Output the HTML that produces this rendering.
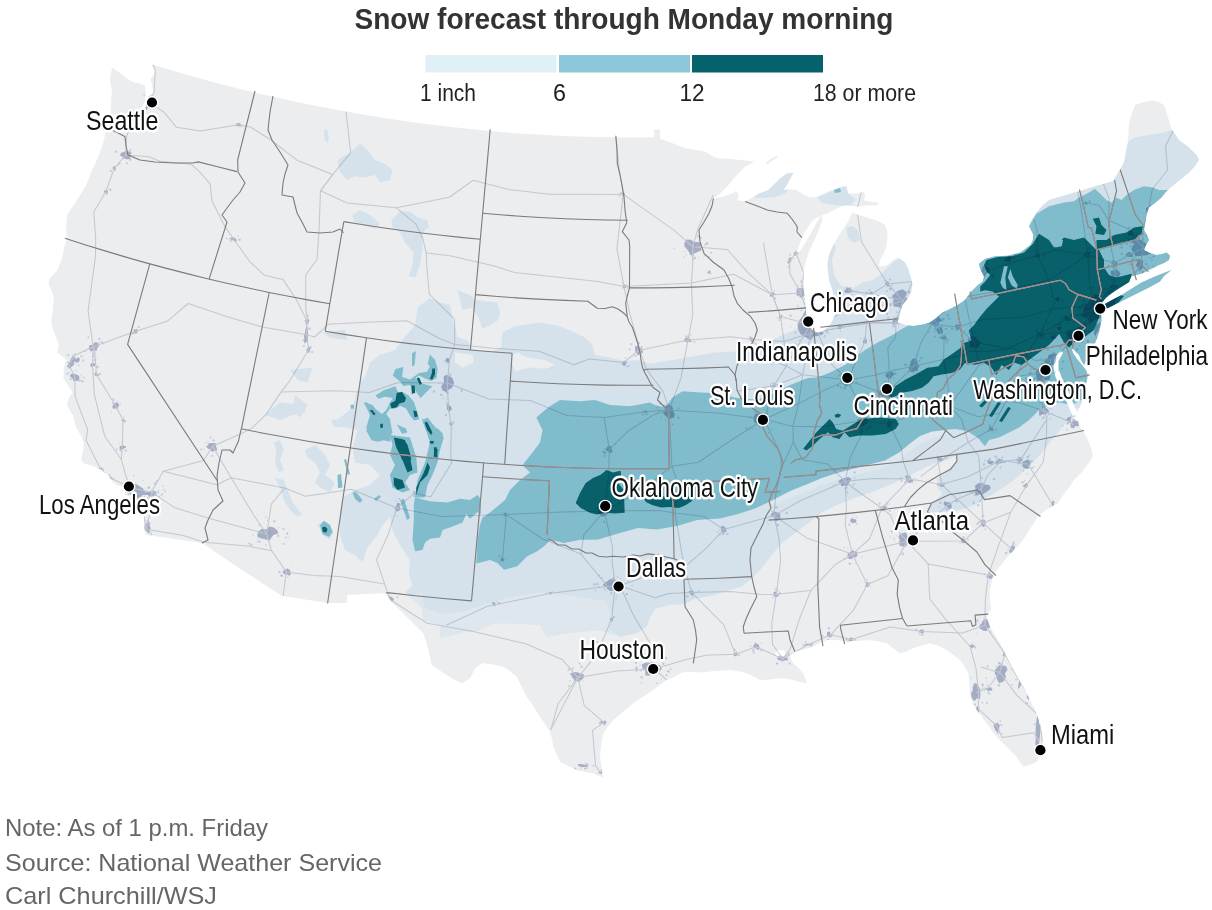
<!DOCTYPE html>
<html><head><meta charset="utf-8"><title>Snow forecast through Monday morning</title>
<style>
html,body{margin:0;padding:0;background:#fff}
body{width:1212px;height:910px;overflow:hidden;font-family:"Liberation Sans",sans-serif}
svg{display:block}
text{font-family:"Liberation Sans",sans-serif}
.lab{font-size:28.5px;fill:#111;stroke:#fff;stroke-width:5px;stroke-linejoin:round;paint-order:stroke fill}
.leg{font-size:23.5px;fill:#222}
.foot{font-size:24px;fill:#666}
.bd{fill:none;stroke:#7d7a7a;stroke-width:1.1;stroke-linejoin:round}
.rd{fill:none;stroke:#d6d8de;stroke-width:1.05;stroke-linejoin:round;stroke-linecap:round}
</style></head><body>
<svg width="1212" height="910" viewBox="0 0 1212 910">
<rect width="1212" height="910" fill="#fff"/>

<defs><clipPath id="landclip"><path d="M152.0,64.4 L179.1,72.5 L206.4,80.2 L233.7,87.4 L261.2,94.1 L288.8,100.3 L316.6,106.1 L344.4,111.3 L372.3,116.1 L400.2,120.4 L428.3,124.3 L456.4,127.6 L484.5,130.5 L512.7,132.9 L541.0,134.8 L569.3,136.2 L597.5,137.1 L625.8,137.5 L654.1,137.5 L654.0,129.5 L660.0,129.5 L660.0,138.5 L672.0,143.0 L685.7,148.3 L697.0,150.0 L705.7,151.7 L712.0,156.0 L717.3,158.3 L730.0,159.0 L740.7,160.0 L754.0,161.5 L755.2,160.9 L745.1,166.7 L736.8,175.1 L728.4,185.1 L720.1,193.5 L713.4,198.5 L723.4,196.5 L731.8,193.5 L736.8,191.0 L738.5,195.1 L737.6,200.2 L741.8,201.0 L745.1,201.5 L750.2,198.5 L754.3,196.8 L759.0,193.5 L768.5,190.1 L773.5,185.1 L780.2,178.4 L786.9,173.4 L793.6,172.6 L790.3,178.4 L786.9,185.1 L783.6,190.1 L790.3,189.3 L796.9,190.1 L803.6,195.1 L810.3,197.6 L817.0,196.8 L823.7,193.5 L832.0,190.1 L840.4,186.8 L847.1,185.9 L847.9,193.5 L857.1,193.5 L863.8,191.8 L865.4,195.1 L863.8,200.2 L870.5,201.8 L878.8,202.7 L877.1,205.2 L867.1,205.2 L857.1,206.8 L847.1,205.2 L840.4,206.8 L833.7,210.2 L827.0,213.5 L820.3,216.2 L813.6,219.5 L810.3,223.5 L807.0,228.6 L803.6,233.6 L801.9,237.7 L798.6,246.9 L796.1,253.6 L800.0,251.0 L805.5,243.0 L811.5,232.0 L817.5,221.0 L822.0,214.5 L822.5,220.0 L818.0,232.0 L813.0,243.0 L808.5,253.0 L806.3,260.0 L803.8,270.0 L803.8,285.0 L805.0,300.0 L806.3,315.0 L808.0,322.0 L810.0,327.5 L814.0,331.0 L817.5,332.5 L822.0,331.5 L825.0,330.0 L828.0,327.5 L830.0,325.0 L833.0,320.0 L835.0,315.0 L834.5,303.0 L832.5,290.0 L830.0,283.0 L828.8,277.5 L827.5,265.0 L828.5,258.0 L830.0,252.5 L833.0,246.0 L836.3,240.0 L839.0,235.0 L842.5,230.0 L845.0,226.0 L847.5,222.5 L849.0,220.0 L850.0,217.5 L851.0,214.5 L852.5,212.5 L857.5,214.5 L862.5,216.3 L869.0,218.0 L875.0,220.0 L880.0,222.0 L885.0,225.0 L887.0,230.0 L887.5,235.0 L887.0,241.0 L886.3,247.5 L883.5,254.0 L880.0,260.0 L878.8,266.3 L883.0,266.0 L887.5,265.0 L892.0,261.0 L897.5,257.5 L901.0,259.5 L905.0,262.5 L908.0,268.5 L910.0,275.0 L911.5,280.0 L912.5,285.0 L911.5,290.0 L910.0,295.0 L906.5,300.0 L902.5,305.0 L901.0,310.0 L900.0,315.0 L898.5,319.0 L897.5,322.5 L902.0,324.0 L907.5,325.5 L914.0,326.0 L920.0,325.0 L925.0,324.0 L930.0,322.5 L936.0,318.0 L942.5,312.5 L950.0,309.0 L957.5,305.0 L965.0,300.0 L970.2,292.7 L977.7,285.2 L982.7,281.4 L984.0,276.4 L980.2,268.9 L978.9,263.8 L985.2,258.8 L995.2,256.3 L1007.8,255.7 L1020.3,252.5 L1030.4,245.0 L1032.9,240.0 L1033.0,234.0 L1031.5,231.0 L1029.0,226.3 L1032.0,219.0 L1036.5,212.5 L1042.0,206.0 L1049.0,200.0 L1064.0,195.5 L1079.0,191.3 L1096.0,186.0 L1112.8,181.3 L1116.0,176.0 L1119.0,171.3 L1122.0,166.0 L1124.0,162.5 L1126.0,152.0 L1127.8,142.5 L1128.5,132.0 L1129.0,122.5 L1132.0,113.0 L1135.3,105.0 L1144.0,102.0 L1152.8,100.5 L1158.5,102.0 L1164.0,105.0 L1167.0,114.0 L1171.5,128.8 L1175.0,134.0 L1179.0,140.0 L1187.0,146.0 L1194.0,152.5 L1197.0,156.0 L1199.0,160.0 L1195.0,166.0 L1189.0,172.5 L1185.0,176.0 L1181.5,178.8 L1175.0,184.0 L1169.0,188.8 L1165.0,193.0 L1161.5,197.5 L1155.0,203.0 L1149.0,207.5 L1146.5,215.0 L1145.3,222.5 L1144.0,230.0 L1147.0,235.0 L1149.0,240.0 L1146.0,245.0 L1144.0,250.0 L1150.0,253.0 L1156.5,255.0 L1162.0,254.0 L1166.5,252.5 L1170.0,255.5 L1169.0,260.0 L1164.0,263.0 L1159.0,265.0 L1154.0,267.5 L1149.0,270.0 L1145.0,272.0 L1141.5,273.8 L1136.0,275.0 L1131.5,276.3 L1130.0,279.5 L1129.0,282.5 L1122.0,286.5 L1116.5,290.0 L1111.0,294.0 L1106.5,297.5 L1103.0,301.5 L1100.3,305.0 L1099.0,307.5 L1101.0,313.0 L1101.5,320.0 L1100.5,326.0 L1099.0,332.5 L1097.0,338.0 L1095.3,342.5 L1092.0,349.0 L1089.0,355.0 L1086.5,360.0 L1084.0,365.0 L1081.0,360.0 L1079.0,355.0 L1075.0,351.0 L1071.5,347.5 L1073.0,353.0 L1077.0,359.0 L1082.0,365.0 L1086.0,370.0 L1087.8,375.0 L1086.5,382.0 L1084.0,390.0 L1083.0,396.0 L1081.5,402.5 L1079.0,409.0 L1076.5,415.0 L1075.0,418.0 L1078.0,421.0 L1079.0,425.0 L1081.5,429.0 L1084.0,432.5 L1086.5,437.0 L1089.0,442.5 L1091.5,449.0 L1092.8,455.0 L1091.5,459.0 L1089.0,462.5 L1085.0,468.0 L1081.5,472.5 L1077.5,476.5 L1074.0,480.0 L1071.5,483.5 L1069.0,487.5 L1065.0,492.5 L1061.5,497.5 L1058.0,503.0 L1054.7,505.0 L1046.0,510.0 L1038.0,516.3 L1030.0,529.0 L1021.0,543.0 L1014.0,550.0 L1008.0,556.3 L1001.0,565.0 L994.7,573.0 L992.0,581.0 L989.7,589.7 L990.0,600.0 L991.0,609.7 L988.0,613.0 L986.7,615.0 L988.0,621.0 L990.0,626.7 L995.0,635.0 L1000.0,643.3 L1005.0,653.0 L1010.0,663.3 L1016.5,675.0 L1023.3,686.7 L1028.5,697.0 L1033.3,706.7 L1037.0,715.0 L1040.0,723.3 L1042.0,732.0 L1043.3,740.0 L1042.8,747.0 L1041.7,753.3 L1039.5,758.0 L1036.7,761.7 L1030.0,765.0 L1023.3,766.7 L1019.5,762.0 L1016.7,756.7 L1011.5,752.0 L1006.7,746.7 L1001.5,742.0 L996.7,736.7 L991.5,730.0 L986.7,723.3 L981.5,716.5 L976.7,710.0 L973.0,703.5 L970.0,696.7 L969.5,685.0 L968.3,673.3 L964.5,666.5 L960.0,660.0 L953.5,655.0 L946.7,650.0 L938.5,646.0 L930.0,643.3 L921.5,645.5 L913.3,648.3 L906.5,651.5 L900.0,653.3 L893.0,648.0 L886.7,643.3 L876.5,641.0 L866.7,640.0 L856.5,641.0 L846.7,641.7 L836.5,640.0 L826.7,640.0 L820.0,643.0 L813.3,646.7 L804.0,649.5 L795.0,651.7 L790.0,655.0 L791.0,659.5 L793.3,663.3 L798.5,668.0 L803.3,673.3 L805.5,678.5 L806.7,683.3 L800.0,682.0 L793.3,680.0 L786.5,678.5 L780.0,678.3 L770.0,679.5 L760.0,680.0 L753.5,676.5 L746.7,673.3 L738.5,671.0 L730.0,670.0 L715.0,671.0 L700.0,672.5 L692.0,672.0 L686.0,671.5 L680.0,673.5 L674.0,677.0 L666.7,680.0 L660.0,685.0 L653.3,690.0 L643.5,696.5 L633.3,703.3 L623.5,711.5 L613.3,720.0 L608.0,726.5 L603.3,733.3 L601.0,745.0 L600.0,756.7 L601.5,767.0 L603.3,778.3 L598.5,775.5 L593.3,773.3 L585.0,772.0 L576.7,770.0 L568.5,766.0 L560.0,761.7 L556.5,754.0 L553.3,746.7 L552.0,739.0 L550.0,731.7 L545.0,724.0 L540.0,716.7 L533.5,706.5 L526.7,696.7 L521.5,686.5 L516.7,676.7 L510.0,671.0 L503.3,666.7 L493.5,664.5 L483.3,663.3 L479.0,665.5 L475.0,668.3 L472.5,673.5 L470.0,678.3 L466.0,681.0 L461.7,683.3 L454.0,679.5 L446.7,675.0 L439.0,670.0 L431.7,665.0 L430.0,657.5 L428.3,650.0 L426.0,641.5 L423.3,633.3 L416.5,626.5 L410.0,620.0 L400.0,610.0 L390.0,600.0 L386.0,593.3 L366.0,594.0 L347.0,595.0 L347.0,603.0 L328.0,603.0 L305.0,599.5 L282.0,596.0 L262.0,583.0 L242.0,570.0 L222.0,556.5 L202.0,543.0 L174.5,539.0 L147.0,535.0 L145.7,534.5 L143.8,529.2 L144.1,525.0 L143.7,514.9 L138.5,506.5 L135.0,501.4 L131.3,497.0 L124.8,494.5 L125.1,488.9 L123.3,486.4 L117.6,485.5 L111.6,481.1 L108.3,475.3 L100.4,469.5 L94.1,466.3 L83.7,463.4 L81.1,459.0 L83.1,450.3 L83.9,443.3 L81.7,436.9 L75.7,426.5 L73.0,415.6 L66.8,405.1 L69.2,397.1 L72.9,392.4 L68.8,386.8 L63.4,377.9 L63.7,369.3 L65.5,361.7 L66.8,360.6 L63.8,357.7 L57.3,352.8 L58.7,344.5 L52.6,327.9 L51.2,321.7 L53.0,309.1 L53.8,296.2 L48.7,284.3 L49.4,278.9 L56.9,270.8 L61.5,260.6 L64.7,245.5 L66.9,238.9 L66.0,226.9 L67.2,214.4 L75.6,202.3 L85.5,186.5 L91.7,171.0 L96.5,160.9 L101.7,148.0 L104.7,137.3 L106.2,127.6 L109.2,118.4 L110.9,110.2 L111.2,98.7 L112.0,90.3 L110.0,80.9 L110.5,73.8 L112.5,67.8 L122.4,74.8 L128.7,79.7 L133.8,82.2 L141.2,83.7 L144.8,85.7 L145.9,92.4 L144.8,100.7 L141.8,107.0 L133.4,111.6 L137.8,113.6 L143.7,110.5 L146.3,105.5 L148.2,101.7 L149.1,96.2 L153.2,92.3 L152.3,85.7 L150.3,79.3 L153.3,75.9 L154.6,70.5 L151.7,65.4Z M1101.5,306.5 L1104.0,304.5 L1112.0,300.0 L1121.5,295.0 L1131.0,289.0 L1141.5,282.5 L1156.0,276.0 L1171.5,270.0 L1164.0,276.0 L1160.0,281.5 L1149.0,287.5 L1139.0,292.5 L1129.0,297.5 L1119.0,302.5 L1109.0,307.5 L1103.0,310.0Z M766.0,163.0 L771.0,158.5 L777.0,155.5 L778.0,157.0 L772.0,161.0 L767.0,164.5Z"/></clipPath></defs>
<path d="M152.0,64.4 L179.1,72.5 L206.4,80.2 L233.7,87.4 L261.2,94.1 L288.8,100.3 L316.6,106.1 L344.4,111.3 L372.3,116.1 L400.2,120.4 L428.3,124.3 L456.4,127.6 L484.5,130.5 L512.7,132.9 L541.0,134.8 L569.3,136.2 L597.5,137.1 L625.8,137.5 L654.1,137.5 L654.0,129.5 L660.0,129.5 L660.0,138.5 L672.0,143.0 L685.7,148.3 L697.0,150.0 L705.7,151.7 L712.0,156.0 L717.3,158.3 L730.0,159.0 L740.7,160.0 L754.0,161.5 L755.2,160.9 L745.1,166.7 L736.8,175.1 L728.4,185.1 L720.1,193.5 L713.4,198.5 L723.4,196.5 L731.8,193.5 L736.8,191.0 L738.5,195.1 L737.6,200.2 L741.8,201.0 L745.1,201.5 L750.2,198.5 L754.3,196.8 L759.0,193.5 L768.5,190.1 L773.5,185.1 L780.2,178.4 L786.9,173.4 L793.6,172.6 L790.3,178.4 L786.9,185.1 L783.6,190.1 L790.3,189.3 L796.9,190.1 L803.6,195.1 L810.3,197.6 L817.0,196.8 L823.7,193.5 L832.0,190.1 L840.4,186.8 L847.1,185.9 L847.9,193.5 L857.1,193.5 L863.8,191.8 L865.4,195.1 L863.8,200.2 L870.5,201.8 L878.8,202.7 L877.1,205.2 L867.1,205.2 L857.1,206.8 L847.1,205.2 L840.4,206.8 L833.7,210.2 L827.0,213.5 L820.3,216.2 L813.6,219.5 L810.3,223.5 L807.0,228.6 L803.6,233.6 L801.9,237.7 L798.6,246.9 L796.1,253.6 L800.0,251.0 L805.5,243.0 L811.5,232.0 L817.5,221.0 L822.0,214.5 L822.5,220.0 L818.0,232.0 L813.0,243.0 L808.5,253.0 L806.3,260.0 L803.8,270.0 L803.8,285.0 L805.0,300.0 L806.3,315.0 L808.0,322.0 L810.0,327.5 L814.0,331.0 L817.5,332.5 L822.0,331.5 L825.0,330.0 L828.0,327.5 L830.0,325.0 L833.0,320.0 L835.0,315.0 L834.5,303.0 L832.5,290.0 L830.0,283.0 L828.8,277.5 L827.5,265.0 L828.5,258.0 L830.0,252.5 L833.0,246.0 L836.3,240.0 L839.0,235.0 L842.5,230.0 L845.0,226.0 L847.5,222.5 L849.0,220.0 L850.0,217.5 L851.0,214.5 L852.5,212.5 L857.5,214.5 L862.5,216.3 L869.0,218.0 L875.0,220.0 L880.0,222.0 L885.0,225.0 L887.0,230.0 L887.5,235.0 L887.0,241.0 L886.3,247.5 L883.5,254.0 L880.0,260.0 L878.8,266.3 L883.0,266.0 L887.5,265.0 L892.0,261.0 L897.5,257.5 L901.0,259.5 L905.0,262.5 L908.0,268.5 L910.0,275.0 L911.5,280.0 L912.5,285.0 L911.5,290.0 L910.0,295.0 L906.5,300.0 L902.5,305.0 L901.0,310.0 L900.0,315.0 L898.5,319.0 L897.5,322.5 L902.0,324.0 L907.5,325.5 L914.0,326.0 L920.0,325.0 L925.0,324.0 L930.0,322.5 L936.0,318.0 L942.5,312.5 L950.0,309.0 L957.5,305.0 L965.0,300.0 L970.2,292.7 L977.7,285.2 L982.7,281.4 L984.0,276.4 L980.2,268.9 L978.9,263.8 L985.2,258.8 L995.2,256.3 L1007.8,255.7 L1020.3,252.5 L1030.4,245.0 L1032.9,240.0 L1033.0,234.0 L1031.5,231.0 L1029.0,226.3 L1032.0,219.0 L1036.5,212.5 L1042.0,206.0 L1049.0,200.0 L1064.0,195.5 L1079.0,191.3 L1096.0,186.0 L1112.8,181.3 L1116.0,176.0 L1119.0,171.3 L1122.0,166.0 L1124.0,162.5 L1126.0,152.0 L1127.8,142.5 L1128.5,132.0 L1129.0,122.5 L1132.0,113.0 L1135.3,105.0 L1144.0,102.0 L1152.8,100.5 L1158.5,102.0 L1164.0,105.0 L1167.0,114.0 L1171.5,128.8 L1175.0,134.0 L1179.0,140.0 L1187.0,146.0 L1194.0,152.5 L1197.0,156.0 L1199.0,160.0 L1195.0,166.0 L1189.0,172.5 L1185.0,176.0 L1181.5,178.8 L1175.0,184.0 L1169.0,188.8 L1165.0,193.0 L1161.5,197.5 L1155.0,203.0 L1149.0,207.5 L1146.5,215.0 L1145.3,222.5 L1144.0,230.0 L1147.0,235.0 L1149.0,240.0 L1146.0,245.0 L1144.0,250.0 L1150.0,253.0 L1156.5,255.0 L1162.0,254.0 L1166.5,252.5 L1170.0,255.5 L1169.0,260.0 L1164.0,263.0 L1159.0,265.0 L1154.0,267.5 L1149.0,270.0 L1145.0,272.0 L1141.5,273.8 L1136.0,275.0 L1131.5,276.3 L1130.0,279.5 L1129.0,282.5 L1122.0,286.5 L1116.5,290.0 L1111.0,294.0 L1106.5,297.5 L1103.0,301.5 L1100.3,305.0 L1099.0,307.5 L1101.0,313.0 L1101.5,320.0 L1100.5,326.0 L1099.0,332.5 L1097.0,338.0 L1095.3,342.5 L1092.0,349.0 L1089.0,355.0 L1086.5,360.0 L1084.0,365.0 L1081.0,360.0 L1079.0,355.0 L1075.0,351.0 L1071.5,347.5 L1073.0,353.0 L1077.0,359.0 L1082.0,365.0 L1086.0,370.0 L1087.8,375.0 L1086.5,382.0 L1084.0,390.0 L1083.0,396.0 L1081.5,402.5 L1079.0,409.0 L1076.5,415.0 L1075.0,418.0 L1078.0,421.0 L1079.0,425.0 L1081.5,429.0 L1084.0,432.5 L1086.5,437.0 L1089.0,442.5 L1091.5,449.0 L1092.8,455.0 L1091.5,459.0 L1089.0,462.5 L1085.0,468.0 L1081.5,472.5 L1077.5,476.5 L1074.0,480.0 L1071.5,483.5 L1069.0,487.5 L1065.0,492.5 L1061.5,497.5 L1058.0,503.0 L1054.7,505.0 L1046.0,510.0 L1038.0,516.3 L1030.0,529.0 L1021.0,543.0 L1014.0,550.0 L1008.0,556.3 L1001.0,565.0 L994.7,573.0 L992.0,581.0 L989.7,589.7 L990.0,600.0 L991.0,609.7 L988.0,613.0 L986.7,615.0 L988.0,621.0 L990.0,626.7 L995.0,635.0 L1000.0,643.3 L1005.0,653.0 L1010.0,663.3 L1016.5,675.0 L1023.3,686.7 L1028.5,697.0 L1033.3,706.7 L1037.0,715.0 L1040.0,723.3 L1042.0,732.0 L1043.3,740.0 L1042.8,747.0 L1041.7,753.3 L1039.5,758.0 L1036.7,761.7 L1030.0,765.0 L1023.3,766.7 L1019.5,762.0 L1016.7,756.7 L1011.5,752.0 L1006.7,746.7 L1001.5,742.0 L996.7,736.7 L991.5,730.0 L986.7,723.3 L981.5,716.5 L976.7,710.0 L973.0,703.5 L970.0,696.7 L969.5,685.0 L968.3,673.3 L964.5,666.5 L960.0,660.0 L953.5,655.0 L946.7,650.0 L938.5,646.0 L930.0,643.3 L921.5,645.5 L913.3,648.3 L906.5,651.5 L900.0,653.3 L893.0,648.0 L886.7,643.3 L876.5,641.0 L866.7,640.0 L856.5,641.0 L846.7,641.7 L836.5,640.0 L826.7,640.0 L820.0,643.0 L813.3,646.7 L804.0,649.5 L795.0,651.7 L790.0,655.0 L791.0,659.5 L793.3,663.3 L798.5,668.0 L803.3,673.3 L805.5,678.5 L806.7,683.3 L800.0,682.0 L793.3,680.0 L786.5,678.5 L780.0,678.3 L770.0,679.5 L760.0,680.0 L753.5,676.5 L746.7,673.3 L738.5,671.0 L730.0,670.0 L715.0,671.0 L700.0,672.5 L692.0,672.0 L686.0,671.5 L680.0,673.5 L674.0,677.0 L666.7,680.0 L660.0,685.0 L653.3,690.0 L643.5,696.5 L633.3,703.3 L623.5,711.5 L613.3,720.0 L608.0,726.5 L603.3,733.3 L601.0,745.0 L600.0,756.7 L601.5,767.0 L603.3,778.3 L598.5,775.5 L593.3,773.3 L585.0,772.0 L576.7,770.0 L568.5,766.0 L560.0,761.7 L556.5,754.0 L553.3,746.7 L552.0,739.0 L550.0,731.7 L545.0,724.0 L540.0,716.7 L533.5,706.5 L526.7,696.7 L521.5,686.5 L516.7,676.7 L510.0,671.0 L503.3,666.7 L493.5,664.5 L483.3,663.3 L479.0,665.5 L475.0,668.3 L472.5,673.5 L470.0,678.3 L466.0,681.0 L461.7,683.3 L454.0,679.5 L446.7,675.0 L439.0,670.0 L431.7,665.0 L430.0,657.5 L428.3,650.0 L426.0,641.5 L423.3,633.3 L416.5,626.5 L410.0,620.0 L400.0,610.0 L390.0,600.0 L386.0,593.3 L366.0,594.0 L347.0,595.0 L347.0,603.0 L328.0,603.0 L305.0,599.5 L282.0,596.0 L262.0,583.0 L242.0,570.0 L222.0,556.5 L202.0,543.0 L174.5,539.0 L147.0,535.0 L145.7,534.5 L143.8,529.2 L144.1,525.0 L143.7,514.9 L138.5,506.5 L135.0,501.4 L131.3,497.0 L124.8,494.5 L125.1,488.9 L123.3,486.4 L117.6,485.5 L111.6,481.1 L108.3,475.3 L100.4,469.5 L94.1,466.3 L83.7,463.4 L81.1,459.0 L83.1,450.3 L83.9,443.3 L81.7,436.9 L75.7,426.5 L73.0,415.6 L66.8,405.1 L69.2,397.1 L72.9,392.4 L68.8,386.8 L63.4,377.9 L63.7,369.3 L65.5,361.7 L66.8,360.6 L63.8,357.7 L57.3,352.8 L58.7,344.5 L52.6,327.9 L51.2,321.7 L53.0,309.1 L53.8,296.2 L48.7,284.3 L49.4,278.9 L56.9,270.8 L61.5,260.6 L64.7,245.5 L66.9,238.9 L66.0,226.9 L67.2,214.4 L75.6,202.3 L85.5,186.5 L91.7,171.0 L96.5,160.9 L101.7,148.0 L104.7,137.3 L106.2,127.6 L109.2,118.4 L110.9,110.2 L111.2,98.7 L112.0,90.3 L110.0,80.9 L110.5,73.8 L112.5,67.8 L122.4,74.8 L128.7,79.7 L133.8,82.2 L141.2,83.7 L144.8,85.7 L145.9,92.4 L144.8,100.7 L141.8,107.0 L133.4,111.6 L137.8,113.6 L143.7,110.5 L146.3,105.5 L148.2,101.7 L149.1,96.2 L153.2,92.3 L152.3,85.7 L150.3,79.3 L153.3,75.9 L154.6,70.5 L151.7,65.4Z M1101.5,306.5 L1104.0,304.5 L1112.0,300.0 L1121.5,295.0 L1131.0,289.0 L1141.5,282.5 L1156.0,276.0 L1171.5,270.0 L1164.0,276.0 L1160.0,281.5 L1149.0,287.5 L1139.0,292.5 L1129.0,297.5 L1119.0,302.5 L1109.0,307.5 L1103.0,310.0Z M766.0,163.0 L771.0,158.5 L777.0,155.5 L778.0,157.0 L772.0,161.0 L767.0,164.5Z" fill="#ebedef"/>
<g clip-path="url(#landclip)">
<path d="M826.0,243.0 L833.0,240.0 L836.0,248.0 L832.0,260.0 L834.0,275.0 L842.0,288.0 L828.0,282.0 L825.0,265.0 L826.0,250.0Z" fill="#d5e2eb"/>
<path d="M402.5,340.0 L415.0,325.0 L417.5,307.5 L430.0,298.0 L440.0,302.5 L450.0,305.0 L452.5,317.5 L456.0,330.0 L457.0,337.0 L468.0,340.5 L470.5,349.0 L490.0,352.0 L501.0,348.0 L502.5,332.5 L515.0,326.3 L540.0,322.5 L560.0,326.3 L575.0,332.5 L585.0,337.5 L592.5,345.0 L595.0,355.0 L610.0,357.5 L625.0,361.3 L637.5,360.0 L650.0,363.8 L665.0,361.3 L680.0,358.8 L700.0,355.0 L715.0,352.5 L743.0,351.3 L750.0,352.5 L765.0,342.5 L772.5,340.0 L782.5,335.0 L795.0,330.0 L800.0,325.0 L806.0,318.0 L815.0,300.0 L828.8,277.5 L840.0,285.0 L850.0,290.0 L862.5,282.5 L872.5,280.0 L880.0,275.0 L890.0,265.0 L900.0,257.5 L907.5,265.0 L918.0,280.0 L915.0,300.0 L905.0,318.0 L940.0,300.0 L975.0,270.0 L1025.0,228.0 L1030.0,210.0 L1045.0,198.0 L1075.0,188.0 L1110.0,178.0 L1120.0,165.0 L1127.8,142.5 L1134.0,137.5 L1149.0,135.0 L1164.0,132.5 L1171.5,130.0 L1182.0,135.0 L1208.0,150.0 L1208.0,280.0 L1120.0,330.0 L1100.0,400.0 L1085.0,405.0 L1075.0,410.0 L1070.0,417.5 L1060.0,430.0 L1050.0,442.5 L1040.0,455.0 L1025.0,470.0 L1014.0,480.0 L1004.0,487.0 L994.0,493.5 L984.0,499.0 L975.0,505.0 L960.0,510.0 L945.0,512.0 L930.0,512.0 L927.0,509.0 L934.0,502.0 L942.0,494.0 L938.0,488.0 L937.0,479.0 L944.0,473.0 L950.0,468.0 L956.0,462.0 L957.0,455.0 L947.0,460.1 L937.0,462.6 L926.9,466.8 L913.6,473.4 L900.2,480.1 L886.8,486.0 L870.1,492.7 L853.4,498.5 L836.7,505.2 L820.0,513.5 L811.4,520.2 L802.5,527.5 L792.5,535.0 L780.0,545.0 L770.0,557.5 L760.0,570.0 L750.0,580.0 L742.5,586.3 L730.0,590.0 L715.0,595.0 L695.0,598.8 L685.0,603.8 L670.0,605.0 L655.0,608.8 L650.0,617.5 L646.7,626.7 L636.7,633.3 L620.0,636.7 L600.0,630.0 L566.7,633.3 L546.7,636.7 L540.0,625.0 L513.3,623.3 L493.3,623.3 L480.0,630.0 L460.0,633.3 L440.0,638.3 L440.0,625.0 L423.3,620.0 L421.7,606.7 L405.0,592.5 L412.5,585.0 L408.8,575.0 L410.0,560.0 L400.0,545.0 L392.5,530.0 L390.0,517.5 L382.5,525.0 L377.5,535.0 L367.5,547.5 L362.5,562.5 L355.0,555.0 L345.0,550.0 L340.0,535.0 L340.0,512.5 L342.5,497.5 L355.0,490.0 L370.0,485.0 L380.0,475.0 L370.0,465.0 L355.0,462.5 L352.5,447.5 L355.0,440.0 L357.5,430.0 L345.0,427.5 L332.5,425.0 L337.5,420.0 L352.5,407.5 L356.0,395.0 L360.0,382.5 L366.0,375.0 L370.0,362.5 L380.0,355.0 L395.0,350.0Z" fill="#d5e2eb"/>
<path d="M337.5,160.0 L350.0,152.5 L360.0,143.8 L367.5,150.0 L375.0,160.0 L385.0,163.8 L392.5,170.0 L390.0,180.0 L380.0,182.5 L375.0,175.0 L365.0,177.5 L355.0,176.3 L347.5,180.0 L340.0,172.5Z" fill="#d5e2eb"/>
<path d="M323.8,130.0 L327.0,129.0 L328.8,136.0 L328.0,142.5 L325.0,141.0Z" fill="#d5e2eb"/>
<path d="M352.5,215.0 L360.0,210.0 L370.0,215.0 L380.0,223.8 L375.0,228.8 L362.5,225.0 L353.8,221.3Z" fill="#d5e2eb"/>
<path d="M391.3,220.0 L400.0,211.3 L410.0,211.3 L417.5,217.5 L427.5,220.0 L428.8,227.5 L422.5,232.5 L422.5,250.0 L420.0,265.0 L415.0,277.5 L408.8,276.3 L412.5,265.0 L413.8,252.5 L405.0,242.5 L400.0,232.5 L392.5,227.5Z" fill="#d5e2eb"/>
<path d="M457.5,290.0 L470.0,295.0 L475.0,300.0 L497.5,302.5 L500.0,312.5 L498.0,320.0 L492.5,324.0 L482.5,329.0 L478.8,317.5 L472.5,307.5 L462.5,310.0 L460.0,300.0Z" fill="#d5e2eb"/>
<path d="M273.8,442.5 L280.0,440.0 L283.8,450.0 L280.0,460.0 L283.8,470.0 L278.8,472.5 L275.0,462.5 L276.3,452.5Z" fill="#d5e2eb"/>
<path d="M305.0,450.0 L315.0,445.0 L325.0,455.0 L330.0,465.0 L325.0,475.0 L335.0,482.5 L330.0,492.5 L320.0,487.5 L315.0,482.5 L320.0,472.5 L315.0,462.5 L307.5,457.5Z" fill="#d5e2eb"/>
<path d="M275.0,477.5 L283.8,480.0 L287.5,490.0 L292.5,502.5 L302.5,515.0 L297.5,516.3 L290.0,510.0 L283.8,500.0 L280.0,487.5Z" fill="#d5e2eb"/>
<path d="M317.5,525.0 L323.8,520.0 L330.0,525.0 L333.8,532.5 L330.0,540.0 L322.5,535.0Z" fill="#d5e2eb"/>
<path d="M265.0,415.0 L280.0,402.5 L305.0,405.0 L305.0,412.5 L292.5,415.0 L280.0,420.0Z" fill="#d5e2eb"/>
<path d="M331.0,420.0 L352.5,417.5 L355.0,425.0 L335.0,427.5Z" fill="#d5e2eb"/>
<path d="M290.0,370.0 L312.5,367.5 L307.5,382.5 L298.0,380.0Z" fill="#d5e2eb"/>
<path d="M295.0,395.0 L307.5,405.0 L300.0,417.5 L292.5,410.0Z" fill="#d5e2eb"/>
<path d="M322.5,332.5 L345.0,330.0 L347.5,340.0 L330.0,337.5Z" fill="#d5e2eb"/>
<path d="M753.0,198.0 L760.0,190.0 L772.0,178.0 L790.0,172.0 L796.0,174.0 L790.0,186.0 L786.0,193.0 L775.0,197.0 L765.0,198.0Z" fill="#d5e2eb"/>
<path d="M817.5,197.5 L835.0,190.0 L845.0,186.0 L850.0,195.0 L856.0,200.0 L850.0,206.0 L835.0,205.0 L822.0,203.0Z" fill="#d5e2eb"/>
<path d="M846.0,228.0 L852.0,226.0 L858.0,230.0 L860.0,240.0 L854.0,243.0 L848.0,238.0Z" fill="#d5e2eb"/>
<path d="M512.5,355.0 L517.5,352.5 L527.5,357.5 L545.0,360.0 L555.0,365.0 L545.0,368.8 L530.0,367.5 L515.0,371.3 L512.5,365.0Z" fill="#ebedef"/>
<path d="M455.0,352.5 L472.5,355.0 L473.8,362.5 L462.5,367.5 L455.0,362.5Z" fill="#ebedef"/>
<path d="M770.0,501.5 L790.0,491.0 L805.0,485.0 L822.0,478.0 L837.0,473.0 L852.0,469.0 L867.0,465.0 L885.0,460.5 L899.0,452.5 L910.0,443.5 L920.0,436.0 L932.0,431.5 L945.0,430.0 L952.0,431.0 L945.0,435.0 L932.0,438.5 L920.0,443.5 L910.0,451.0 L899.0,460.0 L885.0,467.5 L867.0,472.0 L852.0,476.0 L837.0,480.0 L822.0,485.0 L805.0,492.0 L790.0,498.0 L772.0,505.0Z" fill="#dee7ee"/>
<path d="M422.5,592.5 L423.8,607.5 L442.5,613.8 L465.0,611.3 L482.5,605.0 L507.5,597.5 L540.0,592.5 L575.0,596.3 L605.0,601.3 L612.5,615.0 L608.8,628.8 L617.5,635.0 L620.0,636.7 L600.0,630.0 L566.7,633.3 L546.7,636.7 L540.0,625.0 L513.3,623.3 L493.3,623.3 L480.0,630.0 L460.0,633.3 L440.0,638.3 L440.0,625.0 L423.3,620.0 L421.7,606.7 L410.0,596.0Z" fill="#dee7ee"/>
<path d="M482.5,517.5 L490.0,512.5 L505.0,500.0 L510.0,490.0 L520.0,480.0 L530.0,472.5 L522.5,465.0 L532.5,452.5 L540.0,442.5 L542.5,430.0 L536.3,417.5 L545.0,410.0 L550.0,406.3 L560.0,400.0 L580.0,401.3 L595.0,400.0 L610.0,405.0 L630.0,406.3 L650.0,402.5 L655.0,405.0 L665.0,407.5 L672.5,397.5 L682.5,391.3 L700.0,392.5 L714.0,393.0 L737.3,398.0 L757.3,399.7 L774.0,393.0 L790.7,384.7 L808.0,378.0 L817.5,377.5 L830.0,372.5 L845.0,365.0 L855.0,357.5 L865.0,350.0 L877.5,342.5 L892.5,335.0 L900.0,330.0 L907.5,326.0 L905.0,318.0 L940.0,300.0 L975.0,275.0 L975.0,262.0 L1000.0,250.0 L1025.0,235.0 L1025.0,226.0 L1029.0,226.3 L1036.5,213.8 L1049.0,206.3 L1064.0,202.5 L1074.0,201.3 L1079.0,197.5 L1089.0,192.5 L1095.0,188.8 L1101.5,195.0 L1106.5,200.0 L1111.5,202.5 L1116.5,197.5 L1121.5,200.0 L1126.5,195.0 L1134.0,190.0 L1144.0,186.3 L1152.8,187.5 L1159.0,190.0 L1166.5,190.0 L1180.0,186.0 L1205.0,200.0 L1205.0,275.0 L1130.0,320.0 L1105.0,380.0 L1090.0,400.0 L1081.5,400.0 L1071.5,405.0 L1059.0,402.5 L1049.0,405.0 L1039.0,410.0 L1029.0,420.0 L1019.0,427.5 L1009.0,432.5 L999.0,437.5 L989.0,440.0 L985.0,446.3 L978.0,438.0 L967.0,431.0 L955.0,429.0 L945.0,430.0 L932.0,431.5 L920.0,436.0 L910.0,443.5 L899.0,452.5 L885.0,460.5 L867.0,465.0 L852.0,469.0 L837.0,473.0 L822.0,478.0 L805.0,485.0 L790.0,491.0 L771.0,501.0 L755.0,508.5 L738.0,514.0 L720.0,518.5 L697.0,520.0 L677.0,526.0 L657.0,529.5 L638.0,528.0 L620.0,533.0 L597.3,539.7 L580.7,539.7 L564.0,543.0 L550.7,539.7 L544.0,546.3 L537.3,551.3 L527.3,556.3 L517.3,566.3 L504.0,569.7 L497.3,563.0 L490.0,560.0 L476.3,563.5 L477.5,540.0 L480.0,525.0Z" fill="#81bccc"/>
<path d="M415.0,497.5 L430.0,501.3 L447.5,502.5 L460.0,498.8 L470.0,500.0 L477.5,495.0 L480.0,498.0 L481.0,514.0 L477.5,512.0 L470.0,518.8 L466.3,513.8 L462.5,522.5 L450.0,527.5 L442.5,530.0 L440.0,537.5 L430.0,538.8 L425.0,542.5 L422.5,550.0 L415.0,551.3 L412.5,540.0 L413.8,520.0 L413.8,505.0Z" fill="#81bccc"/>
<path d="M412.0,353.2 L415.9,351.2 L414.6,365.1 L412.0,366.4Z" fill="#81bccc"/>
<path d="M429.8,354.5 L435.0,359.8 L437.7,369.0 L436.4,378.3 L431.1,380.9 L424.5,378.3 L419.2,375.6 L415.2,378.3 L421.8,383.6 L432.4,386.2 L425.8,392.8 L420.5,398.1 L416.6,392.8 L413.9,387.5 L408.6,384.9 L403.4,386.2 L400.7,382.2 L392.8,375.6 L395.4,369.0 L403.4,367.1 L402.0,377.0 L410.0,379.6 L419.2,373.0 L427.1,371.7 L429.8,366.4 L427.8,363.8Z" fill="#81bccc"/>
<path d="M375.6,395.4 L383.6,390.2 L395.4,386.2 L398.1,392.8 L402.0,391.5 L408.6,395.4 L413.9,402.0 L416.6,410.0 L419.2,419.2 L413.9,420.5 L410.0,415.2 L406.0,408.6 L400.7,406.0 L395.4,408.6 L390.2,408.6 L386.2,413.9 L390.2,419.2 L388.8,425.8 L391.5,432.4 L390.2,441.7 L383.6,440.3 L378.3,441.7 L371.7,440.3 L366.4,431.1 L367.7,424.5 L375.6,421.8 L379.6,417.9 L375.6,415.2 L370.4,410.0 L363.8,403.4 L366.4,402.0 L373.0,407.3 L382.2,413.9 L386.2,410.0 L390.2,402.0 L392.8,398.1 L384.9,396.8 L378.3,398.7Z" fill="#81bccc"/>
<path d="M421.8,417.9 L425.8,421.8 L431.1,427.1 L437.7,428.4 L443.0,433.7 L441.7,441.7 L439.0,449.6 L437.7,456.2 L432.4,456.2 L431.1,448.3 L432.4,440.3 L429.8,435.0 L425.8,429.8 L423.2,423.2Z" fill="#81bccc"/>
<path d="M394.1,437.7 L402.0,437.7 L408.6,441.7 L411.3,449.6 L411.3,460.0 L392.8,460.0 L396.8,453.5 L395.4,445.6Z" fill="#81bccc"/>
<path d="M396.8,424.5 L406.0,428.4 L407.3,432.4 L402.0,433.7Z" fill="#81bccc"/>
<path d="M350.6,404.7 L353.9,404.7 L353.9,408.6 L350.6,408.6Z" fill="#81bccc"/>
<path d="M363.8,402.5 L370.0,415.0 L366.3,427.5 L370.0,437.5 L385.0,440.0 L392.5,432.5 L390.0,420.0 L380.0,415.0 L372.5,405.0Z" fill="#81bccc"/>
<path d="M390.0,435.0 L410.0,437.5 L416.3,457.5 L417.5,472.5 L410.0,475.0 L405.0,482.5 L410.0,490.0 L402.5,492.5 L392.5,487.5 L390.0,475.0 L395.0,465.0 L390.0,455.0 L392.5,445.0Z" fill="#81bccc"/>
<path d="M415.0,497.5 L417.5,480.0 L425.0,462.5 L430.0,442.5 L422.5,420.0 L427.5,417.5 L437.5,430.0 L443.8,437.5 L440.0,450.0 L437.5,462.5 L432.5,475.0 L427.5,485.0 L425.0,497.5Z" fill="#81bccc"/>
<path d="M320.0,525.0 L324.0,521.0 L330.0,525.0 L332.5,532.0 L329.0,537.0 L322.5,534.0Z" fill="#81bccc"/>
<path d="M337.5,475.0 L341.0,474.0 L342.5,487.5 L338.0,488.0Z" fill="#81bccc"/>
<path d="M344.0,460.0 L346.0,459.0 L350.0,474.0 L348.0,475.0Z" fill="#81bccc"/>
<path d="M352.5,492.5 L356.0,492.0 L362.5,500.0 L360.0,503.0 L355.0,499.0Z" fill="#81bccc"/>
<path d="M374.0,499.0 L379.0,495.0 L381.0,497.0 L376.0,501.0Z" fill="#81bccc"/>
<path d="M400.0,500.0 L404.0,499.0 L410.0,518.0 L407.0,520.0Z" fill="#81bccc"/>
<path d="M834.0,190.0 L840.0,188.0 L841.0,192.0 L835.0,193.0Z" fill="#81bccc"/>
<path d="M1099.0,309.0 L1103.0,304.0 L1112.0,299.0 L1120.0,295.0 L1124.0,296.0 L1118.0,303.0 L1108.0,308.5 L1101.0,312.0Z" fill="#08606b"/>
<path d="M575.7,503.0 L580.0,493.0 L585.7,483.0 L593.0,478.0 L600.7,474.7 L606.5,470.0 L613.0,472.4 L620.5,470.7 L621.4,476.5 L618.0,483.0 L623.8,490.0 L624.7,512.8 L614.8,513.6 L606.5,512.8 L596.6,514.5 L590.0,512.8 L580.7,508.0Z" fill="#08606b"/>
<path d="M644.0,499.0 L650.0,496.5 L694.0,496.5 L692.0,501.0 L686.0,505.0 L679.0,508.0 L670.0,507.0 L661.0,507.5 L652.0,505.0 L646.0,502.0Z" fill="#08606b"/>
<path d="M803.2,448.8 L809.8,440.6 L816.4,432.3 L823.0,425.7 L829.6,419.1 L832.9,422.4 L836.2,429.0 L842.8,430.7 L847.8,427.4 L856.0,422.4 L862.6,419.1 L880.0,417.5 L895.6,419.1 L898.9,424.1 L895.6,429.0 L885.7,434.0 L872.5,435.6 L859.3,435.6 L849.4,437.3 L844.5,432.3 L839.5,438.9 L832.9,437.3 L828.0,432.3 L819.7,438.9 L813.1,445.5 L806.5,450.5Z" fill="#08606b"/>
<path d="M834.6,415.0 L838.0,413.5 L841.2,415.0 L839.0,417.5 L835.5,417.5Z" fill="#08606b"/>
<path d="M1032.9,243.8 L1039.0,233.8 L1049.0,240.0 L1054.0,247.5 L1064.0,237.5 L1074.0,240.0 L1084.0,237.5 L1091.5,245.0 L1096.5,250.0 L1096.5,240.0 L1106.5,240.0 L1114.0,235.0 L1126.5,232.5 L1134.0,227.5 L1142.8,226.3 L1141.5,235.0 L1134.0,240.0 L1121.5,242.5 L1104.0,247.5 L1099.0,250.0 L1104.0,260.0 L1104.0,267.5 L1109.0,275.0 L1116.5,277.5 L1131.5,273.8 L1131.5,280.0 L1121.5,287.5 L1109.0,295.0 L1101.5,302.5 L1100.0,307.5 L1099.0,317.5 L1094.0,330.0 L1084.0,337.5 L1074.0,342.5 L1069.0,347.5 L1064.0,342.5 L1059.2,334.1 L1049.0,345.0 L1039.0,352.5 L1029.0,360.0 L1021.5,365.0 L1014.0,362.5 L1009.0,370.0 L1001.5,365.0 L996.5,375.0 L991.5,367.5 L984.0,362.5 L974.8,364.7 L964.9,363.0 L960.0,369.6 L951.7,372.9 L941.8,374.6 L933.6,376.2 L928.6,382.8 L922.0,387.8 L912.1,391.0 L902.2,392.7 L892.3,397.7 L889.0,396.0 L895.6,386.1 L905.5,379.5 L915.4,374.6 L927.0,368.0 L938.5,366.3 L943.5,359.7 L953.4,353.1 L960.0,348.2 L963.9,342.9 L971.4,340.4 L968.9,330.3 L973.9,325.3 L980.2,316.5 L986.5,309.0 L992.7,302.7 L999.0,296.5 L992.7,291.4 L985.2,290.2 L980.2,291.4 L980.2,286.4 L985.2,281.4 L990.2,275.0 L986.5,271.4 L984.0,265.0 L986.5,260.0 L997.8,257.0 L1011.6,256.3 L1024.1,252.5Z" fill="#08606b"/>
<path d="M1092.8,218.8 L1099.0,217.5 L1101.5,225.0 L1106.5,230.0 L1104.0,235.0 L1095.3,233.8 L1096.5,226.3Z" fill="#08606b"/>
<path d="M979.0,406.0 L986.0,399.0 L989.0,400.0 L982.0,407.5Z" fill="#08606b"/>
<path d="M989.0,416.0 L998.0,402.0 L1001.0,403.0 L992.0,417.0Z" fill="#08606b"/>
<path d="M999.0,421.0 L1008.0,407.0 L1011.0,408.0 L1002.0,422.0Z" fill="#08606b"/>
<path d="M396.8,392.8 L402.0,392.1 L406.0,398.1 L404.7,402.0 L399.4,403.4 L396.8,407.3 L391.5,408.6 L390.2,403.4 L395.4,400.7Z" fill="#08606b"/>
<path d="M411.3,385.5 L414.6,385.5 L415.2,392.8 L411.9,394.1Z" fill="#08606b"/>
<path d="M416.6,378.3 L419.2,377.6 L421.8,383.6 L419.9,384.9Z" fill="#08606b"/>
<path d="M432.4,368.4 L435.0,368.4 L435.0,374.3 L432.4,379.6 L429.8,378.9 L431.7,373.7Z" fill="#08606b"/>
<path d="M413.3,410.6 L416.6,411.3 L417.9,416.6 L414.6,417.2Z" fill="#08606b"/>
<path d="M369.7,410.0 L372.3,410.0 L375.6,413.9 L373.7,415.2Z" fill="#08606b"/>
<path d="M380.3,423.8 L382.9,423.8 L382.9,427.8 L380.3,427.8Z" fill="#08606b"/>
<path d="M424.5,422.5 L427.1,421.8 L432.4,432.4 L431.1,435.0 L427.1,429.8Z" fill="#08606b"/>
<path d="M429.8,441.0 L433.7,441.0 L433.7,443.6 L429.8,443.6Z" fill="#08606b"/>
<path d="M434.4,448.3 L437.7,448.9 L437.0,456.2 L433.7,456.8Z" fill="#08606b"/>
<path d="M394.8,438.3 L402.0,439.0 L407.3,444.3 L410.0,453.5 L411.3,460.0 L402.0,460.0 L399.4,449.6 L395.4,444.3Z" fill="#08606b"/>
<path d="M393.8,437.5 L405.0,440.0 L410.0,457.5 L412.5,470.0 L407.5,472.5 L402.5,460.0 L396.3,447.5Z" fill="#08606b"/>
<path d="M416.3,495.0 L420.0,482.5 L427.5,475.0 L430.0,467.5 L427.5,462.5 L423.8,472.5 L420.0,480.0 L416.3,487.5Z" fill="#08606b"/>
<path d="M433.8,447.5 L436.5,447.0 L437.5,457.5 L434.5,457.0Z" fill="#08606b"/>
<path d="M393.8,477.5 L402.5,480.0 L405.0,487.5 L397.5,490.0 L393.8,485.0Z" fill="#08606b"/>
<path d="M322.0,527.5 L325.0,526.5 L327.5,529.0 L326.5,532.5 L323.0,532.0Z" fill="#08606b"/>
<path d="M1000.3,282.7 L1004.0,266.3 L1007.8,266.3 L1005.3,277.6 L1006.5,290.2 L1002.8,287.7Z" fill="#81bccc"/>
<path d="M1007.8,277.6 L1010.3,268.9 L1012.8,276.4 L1017.8,285.2 L1016.6,288.9 L1011.6,285.2Z" fill="#81bccc"/>
<path d="M1050.5,240.0 L1063.0,240.0 L1061.7,246.3 L1055.5,247.5Z" fill="#81bccc"/>
</g>
<path d="M1061.0,351.0 L1063.0,353.0 L1058.5,361.0 L1058.5,369.0 L1061.5,377.0 L1067.0,388.0 L1072.0,400.0 L1077.0,412.0 L1079.5,421.0 L1075.0,420.0 L1070.0,410.0 L1065.0,398.0 L1060.0,388.0 L1055.5,377.0 L1053.5,368.0 L1054.0,360.0 L1058.0,353.0Z" fill="#fff"/>
<path d="M1048.0,381.0 L1053.0,384.0 L1060.0,392.0 L1058.5,393.5 L1052.0,386.5 L1047.0,383.0Z" fill="#fff"/>
<ellipse cx="780.5" cy="653.5" rx="5.2" ry="3.4" fill="#fff"/>
<g clip-path="url(#landclip)" style="mix-blend-mode:multiply">
<path d="M151.6,104.1 L150.6,108.0 L149.0,109.1 L148.2,107.1 L146.5,110.5 L145.5,109.5 L145.4,106.4 L146.2,102.7 L147.7,100.1 L148.8,97.8 L150.5,94.5 L150.8,97.9 L151.5,98.8 L152.9,99.9Z" fill="#b0b7d0" opacity="0.95"/>
<circle cx="153.9" cy="98.2" r="0.8" fill="#b0b7d0" opacity="0.5"/>
<circle cx="152.0" cy="102.0" r="1.2" fill="#b0b7d0" opacity="0.5"/>
<circle cx="148.0" cy="113.7" r="0.6" fill="#b0b7d0" opacity="0.5"/>
<circle cx="146.7" cy="121.0" r="0.6" fill="#b0b7d0" opacity="0.5"/>
<circle cx="144.1" cy="95.2" r="0.8" fill="#b0b7d0" opacity="0.5"/>
<path d="M145.4,111.8 L145.5,113.0 L144.3,113.3 L143.7,114.1 L142.8,114.7 L141.7,114.3 L140.8,113.3 L141.2,111.8 L141.8,111.0 L142.1,110.0 L142.8,109.1 L143.9,108.7 L145.1,109.1 L145.3,110.7Z" fill="#b0b7d0" opacity="0.95"/>
<circle cx="141.9" cy="118.5" r="0.6" fill="#b0b7d0" opacity="0.5"/>
<circle cx="138.9" cy="114.8" r="0.6" fill="#b0b7d0" opacity="0.5"/>
<circle cx="140.7" cy="112.0" r="1.0" fill="#b0b7d0" opacity="0.5"/>
<circle cx="143.7" cy="106.5" r="1.2" fill="#b0b7d0" opacity="0.5"/>
<path d="M130.6,155.1 L129.9,156.9 L129.4,159.2 L127.1,159.3 L125.2,158.8 L123.2,158.7 L122.4,156.9 L119.8,155.1 L121.3,152.8 L123.7,152.1 L125.2,151.1 L126.9,151.4 L129.0,151.4 L131.5,152.5Z" fill="#b0b7d0" opacity="0.95"/>
<circle cx="134.1" cy="156.2" r="0.6" fill="#b0b7d0" opacity="0.5"/>
<circle cx="130.1" cy="158.7" r="1.1" fill="#b0b7d0" opacity="0.5"/>
<circle cx="130.7" cy="159.9" r="0.8" fill="#b0b7d0" opacity="0.5"/>
<circle cx="129.9" cy="151.1" r="0.9" fill="#b0b7d0" opacity="0.5"/>
<circle cx="115.7" cy="151.8" r="1.2" fill="#b0b7d0" opacity="0.5"/>
<circle cx="130.6" cy="149.9" r="0.8" fill="#b0b7d0" opacity="0.5"/>
<circle cx="119.2" cy="163.6" r="1.3" fill="#b0b7d0" opacity="0.5"/>
<circle cx="129.7" cy="160.1" r="0.7" fill="#b0b7d0" opacity="0.5"/>
<circle cx="127.0" cy="163.3" r="1.0" fill="#b0b7d0" opacity="0.5"/>
<path d="M241.2,124.7 L240.8,125.6 L240.2,126.4 L238.9,126.1 L238.2,125.9 L236.9,126.3 L236.0,125.7 L236.3,124.7 L236.1,123.8 L237.2,123.4 L238.0,122.9 L239.1,122.7 L239.6,123.6 L240.6,123.9Z" fill="#b0b7d0" opacity="0.95"/>
<circle cx="242.2" cy="126.9" r="0.5" fill="#b0b7d0" opacity="0.5"/>
<circle cx="241.4" cy="125.7" r="0.6" fill="#b0b7d0" opacity="0.5"/>
<circle cx="237.1" cy="126.5" r="0.5" fill="#b0b7d0" opacity="0.5"/>
<circle cx="240.1" cy="126.5" r="0.8" fill="#b0b7d0" opacity="0.5"/>
<path d="M236.0,239.9 L236.5,241.0 L235.6,241.8 L233.8,240.9 L232.9,240.2 L231.5,239.9 L230.7,239.1 L230.2,238.1 L231.0,237.5 L232.5,237.6 L233.5,237.2 L234.8,237.8 L235.4,238.6 L236.6,239.3Z" fill="#b0b7d0" opacity="0.95"/>
<circle cx="235.6" cy="240.9" r="1.3" fill="#b0b7d0" opacity="0.5"/>
<circle cx="229.6" cy="238.8" r="0.9" fill="#b0b7d0" opacity="0.5"/>
<circle cx="239.6" cy="239.8" r="1.3" fill="#b0b7d0" opacity="0.5"/>
<circle cx="238.1" cy="236.3" r="0.7" fill="#b0b7d0" opacity="0.5"/>
<circle cx="230.9" cy="241.0" r="1.1" fill="#b0b7d0" opacity="0.5"/>
<circle cx="226.7" cy="238.4" r="0.8" fill="#b0b7d0" opacity="0.5"/>
<path d="M108.0,191.5 L108.0,192.5 L107.1,193.1 L106.3,193.2 L105.6,192.7 L105.1,192.6 L104.0,192.4 L103.8,191.5 L104.5,190.8 L104.9,190.2 L105.6,190.2 L106.3,189.9 L107.3,189.7 L107.4,190.8Z" fill="#b0b7d0" opacity="0.95"/>
<circle cx="110.2" cy="189.7" r="1.3" fill="#b0b7d0" opacity="0.5"/>
<circle cx="104.2" cy="193.4" r="0.7" fill="#b0b7d0" opacity="0.5"/>
<circle cx="106.7" cy="193.9" r="1.0" fill="#b0b7d0" opacity="0.5"/>
<path d="M115.6,168.3 L115.8,169.1 L115.5,170.1 L114.6,170.4 L113.8,170.0 L113.2,169.7 L112.9,169.0 L112.6,168.3 L112.7,167.5 L113.2,166.9 L113.8,166.3 L114.7,166.0 L115.2,166.9 L115.3,167.7Z" fill="#b0b7d0" opacity="0.95"/>
<circle cx="110.9" cy="170.9" r="1.1" fill="#b0b7d0" opacity="0.5"/>
<circle cx="115.2" cy="170.3" r="0.6" fill="#b0b7d0" opacity="0.5"/>
<circle cx="117.3" cy="166.0" r="0.6" fill="#b0b7d0" opacity="0.5"/>
<path d="M307.9,336.0 L308.2,339.5 L307.3,342.4 L306.1,341.8 L304.9,344.0 L304.2,341.7 L304.3,338.3 L303.9,335.6 L304.9,333.1 L305.4,329.6 L306.6,325.6 L307.6,328.3 L307.9,331.4 L308.1,333.6Z" fill="#b0b7d0" opacity="0.95"/>
<circle cx="306.6" cy="350.0" r="0.7" fill="#b0b7d0" opacity="0.5"/>
<circle cx="303.8" cy="340.4" r="1.2" fill="#b0b7d0" opacity="0.5"/>
<circle cx="303.9" cy="346.0" r="1.0" fill="#b0b7d0" opacity="0.5"/>
<circle cx="309.5" cy="328.7" r="1.2" fill="#b0b7d0" opacity="0.5"/>
<path d="M308.8,321.9 L308.4,322.7 L308.2,323.6 L307.6,324.1 L306.8,325.1 L306.1,324.2 L305.8,323.0 L305.3,321.9 L305.6,320.6 L306.5,320.4 L306.9,319.6 L307.7,319.1 L308.7,319.3 L309.3,320.5Z" fill="#b0b7d0" opacity="0.95"/>
<circle cx="304.8" cy="320.4" r="0.7" fill="#b0b7d0" opacity="0.5"/>
<circle cx="307.8" cy="316.9" r="0.9" fill="#b0b7d0" opacity="0.5"/>
<circle cx="307.6" cy="315.2" r="0.9" fill="#b0b7d0" opacity="0.5"/>
<path d="M310.4,349.6 L309.7,350.3 L309.8,351.6 L309.1,352.5 L308.2,353.1 L307.3,352.2 L307.2,350.7 L306.9,349.6 L307.2,348.5 L307.7,347.8 L308.3,346.6 L309.2,346.4 L309.8,347.5 L310.5,348.3Z" fill="#b0b7d0" opacity="0.95"/>
<circle cx="306.7" cy="350.8" r="0.7" fill="#b0b7d0" opacity="0.5"/>
<circle cx="312.1" cy="352.1" r="1.1" fill="#b0b7d0" opacity="0.5"/>
<circle cx="310.6" cy="347.4" r="1.1" fill="#b0b7d0" opacity="0.5"/>
<path d="M454.1,383.1 L453.1,386.1 L451.5,388.5 L449.0,389.5 L445.9,392.0 L442.6,390.4 L441.2,386.7 L443.1,383.1 L444.2,381.2 L443.5,377.1 L446.0,374.7 L449.1,376.1 L451.8,377.2 L453.2,380.1Z" fill="#b0b7d0" opacity="0.95"/>
<path d="M450.5,383.1 L450.2,384.5 L450.2,386.7 L448.5,387.2 L447.2,385.8 L445.8,385.9 L445.4,384.4 L444.1,383.1 L444.1,381.1 L445.7,380.2 L447.1,380.2 L448.4,379.6 L449.2,381.0 L450.3,381.6Z" fill="#b0b7d0" opacity="0.8"/>
<circle cx="434.0" cy="391.5" r="1.2" fill="#b0b7d0" opacity="0.5"/>
<circle cx="447.3" cy="392.6" r="1.2" fill="#b0b7d0" opacity="0.5"/>
<circle cx="435.5" cy="376.5" r="0.6" fill="#b0b7d0" opacity="0.5"/>
<circle cx="460.3" cy="388.5" r="0.8" fill="#b0b7d0" opacity="0.5"/>
<circle cx="461.9" cy="391.0" r="1.0" fill="#b0b7d0" opacity="0.5"/>
<circle cx="450.1" cy="374.7" r="1.2" fill="#b0b7d0" opacity="0.5"/>
<circle cx="461.5" cy="390.1" r="0.9" fill="#b0b7d0" opacity="0.5"/>
<circle cx="441.3" cy="394.9" r="1.2" fill="#b0b7d0" opacity="0.5"/>
<circle cx="446.8" cy="392.4" r="0.9" fill="#b0b7d0" opacity="0.5"/>
<circle cx="448.3" cy="392.2" r="0.6" fill="#b0b7d0" opacity="0.5"/>
<circle cx="456.1" cy="386.2" r="0.7" fill="#b0b7d0" opacity="0.5"/>
<circle cx="442.9" cy="398.3" r="0.7" fill="#b0b7d0" opacity="0.5"/>
<circle cx="439.1" cy="383.1" r="0.8" fill="#b0b7d0" opacity="0.5"/>
<path d="M451.6,408.1 L451.5,410.1 L450.1,410.5 L449.4,411.7 L448.3,412.1 L447.9,410.1 L446.8,409.7 L446.9,408.1 L446.8,406.5 L446.8,404.0 L448.4,404.4 L449.3,405.3 L450.1,405.7 L450.8,406.6Z" fill="#b0b7d0" opacity="0.95"/>
<circle cx="446.0" cy="415.2" r="1.1" fill="#b0b7d0" opacity="0.5"/>
<circle cx="446.4" cy="403.5" r="0.8" fill="#b0b7d0" opacity="0.5"/>
<circle cx="451.6" cy="409.7" r="0.6" fill="#b0b7d0" opacity="0.5"/>
<circle cx="448.7" cy="402.8" r="0.6" fill="#b0b7d0" opacity="0.5"/>
<path d="M449.6,360.5 L449.9,362.0 L449.2,362.9 L448.3,362.9 L447.6,362.7 L447.2,361.7 L446.2,361.7 L445.7,360.5 L446.0,359.1 L446.6,358.0 L447.5,357.8 L448.2,358.4 L449.2,358.1 L449.2,359.6Z" fill="#b0b7d0" opacity="0.95"/>
<circle cx="446.7" cy="362.8" r="0.8" fill="#b0b7d0" opacity="0.5"/>
<circle cx="444.6" cy="361.3" r="0.7" fill="#b0b7d0" opacity="0.5"/>
<circle cx="445.9" cy="360.4" r="0.7" fill="#b0b7d0" opacity="0.5"/>
<path d="M452.7,424.6 L452.6,425.3 L452.0,425.5 L451.6,426.2 L450.9,426.0 L450.5,425.5 L449.9,425.2 L449.7,424.6 L449.5,423.8 L450.0,423.1 L450.9,423.4 L451.5,423.4 L451.9,423.7 L452.5,424.0Z" fill="#b0b7d0" opacity="0.95"/>
<circle cx="450.2" cy="423.3" r="1.2" fill="#b0b7d0" opacity="0.5"/>
<circle cx="453.5" cy="422.7" r="1.1" fill="#b0b7d0" opacity="0.5"/>
<circle cx="451.9" cy="422.9" r="0.9" fill="#b0b7d0" opacity="0.5"/>
<path d="M399.9,507.4 L400.0,509.2 L399.3,510.7 L398.1,511.0 L396.8,511.8 L395.9,510.5 L394.9,509.2 L394.5,507.4 L395.8,506.2 L396.5,505.5 L396.9,503.1 L398.2,503.0 L399.7,503.2 L400.2,505.4Z" fill="#b0b7d0" opacity="0.95"/>
<circle cx="395.4" cy="500.7" r="0.5" fill="#b0b7d0" opacity="0.5"/>
<circle cx="399.3" cy="498.8" r="0.9" fill="#b0b7d0" opacity="0.5"/>
<circle cx="392.0" cy="505.6" r="0.6" fill="#b0b7d0" opacity="0.5"/>
<circle cx="397.2" cy="501.4" r="0.6" fill="#b0b7d0" opacity="0.5"/>
<circle cx="396.9" cy="516.2" r="0.7" fill="#b0b7d0" opacity="0.5"/>
<path d="M415.5,493.2 L415.6,493.7 L415.6,494.5 L414.8,494.7 L414.2,494.6 L413.5,494.5 L413.5,493.7 L413.5,493.2 L413.5,492.7 L413.7,492.2 L414.1,491.6 L414.9,491.4 L415.2,492.4 L415.4,492.8Z" fill="#b0b7d0" opacity="0.95"/>
<circle cx="414.2" cy="496.0" r="1.1" fill="#b0b7d0" opacity="0.5"/>
<circle cx="413.6" cy="491.3" r="0.9" fill="#b0b7d0" opacity="0.5"/>
<path d="M278.5,533.3 L273.1,535.2 L271.7,537.2 L269.7,540.6 L265.3,539.3 L261.4,538.5 L257.3,536.7 L257.6,533.3 L259.4,530.6 L262.1,528.7 L266.0,529.4 L269.5,526.6 L273.8,527.6 L277.0,530.0Z" fill="#b0b7d0" opacity="0.95"/>
<path d="M271.7,533.3 L272.3,535.0 L270.0,535.6 L268.5,536.8 L266.3,536.5 L265.6,534.8 L263.0,534.7 L262.0,533.3 L263.0,531.8 L264.3,530.7 L266.5,530.8 L268.0,531.3 L270.1,530.9 L271.2,532.0Z" fill="#b0b7d0" opacity="0.8"/>
<circle cx="259.4" cy="541.5" r="1.2" fill="#b0b7d0" opacity="0.5"/>
<circle cx="287.3" cy="533.5" r="1.2" fill="#b0b7d0" opacity="0.5"/>
<circle cx="283.6" cy="544.0" r="1.1" fill="#b0b7d0" opacity="0.5"/>
<circle cx="278.5" cy="527.7" r="0.8" fill="#b0b7d0" opacity="0.5"/>
<circle cx="249.0" cy="543.5" r="1.0" fill="#b0b7d0" opacity="0.5"/>
<circle cx="257.3" cy="541.7" r="0.7" fill="#b0b7d0" opacity="0.5"/>
<circle cx="278.1" cy="535.7" r="1.2" fill="#b0b7d0" opacity="0.5"/>
<circle cx="262.3" cy="548.7" r="0.7" fill="#b0b7d0" opacity="0.5"/>
<circle cx="265.7" cy="545.0" r="0.7" fill="#b0b7d0" opacity="0.5"/>
<circle cx="251.4" cy="544.7" r="1.2" fill="#b0b7d0" opacity="0.5"/>
<circle cx="274.2" cy="521.4" r="1.2" fill="#b0b7d0" opacity="0.5"/>
<circle cx="283.4" cy="528.9" r="1.1" fill="#b0b7d0" opacity="0.5"/>
<circle cx="286.1" cy="537.5" r="0.9" fill="#b0b7d0" opacity="0.5"/>
<circle cx="267.6" cy="520.3" r="0.7" fill="#b0b7d0" opacity="0.5"/>
<circle cx="288.7" cy="538.0" r="0.6" fill="#b0b7d0" opacity="0.5"/>
<circle cx="253.0" cy="535.1" r="0.7" fill="#b0b7d0" opacity="0.5"/>
<circle cx="265.7" cy="517.2" r="0.7" fill="#b0b7d0" opacity="0.5"/>
<circle cx="259.5" cy="525.2" r="0.9" fill="#b0b7d0" opacity="0.5"/>
<circle cx="257.7" cy="538.6" r="0.6" fill="#b0b7d0" opacity="0.5"/>
<path d="M290.4,572.0 L290.8,574.0 L289.7,575.8 L287.3,574.7 L286.3,574.0 L284.6,574.6 L283.5,573.5 L282.4,572.0 L283.4,570.4 L285.1,570.0 L286.0,568.9 L287.5,568.4 L288.8,569.4 L290.3,570.3Z" fill="#b0b7d0" opacity="0.95"/>
<circle cx="281.4" cy="575.2" r="0.9" fill="#b0b7d0" opacity="0.5"/>
<circle cx="282.6" cy="576.0" r="0.5" fill="#b0b7d0" opacity="0.5"/>
<circle cx="285.1" cy="581.0" r="0.6" fill="#b0b7d0" opacity="0.5"/>
<circle cx="279.3" cy="571.9" r="1.2" fill="#b0b7d0" opacity="0.5"/>
<circle cx="287.9" cy="577.3" r="0.7" fill="#b0b7d0" opacity="0.5"/>
<circle cx="281.6" cy="575.8" r="1.3" fill="#b0b7d0" opacity="0.5"/>
<circle cx="291.7" cy="564.9" r="0.5" fill="#b0b7d0" opacity="0.5"/>
<path d="M216.1,446.8 L217.3,449.2 L215.2,450.5 L213.4,451.6 L211.2,451.4 L210.3,449.3 L208.2,448.8 L206.2,446.8 L208.1,444.8 L209.4,443.2 L211.4,443.0 L213.2,443.0 L215.4,443.0 L216.3,444.9Z" fill="#b0b7d0" opacity="0.95"/>
<circle cx="210.6" cy="437.6" r="1.1" fill="#b0b7d0" opacity="0.5"/>
<circle cx="203.9" cy="449.1" r="0.5" fill="#b0b7d0" opacity="0.5"/>
<circle cx="213.6" cy="440.4" r="1.2" fill="#b0b7d0" opacity="0.5"/>
<circle cx="208.0" cy="441.3" r="0.6" fill="#b0b7d0" opacity="0.5"/>
<circle cx="212.2" cy="456.0" r="1.1" fill="#b0b7d0" opacity="0.5"/>
<circle cx="216.4" cy="450.3" r="0.9" fill="#b0b7d0" opacity="0.5"/>
<circle cx="205.7" cy="443.0" r="0.7" fill="#b0b7d0" opacity="0.5"/>
<circle cx="208.3" cy="443.8" r="0.7" fill="#b0b7d0" opacity="0.5"/>
<circle cx="201.2" cy="449.6" r="1.0" fill="#b0b7d0" opacity="0.5"/>
<path d="M145.2,491.4 L144.3,493.8 L141.6,496.0 L136.6,497.6 L131.2,494.7 L127.5,492.8 L125.5,490.6 L125.9,488.5 L123.0,485.2 L125.9,482.5 L132.5,483.2 L137.7,484.8 L140.6,487.1 L143.4,489.0Z" fill="#b0b7d0" opacity="0.95"/>
<path d="M141.1,490.8 L138.9,491.6 L137.2,492.2 L135.3,492.8 L132.7,492.5 L130.7,491.4 L127.2,490.4 L128.5,488.9 L129.6,487.8 L131.5,487.3 L133.9,488.0 L136.5,486.6 L139.4,487.6 L139.9,489.3Z" fill="#b0b7d0" opacity="0.8"/>
<circle cx="137.8" cy="499.8" r="1.0" fill="#b0b7d0" opacity="0.5"/>
<circle cx="149.0" cy="487.3" r="0.8" fill="#b0b7d0" opacity="0.5"/>
<circle cx="141.3" cy="504.4" r="0.6" fill="#b0b7d0" opacity="0.5"/>
<circle cx="147.6" cy="492.0" r="0.8" fill="#b0b7d0" opacity="0.5"/>
<circle cx="157.1" cy="481.3" r="1.1" fill="#b0b7d0" opacity="0.5"/>
<circle cx="163.6" cy="489.5" r="0.8" fill="#b0b7d0" opacity="0.5"/>
<circle cx="146.0" cy="503.3" r="1.1" fill="#b0b7d0" opacity="0.5"/>
<circle cx="158.4" cy="492.2" r="0.8" fill="#b0b7d0" opacity="0.5"/>
<circle cx="121.3" cy="496.5" r="0.6" fill="#b0b7d0" opacity="0.5"/>
<circle cx="152.2" cy="490.0" r="0.8" fill="#b0b7d0" opacity="0.5"/>
<circle cx="148.8" cy="487.7" r="1.3" fill="#b0b7d0" opacity="0.5"/>
<circle cx="139.5" cy="499.0" r="1.2" fill="#b0b7d0" opacity="0.5"/>
<circle cx="143.3" cy="480.6" r="0.5" fill="#b0b7d0" opacity="0.5"/>
<circle cx="115.3" cy="491.4" r="1.2" fill="#b0b7d0" opacity="0.5"/>
<circle cx="141.2" cy="498.8" r="1.2" fill="#b0b7d0" opacity="0.5"/>
<circle cx="154.1" cy="491.7" r="1.1" fill="#b0b7d0" opacity="0.5"/>
<circle cx="135.8" cy="483.0" r="0.5" fill="#b0b7d0" opacity="0.5"/>
<circle cx="161.2" cy="495.4" r="0.7" fill="#b0b7d0" opacity="0.5"/>
<circle cx="133.8" cy="475.5" r="0.8" fill="#b0b7d0" opacity="0.5"/>
<circle cx="130.3" cy="504.5" r="1.0" fill="#b0b7d0" opacity="0.5"/>
<circle cx="132.5" cy="502.5" r="0.8" fill="#b0b7d0" opacity="0.5"/>
<circle cx="132.3" cy="496.2" r="1.1" fill="#b0b7d0" opacity="0.5"/>
<circle cx="155.1" cy="483.8" r="1.3" fill="#b0b7d0" opacity="0.5"/>
<circle cx="151.2" cy="491.1" r="0.9" fill="#b0b7d0" opacity="0.5"/>
<circle cx="162.9" cy="485.8" r="0.8" fill="#b0b7d0" opacity="0.5"/>
<path d="M145.0,500.9 L140.9,501.0 L139.6,502.6 L136.8,501.8 L134.2,501.1 L131.5,499.6 L131.6,497.2 L131.0,495.0 L131.7,492.6 L135.1,493.2 L137.6,493.4 L139.2,495.3 L141.1,496.3 L145.5,498.2Z" fill="#b0b7d0" opacity="0.95"/>
<path d="M140.9,499.1 L140.0,500.1 L138.3,500.0 L137.0,499.7 L135.8,499.3 L135.0,498.4 L133.7,497.4 L134.3,496.4 L135.1,495.7 L135.9,494.9 L137.4,495.6 L138.4,496.2 L139.5,496.8 L140.0,497.8Z" fill="#b0b7d0" opacity="0.8"/>
<circle cx="130.7" cy="488.7" r="1.2" fill="#b0b7d0" opacity="0.5"/>
<circle cx="133.0" cy="492.7" r="1.2" fill="#b0b7d0" opacity="0.5"/>
<circle cx="133.9" cy="506.0" r="0.8" fill="#b0b7d0" opacity="0.5"/>
<circle cx="136.5" cy="491.3" r="0.7" fill="#b0b7d0" opacity="0.5"/>
<circle cx="137.5" cy="503.6" r="1.2" fill="#b0b7d0" opacity="0.5"/>
<circle cx="128.4" cy="494.2" r="0.8" fill="#b0b7d0" opacity="0.5"/>
<circle cx="148.9" cy="497.2" r="0.7" fill="#b0b7d0" opacity="0.5"/>
<circle cx="141.9" cy="488.9" r="1.3" fill="#b0b7d0" opacity="0.5"/>
<circle cx="146.3" cy="502.5" r="1.2" fill="#b0b7d0" opacity="0.5"/>
<circle cx="145.6" cy="488.2" r="0.5" fill="#b0b7d0" opacity="0.5"/>
<circle cx="135.0" cy="503.1" r="0.7" fill="#b0b7d0" opacity="0.5"/>
<circle cx="149.5" cy="496.1" r="1.2" fill="#b0b7d0" opacity="0.5"/>
<circle cx="126.7" cy="505.4" r="0.9" fill="#b0b7d0" opacity="0.5"/>
<path d="M155.8,493.7 L157.0,495.1 L154.1,495.8 L151.3,495.9 L149.0,495.8 L147.5,495.1 L143.6,495.0 L142.1,493.7 L144.2,492.5 L146.3,491.7 L149.1,491.9 L151.1,491.8 L154.5,491.3 L156.1,492.5Z" fill="#b0b7d0" opacity="0.95"/>
<path d="M154.7,493.7 L153.2,494.3 L151.5,494.5 L150.7,494.8 L149.5,494.8 L148.2,494.7 L147.0,494.3 L147.5,493.7 L146.9,493.0 L147.6,492.4 L149.5,492.7 L150.6,492.7 L151.6,492.9 L153.4,493.0Z" fill="#b0b7d0" opacity="0.8"/>
<circle cx="145.4" cy="498.6" r="0.8" fill="#b0b7d0" opacity="0.5"/>
<circle cx="137.0" cy="497.0" r="1.3" fill="#b0b7d0" opacity="0.5"/>
<circle cx="144.3" cy="496.5" r="1.1" fill="#b0b7d0" opacity="0.5"/>
<circle cx="152.1" cy="496.6" r="1.2" fill="#b0b7d0" opacity="0.5"/>
<circle cx="137.1" cy="496.6" r="0.8" fill="#b0b7d0" opacity="0.5"/>
<circle cx="158.4" cy="490.4" r="0.6" fill="#b0b7d0" opacity="0.5"/>
<circle cx="162.2" cy="494.2" r="1.0" fill="#b0b7d0" opacity="0.5"/>
<circle cx="156.6" cy="491.9" r="1.0" fill="#b0b7d0" opacity="0.5"/>
<circle cx="142.1" cy="497.3" r="0.6" fill="#b0b7d0" opacity="0.5"/>
<circle cx="147.6" cy="498.7" r="1.2" fill="#b0b7d0" opacity="0.5"/>
<circle cx="159.1" cy="496.8" r="1.1" fill="#b0b7d0" opacity="0.5"/>
<circle cx="158.7" cy="492.9" r="0.6" fill="#b0b7d0" opacity="0.5"/>
<circle cx="165.2" cy="491.3" r="0.9" fill="#b0b7d0" opacity="0.5"/>
<path d="M150.6,527.8 L149.8,530.5 L148.6,533.5 L147.1,532.0 L146.3,530.9 L145.4,530.4 L144.7,529.0 L144.5,526.6 L145.1,523.7 L146.8,523.2 L147.9,522.1 L149.2,521.8 L149.3,524.4 L149.7,525.8Z" fill="#b0b7d0" opacity="0.95"/>
<circle cx="150.3" cy="532.7" r="1.1" fill="#b0b7d0" opacity="0.5"/>
<circle cx="150.0" cy="523.4" r="0.9" fill="#b0b7d0" opacity="0.5"/>
<circle cx="147.6" cy="521.0" r="1.2" fill="#b0b7d0" opacity="0.5"/>
<circle cx="151.5" cy="534.5" r="0.9" fill="#b0b7d0" opacity="0.5"/>
<circle cx="144.6" cy="521.2" r="0.8" fill="#b0b7d0" opacity="0.5"/>
<path d="M111.6,477.8 L111.2,478.2 L110.8,478.6 L110.4,479.1 L109.5,479.5 L108.7,479.0 L108.5,478.3 L108.2,477.8 L108.5,477.3 L109.1,477.0 L109.6,476.4 L110.3,476.7 L111.2,476.7 L112.0,477.1Z" fill="#b0b7d0" opacity="0.95"/>
<circle cx="112.7" cy="479.1" r="0.9" fill="#b0b7d0" opacity="0.5"/>
<circle cx="113.6" cy="478.5" r="0.6" fill="#b0b7d0" opacity="0.5"/>
<circle cx="109.6" cy="474.8" r="0.9" fill="#b0b7d0" opacity="0.5"/>
<path d="M102.8,468.9 L101.9,469.2 L101.9,469.8 L101.0,470.0 L100.1,469.7 L99.4,469.6 L99.4,469.2 L98.5,468.9 L98.2,468.4 L99.1,468.0 L100.1,468.0 L100.8,468.2 L101.5,468.3 L102.4,468.4Z" fill="#b0b7d0" opacity="0.95"/>
<circle cx="103.2" cy="469.5" r="1.1" fill="#b0b7d0" opacity="0.5"/>
<circle cx="102.9" cy="470.7" r="0.7" fill="#b0b7d0" opacity="0.5"/>
<circle cx="101.4" cy="467.8" r="0.9" fill="#b0b7d0" opacity="0.5"/>
<path d="M74.1,364.4 L72.2,366.5 L70.6,367.7 L68.9,368.8 L68.4,367.3 L67.0,366.9 L68.2,364.1 L69.5,361.9 L70.6,359.4 L72.6,355.9 L73.9,357.0 L75.1,357.5 L74.3,360.2 L73.9,362.0Z" fill="#b0b7d0" opacity="0.95"/>
<circle cx="75.0" cy="354.2" r="1.0" fill="#b0b7d0" opacity="0.5"/>
<circle cx="73.9" cy="357.6" r="1.3" fill="#b0b7d0" opacity="0.5"/>
<circle cx="68.3" cy="355.2" r="1.1" fill="#b0b7d0" opacity="0.5"/>
<circle cx="70.8" cy="379.1" r="1.0" fill="#b0b7d0" opacity="0.5"/>
<circle cx="67.5" cy="373.8" r="0.9" fill="#b0b7d0" opacity="0.5"/>
<path d="M79.3,379.5 L77.8,380.7 L75.9,381.1 L73.8,381.2 L72.7,379.1 L71.9,377.8 L69.9,376.4 L70.3,374.6 L71.9,373.7 L73.7,373.4 L75.3,374.2 L76.9,374.8 L78.9,375.8 L79.1,377.6Z" fill="#b0b7d0" opacity="0.95"/>
<circle cx="79.1" cy="380.8" r="1.0" fill="#b0b7d0" opacity="0.5"/>
<circle cx="79.6" cy="377.6" r="0.8" fill="#b0b7d0" opacity="0.5"/>
<circle cx="80.5" cy="380.6" r="0.7" fill="#b0b7d0" opacity="0.5"/>
<circle cx="67.0" cy="373.4" r="0.7" fill="#b0b7d0" opacity="0.5"/>
<circle cx="68.9" cy="372.4" r="0.6" fill="#b0b7d0" opacity="0.5"/>
<circle cx="80.8" cy="374.9" r="0.6" fill="#b0b7d0" opacity="0.5"/>
<circle cx="82.3" cy="381.2" r="1.2" fill="#b0b7d0" opacity="0.5"/>
<circle cx="76.2" cy="371.0" r="0.7" fill="#b0b7d0" opacity="0.5"/>
<circle cx="84.0" cy="377.5" r="0.9" fill="#b0b7d0" opacity="0.5"/>
<path d="M80.0,360.2 L78.9,361.2 L78.4,362.2 L77.4,363.0 L76.4,362.1 L75.0,362.4 L74.3,361.4 L73.8,360.2 L74.2,358.9 L75.4,358.5 L76.5,358.7 L77.4,357.5 L78.8,357.6 L79.7,358.8Z" fill="#b0b7d0" opacity="0.95"/>
<circle cx="78.5" cy="365.4" r="0.9" fill="#b0b7d0" opacity="0.5"/>
<circle cx="72.8" cy="355.3" r="0.6" fill="#b0b7d0" opacity="0.5"/>
<circle cx="75.3" cy="364.1" r="0.5" fill="#b0b7d0" opacity="0.5"/>
<circle cx="81.5" cy="356.3" r="1.1" fill="#b0b7d0" opacity="0.5"/>
<circle cx="83.2" cy="360.5" r="1.1" fill="#b0b7d0" opacity="0.5"/>
<path d="M98.2,347.1 L96.9,348.4 L97.0,350.4 L95.1,350.7 L93.4,350.8 L90.9,351.4 L89.5,349.4 L88.8,347.1 L89.9,345.0 L92.7,345.1 L93.5,343.4 L95.5,342.0 L97.8,342.7 L99.2,344.8Z" fill="#b0b7d0" opacity="0.95"/>
<circle cx="93.4" cy="356.3" r="1.3" fill="#b0b7d0" opacity="0.5"/>
<circle cx="96.5" cy="357.8" r="0.5" fill="#b0b7d0" opacity="0.5"/>
<circle cx="93.9" cy="353.6" r="1.1" fill="#b0b7d0" opacity="0.5"/>
<circle cx="103.7" cy="343.7" r="0.8" fill="#b0b7d0" opacity="0.5"/>
<circle cx="99.5" cy="342.2" r="0.7" fill="#b0b7d0" opacity="0.5"/>
<circle cx="102.0" cy="342.0" r="1.1" fill="#b0b7d0" opacity="0.5"/>
<circle cx="88.4" cy="337.2" r="0.9" fill="#b0b7d0" opacity="0.5"/>
<circle cx="99.4" cy="338.9" r="1.2" fill="#b0b7d0" opacity="0.5"/>
<circle cx="85.2" cy="350.9" r="1.0" fill="#b0b7d0" opacity="0.5"/>
<path d="M95.0,364.8 L95.0,366.0 L93.6,366.2 L92.7,365.9 L92.1,366.7 L90.6,367.1 L90.5,365.8 L90.2,364.8 L90.7,363.9 L91.4,363.4 L92.0,362.4 L92.9,363.0 L93.8,363.2 L95.2,363.5Z" fill="#b0b7d0" opacity="0.95"/>
<circle cx="96.6" cy="366.6" r="0.8" fill="#b0b7d0" opacity="0.5"/>
<circle cx="94.6" cy="360.0" r="1.2" fill="#b0b7d0" opacity="0.5"/>
<circle cx="97.4" cy="367.0" r="1.2" fill="#b0b7d0" opacity="0.5"/>
<circle cx="95.2" cy="363.8" r="0.7" fill="#b0b7d0" opacity="0.5"/>
<path d="M98.6,374.7 L98.8,375.8 L97.8,376.4 L96.8,376.2 L96.2,376.1 L95.7,375.7 L94.9,375.4 L94.3,374.7 L95.1,374.0 L95.3,373.2 L96.1,372.8 L96.8,373.5 L97.4,373.6 L97.8,374.1Z" fill="#b0b7d0" opacity="0.95"/>
<circle cx="95.9" cy="371.8" r="0.8" fill="#b0b7d0" opacity="0.5"/>
<circle cx="99.8" cy="373.9" r="1.2" fill="#b0b7d0" opacity="0.5"/>
<circle cx="95.0" cy="373.3" r="0.8" fill="#b0b7d0" opacity="0.5"/>
<path d="M119.1,406.0 L118.0,407.1 L117.5,408.2 L116.5,409.3 L115.2,408.2 L113.3,409.0 L112.5,407.5 L112.7,406.0 L113.0,404.7 L114.2,404.2 L115.1,403.3 L116.4,402.7 L118.0,403.1 L118.9,404.5Z" fill="#b0b7d0" opacity="0.95"/>
<circle cx="116.9" cy="401.8" r="0.9" fill="#b0b7d0" opacity="0.5"/>
<circle cx="111.5" cy="412.1" r="0.7" fill="#b0b7d0" opacity="0.5"/>
<circle cx="120.2" cy="404.3" r="0.7" fill="#b0b7d0" opacity="0.5"/>
<circle cx="113.9" cy="400.5" r="0.6" fill="#b0b7d0" opacity="0.5"/>
<circle cx="113.2" cy="403.1" r="1.1" fill="#b0b7d0" opacity="0.5"/>
<circle cx="113.3" cy="399.2" r="1.0" fill="#b0b7d0" opacity="0.5"/>
<path d="M126.0,447.5 L124.0,448.2 L123.9,449.1 L122.8,449.1 L121.8,449.4 L120.4,449.5 L119.5,448.6 L119.6,447.5 L119.5,446.4 L120.6,445.7 L121.9,446.0 L122.8,445.6 L123.9,445.8 L125.7,446.2Z" fill="#b0b7d0" opacity="0.95"/>
<circle cx="122.4" cy="442.8" r="0.8" fill="#b0b7d0" opacity="0.5"/>
<circle cx="120.6" cy="450.2" r="1.2" fill="#b0b7d0" opacity="0.5"/>
<circle cx="119.2" cy="443.3" r="0.6" fill="#b0b7d0" opacity="0.5"/>
<circle cx="116.6" cy="449.4" r="1.0" fill="#b0b7d0" opacity="0.5"/>
<circle cx="125.7" cy="450.4" r="1.2" fill="#b0b7d0" opacity="0.5"/>
<path d="M125.0,420.1 L124.5,420.8 L123.7,420.9 L123.2,421.1 L122.8,421.0 L122.1,421.2 L121.6,420.8 L121.8,420.1 L121.7,419.5 L122.2,419.1 L122.7,418.8 L123.3,418.8 L123.6,419.4 L124.4,419.4Z" fill="#b0b7d0" opacity="0.95"/>
<circle cx="124.8" cy="421.4" r="1.3" fill="#b0b7d0" opacity="0.5"/>
<circle cx="123.8" cy="417.2" r="0.8" fill="#b0b7d0" opacity="0.5"/>
<path d="M137.6,331.3 L137.4,332.5 L136.6,333.1 L136.1,334.1 L135.3,333.6 L134.8,332.9 L133.9,332.6 L133.5,331.3 L133.7,329.9 L134.6,329.3 L135.4,329.5 L136.0,329.1 L137.0,328.9 L137.5,330.0Z" fill="#b0b7d0" opacity="0.95"/>
<circle cx="132.5" cy="333.6" r="1.1" fill="#b0b7d0" opacity="0.5"/>
<circle cx="133.4" cy="333.2" r="1.1" fill="#b0b7d0" opacity="0.5"/>
<circle cx="138.7" cy="327.1" r="1.1" fill="#b0b7d0" opacity="0.5"/>
<path d="M618.4,585.2 L619.5,587.2 L620.0,590.8 L614.6,590.8 L610.3,590.9 L607.3,589.1 L606.3,587.0 L602.7,585.2 L604.4,582.9 L607.2,581.2 L610.2,579.1 L614.7,579.4 L618.0,581.1 L620.7,582.8Z" fill="#b0b7d0" opacity="0.95"/>
<path d="M617.1,585.2 L617.1,586.5 L615.8,587.7 L613.6,588.0 L611.5,587.7 L609.6,587.4 L609.8,586.0 L608.1,585.2 L608.0,583.9 L609.2,582.7 L611.3,581.9 L613.4,582.7 L614.5,583.7 L616.4,584.1Z" fill="#b0b7d0" opacity="0.8"/>
<circle cx="594.0" cy="584.4" r="1.2" fill="#b0b7d0" opacity="0.5"/>
<circle cx="597.2" cy="584.0" r="1.3" fill="#b0b7d0" opacity="0.5"/>
<circle cx="617.3" cy="596.3" r="0.8" fill="#b0b7d0" opacity="0.5"/>
<circle cx="613.4" cy="578.3" r="1.3" fill="#b0b7d0" opacity="0.5"/>
<circle cx="605.9" cy="590.2" r="0.7" fill="#b0b7d0" opacity="0.5"/>
<circle cx="604.4" cy="588.8" r="0.8" fill="#b0b7d0" opacity="0.5"/>
<circle cx="595.5" cy="590.8" r="0.8" fill="#b0b7d0" opacity="0.5"/>
<circle cx="611.3" cy="592.9" r="1.1" fill="#b0b7d0" opacity="0.5"/>
<circle cx="628.3" cy="581.4" r="0.7" fill="#b0b7d0" opacity="0.5"/>
<circle cx="617.3" cy="576.6" r="0.7" fill="#b0b7d0" opacity="0.5"/>
<circle cx="626.5" cy="594.1" r="1.1" fill="#b0b7d0" opacity="0.5"/>
<circle cx="601.7" cy="577.9" r="0.9" fill="#b0b7d0" opacity="0.5"/>
<circle cx="616.0" cy="598.8" r="0.8" fill="#b0b7d0" opacity="0.5"/>
<circle cx="599.0" cy="575.6" r="1.2" fill="#b0b7d0" opacity="0.5"/>
<circle cx="598.9" cy="586.9" r="0.9" fill="#b0b7d0" opacity="0.5"/>
<circle cx="627.4" cy="594.2" r="0.8" fill="#b0b7d0" opacity="0.5"/>
<circle cx="620.5" cy="578.6" r="0.8" fill="#b0b7d0" opacity="0.5"/>
<circle cx="612.2" cy="594.6" r="0.6" fill="#b0b7d0" opacity="0.5"/>
<circle cx="632.1" cy="585.4" r="0.7" fill="#b0b7d0" opacity="0.5"/>
<path d="M662.0,668.5 L659.3,671.8 L656.6,674.1 L652.9,673.6 L649.8,675.6 L645.3,675.5 L645.4,671.1 L642.4,668.5 L641.9,664.3 L646.2,662.5 L650.1,662.8 L653.2,662.3 L655.6,664.0 L659.7,665.0Z" fill="#b0b7d0" opacity="0.95"/>
<path d="M654.9,668.5 L655.8,670.3 L654.7,672.0 L652.3,671.4 L650.8,671.8 L649.5,670.9 L648.7,669.7 L646.5,668.5 L647.5,666.8 L649.3,665.9 L650.4,663.8 L652.5,665.0 L653.7,666.1 L654.9,667.1Z" fill="#b0b7d0" opacity="0.8"/>
<circle cx="666.1" cy="658.3" r="1.2" fill="#b0b7d0" opacity="0.5"/>
<circle cx="657.2" cy="683.1" r="0.9" fill="#b0b7d0" opacity="0.5"/>
<circle cx="650.8" cy="655.9" r="1.2" fill="#b0b7d0" opacity="0.5"/>
<circle cx="640.2" cy="664.9" r="0.7" fill="#b0b7d0" opacity="0.5"/>
<circle cx="661.2" cy="678.7" r="0.5" fill="#b0b7d0" opacity="0.5"/>
<circle cx="641.2" cy="670.5" r="0.9" fill="#b0b7d0" opacity="0.5"/>
<circle cx="636.1" cy="668.7" r="1.2" fill="#b0b7d0" opacity="0.5"/>
<circle cx="670.7" cy="669.2" r="0.9" fill="#b0b7d0" opacity="0.5"/>
<circle cx="635.9" cy="662.7" r="1.2" fill="#b0b7d0" opacity="0.5"/>
<circle cx="641.7" cy="677.3" r="1.3" fill="#b0b7d0" opacity="0.5"/>
<circle cx="666.4" cy="675.2" r="1.0" fill="#b0b7d0" opacity="0.5"/>
<circle cx="667.7" cy="671.1" r="1.0" fill="#b0b7d0" opacity="0.5"/>
<circle cx="663.3" cy="663.7" r="1.3" fill="#b0b7d0" opacity="0.5"/>
<circle cx="636.8" cy="667.6" r="1.2" fill="#b0b7d0" opacity="0.5"/>
<circle cx="668.8" cy="671.8" r="1.0" fill="#b0b7d0" opacity="0.5"/>
<circle cx="641.4" cy="683.1" r="0.8" fill="#b0b7d0" opacity="0.5"/>
<circle cx="636.5" cy="670.7" r="1.1" fill="#b0b7d0" opacity="0.5"/>
<path d="M584.5,676.7 L582.6,679.1 L580.7,680.6 L578.8,682.1 L576.6,681.1 L574.2,681.0 L573.5,678.7 L571.8,676.7 L570.4,673.2 L574.0,672.2 L576.5,672.0 L578.5,672.8 L580.2,673.4 L583.3,673.9Z" fill="#b0b7d0" opacity="0.95"/>
<path d="M579.2,676.7 L579.7,677.7 L579.3,678.9 L578.2,679.5 L576.9,679.7 L576.0,678.7 L575.6,677.7 L574.9,676.7 L575.3,675.6 L576.2,674.9 L577.0,674.0 L578.3,673.8 L580.0,673.7 L580.5,675.3Z" fill="#b0b7d0" opacity="0.8"/>
<circle cx="569.4" cy="669.3" r="1.1" fill="#b0b7d0" opacity="0.5"/>
<circle cx="568.2" cy="670.2" r="0.7" fill="#b0b7d0" opacity="0.5"/>
<circle cx="572.8" cy="668.3" r="1.1" fill="#b0b7d0" opacity="0.5"/>
<circle cx="583.6" cy="681.1" r="0.5" fill="#b0b7d0" opacity="0.5"/>
<circle cx="579.6" cy="663.5" r="1.0" fill="#b0b7d0" opacity="0.5"/>
<circle cx="569.0" cy="686.0" r="1.1" fill="#b0b7d0" opacity="0.5"/>
<circle cx="570.2" cy="673.7" r="0.7" fill="#b0b7d0" opacity="0.5"/>
<circle cx="570.1" cy="680.7" r="0.8" fill="#b0b7d0" opacity="0.5"/>
<circle cx="569.1" cy="666.2" r="0.5" fill="#b0b7d0" opacity="0.5"/>
<circle cx="571.9" cy="674.1" r="0.6" fill="#b0b7d0" opacity="0.5"/>
<circle cx="581.5" cy="666.8" r="1.2" fill="#b0b7d0" opacity="0.5"/>
<path d="M599.9,654.9 L598.5,657.0 L597.1,658.7 L595.7,658.0 L594.6,657.7 L592.7,657.9 L592.0,655.6 L593.7,653.0 L594.8,651.4 L596.0,651.1 L597.1,649.5 L599.2,647.7 L599.2,650.7 L600.5,652.1Z" fill="#b0b7d0" opacity="0.95"/>
<circle cx="602.8" cy="660.6" r="0.6" fill="#b0b7d0" opacity="0.5"/>
<circle cx="603.2" cy="655.1" r="0.7" fill="#b0b7d0" opacity="0.5"/>
<circle cx="595.9" cy="646.4" r="0.5" fill="#b0b7d0" opacity="0.5"/>
<circle cx="597.4" cy="642.2" r="1.2" fill="#b0b7d0" opacity="0.5"/>
<circle cx="595.9" cy="647.2" r="1.0" fill="#b0b7d0" opacity="0.5"/>
<circle cx="595.0" cy="644.5" r="1.2" fill="#b0b7d0" opacity="0.5"/>
<path d="M393.1,600.7 L392.6,602.0 L391.2,602.3 L390.0,601.0 L389.3,600.3 L388.1,599.7 L387.0,598.3 L387.5,596.9 L388.9,596.4 L390.3,596.7 L391.5,596.8 L392.4,597.6 L393.4,598.5 L393.9,599.8Z" fill="#b0b7d0" opacity="0.95"/>
<circle cx="388.9" cy="595.9" r="1.1" fill="#b0b7d0" opacity="0.5"/>
<circle cx="386.5" cy="603.3" r="1.0" fill="#b0b7d0" opacity="0.5"/>
<circle cx="386.1" cy="601.3" r="1.1" fill="#b0b7d0" opacity="0.5"/>
<circle cx="397.4" cy="597.0" r="1.0" fill="#b0b7d0" opacity="0.5"/>
<circle cx="389.7" cy="602.2" r="1.3" fill="#b0b7d0" opacity="0.5"/>
<circle cx="388.5" cy="593.1" r="0.8" fill="#b0b7d0" opacity="0.5"/>
<path d="M608.3,511.1 L608.7,513.2 L607.1,514.6 L605.4,515.9 L603.1,516.5 L600.7,515.7 L599.1,513.6 L598.8,511.1 L601.2,509.6 L601.9,508.0 L603.2,506.1 L605.5,505.8 L607.9,506.6 L608.6,509.0Z" fill="#b0b7d0" opacity="0.95"/>
<circle cx="609.1" cy="500.1" r="0.5" fill="#b0b7d0" opacity="0.5"/>
<circle cx="610.0" cy="501.1" r="1.2" fill="#b0b7d0" opacity="0.5"/>
<circle cx="597.6" cy="507.8" r="1.2" fill="#b0b7d0" opacity="0.5"/>
<circle cx="608.0" cy="501.2" r="1.2" fill="#b0b7d0" opacity="0.5"/>
<circle cx="600.8" cy="516.1" r="0.9" fill="#b0b7d0" opacity="0.5"/>
<circle cx="606.3" cy="504.5" r="1.1" fill="#b0b7d0" opacity="0.5"/>
<circle cx="610.8" cy="508.1" r="1.0" fill="#b0b7d0" opacity="0.5"/>
<circle cx="600.4" cy="503.1" r="0.7" fill="#b0b7d0" opacity="0.5"/>
<circle cx="604.0" cy="522.1" r="1.1" fill="#b0b7d0" opacity="0.5"/>
<circle cx="598.4" cy="512.6" r="1.1" fill="#b0b7d0" opacity="0.5"/>
<path d="M644.4,493.0 L644.0,494.6 L643.0,496.0 L641.2,496.5 L639.2,497.4 L637.5,496.2 L637.9,494.0 L637.6,493.0 L636.8,491.5 L637.7,490.1 L639.1,488.2 L641.2,489.3 L642.4,490.7 L643.6,491.6Z" fill="#b0b7d0" opacity="0.95"/>
<circle cx="650.4" cy="495.6" r="0.8" fill="#b0b7d0" opacity="0.5"/>
<circle cx="646.8" cy="497.6" r="1.1" fill="#b0b7d0" opacity="0.5"/>
<circle cx="644.8" cy="499.0" r="0.8" fill="#b0b7d0" opacity="0.5"/>
<circle cx="635.8" cy="492.5" r="0.5" fill="#b0b7d0" opacity="0.5"/>
<circle cx="650.0" cy="492.5" r="0.9" fill="#b0b7d0" opacity="0.5"/>
<circle cx="634.8" cy="490.8" r="1.1" fill="#b0b7d0" opacity="0.5"/>
<circle cx="631.2" cy="497.1" r="1.1" fill="#b0b7d0" opacity="0.5"/>
<circle cx="644.6" cy="484.7" r="0.7" fill="#b0b7d0" opacity="0.5"/>
<path d="M504.5,559.4 L504.2,560.2 L503.6,560.8 L503.0,561.4 L502.2,560.9 L501.3,560.9 L500.7,560.3 L501.2,559.4 L500.6,558.5 L501.1,557.6 L502.1,557.8 L502.9,557.6 L503.2,558.5 L503.8,558.8Z" fill="#b0b7d0" opacity="0.95"/>
<circle cx="499.6" cy="555.9" r="1.0" fill="#b0b7d0" opacity="0.5"/>
<circle cx="500.0" cy="561.4" r="0.6" fill="#b0b7d0" opacity="0.5"/>
<circle cx="507.0" cy="558.4" r="0.7" fill="#b0b7d0" opacity="0.5"/>
<path d="M508.3,514.6 L507.7,515.5 L507.1,516.3 L506.2,516.2 L505.4,516.3 L504.6,516.1 L504.3,515.3 L504.1,514.6 L504.0,513.7 L504.5,513.0 L505.3,512.6 L506.2,512.8 L506.6,513.6 L507.2,513.9Z" fill="#b0b7d0" opacity="0.95"/>
<circle cx="502.4" cy="512.4" r="0.6" fill="#b0b7d0" opacity="0.5"/>
<circle cx="504.6" cy="517.0" r="0.6" fill="#b0b7d0" opacity="0.5"/>
<circle cx="503.4" cy="514.9" r="0.7" fill="#b0b7d0" opacity="0.5"/>
<path d="M606.4,722.4 L606.1,723.2 L605.2,723.7 L604.5,724.5 L603.5,723.7 L602.8,723.5 L601.5,723.3 L600.9,722.4 L601.7,721.6 L602.4,720.9 L603.6,721.3 L604.4,720.8 L605.6,720.7 L605.9,721.6Z" fill="#b0b7d0" opacity="0.95"/>
<circle cx="600.4" cy="723.3" r="1.2" fill="#b0b7d0" opacity="0.5"/>
<circle cx="599.4" cy="722.9" r="0.6" fill="#b0b7d0" opacity="0.5"/>
<circle cx="604.4" cy="724.5" r="1.1" fill="#b0b7d0" opacity="0.5"/>
<circle cx="601.1" cy="721.6" r="1.2" fill="#b0b7d0" opacity="0.5"/>
<path d="M588.4,766.2 L587.1,766.8 L584.7,766.7 L583.5,767.1 L581.7,766.9 L580.2,766.5 L577.8,766.0 L578.7,765.2 L577.6,764.1 L580.1,764.1 L582.1,764.3 L583.8,764.4 L585.5,764.7 L587.4,765.3Z" fill="#b0b7d0" opacity="0.95"/>
<circle cx="581.3" cy="767.9" r="0.7" fill="#b0b7d0" opacity="0.5"/>
<circle cx="575.2" cy="768.8" r="1.3" fill="#b0b7d0" opacity="0.5"/>
<circle cx="587.8" cy="764.7" r="0.7" fill="#b0b7d0" opacity="0.5"/>
<circle cx="587.0" cy="764.4" r="1.1" fill="#b0b7d0" opacity="0.5"/>
<circle cx="579.7" cy="769.6" r="0.5" fill="#b0b7d0" opacity="0.5"/>
<circle cx="585.3" cy="763.2" r="0.6" fill="#b0b7d0" opacity="0.5"/>
<circle cx="593.4" cy="765.6" r="0.9" fill="#b0b7d0" opacity="0.5"/>
<circle cx="585.9" cy="768.2" r="1.2" fill="#b0b7d0" opacity="0.5"/>
<circle cx="584.6" cy="768.7" r="0.6" fill="#b0b7d0" opacity="0.5"/>
<path d="M602.1,772.7 L602.3,773.3 L601.8,773.8 L601.0,773.9 L600.3,773.8 L599.8,773.5 L599.1,773.2 L598.1,772.7 L598.7,772.0 L599.5,771.7 L600.2,771.4 L600.9,771.7 L601.6,771.8 L602.5,772.0Z" fill="#b0b7d0" opacity="0.95"/>
<circle cx="597.3" cy="774.3" r="0.5" fill="#b0b7d0" opacity="0.5"/>
<circle cx="601.7" cy="770.7" r="1.2" fill="#b0b7d0" opacity="0.5"/>
<circle cx="602.8" cy="770.8" r="0.5" fill="#b0b7d0" opacity="0.5"/>
<path d="M612.7,619.7 L612.8,620.4 L612.5,621.1 L611.8,621.5 L611.0,621.5 L610.7,620.6 L610.3,620.2 L610.1,619.7 L609.8,618.9 L610.1,618.1 L611.0,618.0 L611.7,618.6 L612.5,618.4 L612.9,619.0Z" fill="#b0b7d0" opacity="0.95"/>
<circle cx="613.1" cy="617.8" r="1.1" fill="#b0b7d0" opacity="0.5"/>
<circle cx="608.8" cy="622.1" r="0.5" fill="#b0b7d0" opacity="0.5"/>
<circle cx="614.3" cy="616.8" r="0.9" fill="#b0b7d0" opacity="0.5"/>
<path d="M551.5,593.2 L551.4,593.7 L551.1,594.1 L550.7,594.4 L550.1,594.6 L549.5,594.4 L549.2,593.8 L549.2,593.2 L549.3,592.7 L549.7,592.3 L550.2,592.1 L550.7,592.0 L551.4,592.0 L552.0,592.4Z" fill="#b0b7d0" opacity="0.95"/>
<circle cx="547.5" cy="592.8" r="0.6" fill="#b0b7d0" opacity="0.5"/>
<circle cx="552.4" cy="591.0" r="0.5" fill="#b0b7d0" opacity="0.5"/>
<path d="M496.2,605.0 L495.4,605.2 L494.9,605.7 L493.9,605.1 L493.1,604.7 L492.4,604.2 L492.7,603.6 L491.9,602.7 L491.9,601.8 L493.4,602.4 L494.3,602.5 L495.1,603.1 L495.4,603.7 L496.5,604.4Z" fill="#b0b7d0" opacity="0.95"/>
<circle cx="496.4" cy="601.7" r="0.8" fill="#b0b7d0" opacity="0.5"/>
<circle cx="498.8" cy="602.8" r="0.8" fill="#b0b7d0" opacity="0.5"/>
<circle cx="494.3" cy="606.1" r="0.8" fill="#b0b7d0" opacity="0.5"/>
<circle cx="499.3" cy="603.5" r="1.2" fill="#b0b7d0" opacity="0.5"/>
<path d="M673.4,411.5 L675.0,414.7 L673.3,417.6 L670.3,418.8 L667.5,417.6 L665.7,415.7 L663.5,414.2 L663.5,411.5 L664.9,409.5 L664.9,406.2 L667.4,404.8 L670.2,404.8 L672.5,406.5 L672.9,409.3Z" fill="#b0b7d0" opacity="0.95"/>
<path d="M671.1,411.5 L671.7,413.0 L671.3,414.8 L669.4,414.2 L668.1,414.9 L667.0,414.0 L666.3,412.8 L666.2,411.5 L666.6,410.4 L667.0,409.0 L667.9,407.3 L669.5,408.0 L670.5,409.1 L671.0,410.4Z" fill="#b0b7d0" opacity="0.8"/>
<circle cx="677.3" cy="408.5" r="0.7" fill="#b0b7d0" opacity="0.5"/>
<circle cx="664.3" cy="405.1" r="1.0" fill="#b0b7d0" opacity="0.5"/>
<circle cx="679.3" cy="408.3" r="0.7" fill="#b0b7d0" opacity="0.5"/>
<circle cx="657.9" cy="414.0" r="0.6" fill="#b0b7d0" opacity="0.5"/>
<circle cx="674.2" cy="417.2" r="0.7" fill="#b0b7d0" opacity="0.5"/>
<circle cx="661.3" cy="416.9" r="0.7" fill="#b0b7d0" opacity="0.5"/>
<circle cx="678.4" cy="417.8" r="1.2" fill="#b0b7d0" opacity="0.5"/>
<circle cx="660.0" cy="403.7" r="1.0" fill="#b0b7d0" opacity="0.5"/>
<circle cx="672.6" cy="424.5" r="0.9" fill="#b0b7d0" opacity="0.5"/>
<circle cx="657.5" cy="407.7" r="0.9" fill="#b0b7d0" opacity="0.5"/>
<circle cx="665.6" cy="420.1" r="0.7" fill="#b0b7d0" opacity="0.5"/>
<circle cx="659.0" cy="410.7" r="1.0" fill="#b0b7d0" opacity="0.5"/>
<path d="M642.5,350.5 L643.0,352.6 L641.1,353.7 L639.5,354.3 L637.5,355.5 L636.7,352.9 L635.5,352.0 L635.0,350.5 L635.1,348.8 L635.0,345.9 L637.6,346.2 L639.1,348.3 L640.7,347.9 L642.1,348.8Z" fill="#b0b7d0" opacity="0.95"/>
<circle cx="638.1" cy="345.4" r="0.7" fill="#b0b7d0" opacity="0.5"/>
<circle cx="647.2" cy="348.2" r="0.6" fill="#b0b7d0" opacity="0.5"/>
<circle cx="635.2" cy="356.1" r="1.0" fill="#b0b7d0" opacity="0.5"/>
<circle cx="631.4" cy="344.1" r="1.2" fill="#b0b7d0" opacity="0.5"/>
<circle cx="629.7" cy="349.5" r="1.1" fill="#b0b7d0" opacity="0.5"/>
<circle cx="639.0" cy="343.2" r="1.1" fill="#b0b7d0" opacity="0.5"/>
<circle cx="636.0" cy="340.8" r="0.6" fill="#b0b7d0" opacity="0.5"/>
<circle cx="641.7" cy="347.2" r="1.1" fill="#b0b7d0" opacity="0.5"/>
<path d="M626.4,363.0 L626.0,363.8 L625.5,364.4 L625.0,365.7 L623.7,365.9 L623.0,364.7 L622.4,364.0 L622.3,363.0 L622.5,362.1 L623.0,361.3 L624.0,361.1 L624.9,360.8 L626.2,360.7 L626.6,362.0Z" fill="#b0b7d0" opacity="0.95"/>
<circle cx="625.6" cy="357.8" r="0.9" fill="#b0b7d0" opacity="0.5"/>
<circle cx="621.5" cy="364.1" r="0.7" fill="#b0b7d0" opacity="0.5"/>
<circle cx="627.1" cy="366.5" r="1.0" fill="#b0b7d0" opacity="0.5"/>
<circle cx="629.2" cy="365.9" r="0.8" fill="#b0b7d0" opacity="0.5"/>
<path d="M611.5,449.5 L612.6,451.0 L612.0,452.6 L610.3,452.8 L608.9,452.3 L608.0,451.4 L606.7,450.8 L606.0,449.5 L606.9,448.2 L607.3,446.8 L608.6,445.6 L610.3,446.0 L611.7,446.8 L611.6,448.5Z" fill="#b0b7d0" opacity="0.95"/>
<circle cx="605.5" cy="452.8" r="1.0" fill="#b0b7d0" opacity="0.5"/>
<circle cx="604.8" cy="455.9" r="1.0" fill="#b0b7d0" opacity="0.5"/>
<circle cx="605.6" cy="448.9" r="0.8" fill="#b0b7d0" opacity="0.5"/>
<circle cx="604.5" cy="453.1" r="1.0" fill="#b0b7d0" opacity="0.5"/>
<circle cx="615.3" cy="444.0" r="0.9" fill="#b0b7d0" opacity="0.5"/>
<circle cx="603.5" cy="451.9" r="1.3" fill="#b0b7d0" opacity="0.5"/>
<path d="M647.3,411.8 L647.1,412.3 L646.7,412.8 L646.0,413.1 L645.2,413.2 L644.7,412.7 L643.8,412.5 L643.2,411.8 L643.8,411.1 L644.4,410.7 L645.2,410.6 L645.9,410.9 L646.8,410.6 L647.6,411.1Z" fill="#b0b7d0" opacity="0.95"/>
<circle cx="642.3" cy="411.6" r="0.7" fill="#b0b7d0" opacity="0.5"/>
<circle cx="647.1" cy="414.3" r="1.0" fill="#b0b7d0" opacity="0.5"/>
<circle cx="642.8" cy="414.6" r="1.0" fill="#b0b7d0" opacity="0.5"/>
<path d="M700.4,246.8 L701.5,250.6 L697.3,251.9 L694.4,253.4 L690.5,255.3 L688.6,251.4 L687.0,249.2 L684.6,246.8 L684.2,243.2 L686.3,239.6 L690.9,239.7 L694.0,241.9 L697.1,241.9 L701.4,243.1Z" fill="#b0b7d0" opacity="0.95"/>
<path d="M696.6,246.8 L695.7,248.1 L694.1,248.4 L693.6,250.4 L691.7,250.8 L689.8,250.0 L688.5,248.6 L689.4,246.8 L689.1,245.3 L690.3,244.2 L692.0,244.2 L693.7,242.9 L695.6,243.5 L696.9,245.0Z" fill="#b0b7d0" opacity="0.8"/>
<circle cx="686.1" cy="254.6" r="0.7" fill="#b0b7d0" opacity="0.5"/>
<circle cx="708.8" cy="257.1" r="1.0" fill="#b0b7d0" opacity="0.5"/>
<circle cx="684.3" cy="257.2" r="0.8" fill="#b0b7d0" opacity="0.5"/>
<circle cx="711.3" cy="252.7" r="1.0" fill="#b0b7d0" opacity="0.5"/>
<circle cx="706.5" cy="243.6" r="1.0" fill="#b0b7d0" opacity="0.5"/>
<circle cx="692.7" cy="255.2" r="1.2" fill="#b0b7d0" opacity="0.5"/>
<circle cx="700.5" cy="237.8" r="1.2" fill="#b0b7d0" opacity="0.5"/>
<circle cx="697.7" cy="236.5" r="1.0" fill="#b0b7d0" opacity="0.5"/>
<circle cx="707.2" cy="243.5" r="1.3" fill="#b0b7d0" opacity="0.5"/>
<circle cx="693.3" cy="258.9" r="1.1" fill="#b0b7d0" opacity="0.5"/>
<circle cx="695.0" cy="257.9" r="1.2" fill="#b0b7d0" opacity="0.5"/>
<circle cx="674.2" cy="248.4" r="0.7" fill="#b0b7d0" opacity="0.5"/>
<circle cx="698.8" cy="257.3" r="0.6" fill="#b0b7d0" opacity="0.5"/>
<circle cx="704.9" cy="244.8" r="0.9" fill="#b0b7d0" opacity="0.5"/>
<circle cx="704.3" cy="255.8" r="0.8" fill="#b0b7d0" opacity="0.5"/>
<circle cx="684.7" cy="251.7" r="0.6" fill="#b0b7d0" opacity="0.5"/>
<circle cx="698.7" cy="236.4" r="0.7" fill="#b0b7d0" opacity="0.5"/>
<path d="M770.1,419.5 L768.4,422.6 L764.7,423.6 L762.3,424.6 L759.6,424.9 L757.0,423.9 L754.5,422.3 L753.6,419.5 L753.8,416.5 L755.8,413.8 L759.5,413.8 L762.5,413.9 L764.1,416.1 L767.4,416.8Z" fill="#b0b7d0" opacity="0.95"/>
<path d="M763.9,419.5 L764.3,420.9 L762.8,421.5 L761.9,422.9 L759.9,423.6 L759.0,421.7 L758.0,420.8 L758.5,419.5 L757.9,418.2 L758.2,416.4 L760.1,416.2 L761.7,416.7 L763.6,416.6 L763.8,418.3Z" fill="#b0b7d0" opacity="0.8"/>
<circle cx="767.4" cy="413.7" r="0.9" fill="#b0b7d0" opacity="0.5"/>
<circle cx="750.5" cy="417.0" r="1.1" fill="#b0b7d0" opacity="0.5"/>
<circle cx="749.8" cy="428.2" r="1.0" fill="#b0b7d0" opacity="0.5"/>
<circle cx="756.5" cy="429.4" r="0.6" fill="#b0b7d0" opacity="0.5"/>
<circle cx="768.6" cy="432.9" r="0.8" fill="#b0b7d0" opacity="0.5"/>
<circle cx="756.2" cy="412.7" r="0.9" fill="#b0b7d0" opacity="0.5"/>
<circle cx="752.4" cy="428.4" r="0.7" fill="#b0b7d0" opacity="0.5"/>
<circle cx="771.3" cy="423.5" r="0.7" fill="#b0b7d0" opacity="0.5"/>
<circle cx="772.0" cy="429.3" r="0.7" fill="#b0b7d0" opacity="0.5"/>
<circle cx="746.4" cy="428.4" r="1.1" fill="#b0b7d0" opacity="0.5"/>
<circle cx="773.7" cy="409.3" r="0.6" fill="#b0b7d0" opacity="0.5"/>
<circle cx="759.6" cy="426.6" r="1.0" fill="#b0b7d0" opacity="0.5"/>
<circle cx="754.9" cy="410.7" r="0.8" fill="#b0b7d0" opacity="0.5"/>
<circle cx="752.6" cy="408.1" r="0.7" fill="#b0b7d0" opacity="0.5"/>
<circle cx="767.7" cy="411.1" r="1.0" fill="#b0b7d0" opacity="0.5"/>
<path d="M691.2,340.1 L691.4,341.8 L688.9,341.8 L687.7,341.7 L686.7,342.2 L685.7,341.8 L684.2,341.4 L683.8,340.1 L685.0,339.1 L685.2,337.8 L686.6,337.3 L687.8,338.3 L689.2,338.0 L690.0,339.0Z" fill="#b0b7d0" opacity="0.95"/>
<circle cx="686.3" cy="336.2" r="0.8" fill="#b0b7d0" opacity="0.5"/>
<circle cx="685.2" cy="336.1" r="0.5" fill="#b0b7d0" opacity="0.5"/>
<circle cx="690.9" cy="334.8" r="0.7" fill="#b0b7d0" opacity="0.5"/>
<circle cx="694.5" cy="341.8" r="1.0" fill="#b0b7d0" opacity="0.5"/>
<circle cx="691.7" cy="341.3" r="0.6" fill="#b0b7d0" opacity="0.5"/>
<circle cx="688.4" cy="336.4" r="1.2" fill="#b0b7d0" opacity="0.5"/>
<path d="M625.5,286.5 L625.9,287.4 L625.4,288.2 L624.4,288.0 L623.7,288.4 L622.7,288.3 L622.7,287.2 L622.3,286.5 L622.8,285.9 L622.9,285.0 L623.5,283.9 L624.6,284.5 L625.1,285.2 L625.3,285.9Z" fill="#b0b7d0" opacity="0.95"/>
<circle cx="623.1" cy="283.5" r="0.9" fill="#b0b7d0" opacity="0.5"/>
<circle cx="626.2" cy="285.5" r="1.1" fill="#b0b7d0" opacity="0.5"/>
<circle cx="627.8" cy="287.6" r="1.1" fill="#b0b7d0" opacity="0.5"/>
<path d="M625.1,194.4 L624.8,195.2 L624.0,195.5 L623.5,195.9 L622.9,196.1 L622.4,195.5 L621.7,195.2 L621.3,194.4 L621.7,193.6 L622.1,192.8 L622.9,193.1 L623.4,193.3 L624.3,192.9 L624.9,193.5Z" fill="#b0b7d0" opacity="0.95"/>
<circle cx="619.4" cy="195.9" r="0.8" fill="#b0b7d0" opacity="0.5"/>
<circle cx="622.0" cy="198.6" r="0.6" fill="#b0b7d0" opacity="0.5"/>
<circle cx="620.8" cy="193.3" r="1.2" fill="#b0b7d0" opacity="0.5"/>
<path d="M710.4,272.0 L710.1,272.5 L709.8,272.9 L709.5,273.6 L708.8,273.4 L708.3,273.0 L707.7,272.7 L707.8,272.0 L708.1,271.5 L708.5,271.3 L708.9,271.0 L709.5,270.5 L710.3,270.6 L710.3,271.4Z" fill="#b0b7d0" opacity="0.95"/>
<circle cx="710.7" cy="273.4" r="0.9" fill="#b0b7d0" opacity="0.5"/>
<circle cx="707.9" cy="273.4" r="0.6" fill="#b0b7d0" opacity="0.5"/>
<path d="M812.0,327.0 L814.6,335.1 L810.6,340.6 L805.7,337.2 L802.8,335.6 L800.2,333.7 L798.4,330.0 L797.4,324.8 L799.5,319.8 L802.4,316.2 L805.8,309.1 L809.2,314.7 L811.1,318.6 L813.2,322.1Z" fill="#b0b7d0" opacity="0.95"/>
<path d="M809.6,326.7 L807.8,328.3 L807.2,330.7 L805.7,333.6 L803.7,332.6 L801.9,331.4 L801.4,328.4 L802.8,325.7 L802.5,322.9 L804.0,321.0 L805.7,319.0 L808.0,318.5 L809.2,321.3 L809.3,324.2Z" fill="#b0b7d0" opacity="0.8"/>
<circle cx="813.3" cy="353.1" r="0.8" fill="#b0b7d0" opacity="0.5"/>
<circle cx="795.1" cy="344.0" r="0.8" fill="#b0b7d0" opacity="0.5"/>
<circle cx="811.5" cy="310.0" r="0.5" fill="#b0b7d0" opacity="0.5"/>
<circle cx="790.6" cy="315.6" r="1.2" fill="#b0b7d0" opacity="0.5"/>
<circle cx="800.2" cy="296.3" r="1.3" fill="#b0b7d0" opacity="0.5"/>
<circle cx="790.7" cy="327.0" r="0.6" fill="#b0b7d0" opacity="0.5"/>
<circle cx="800.8" cy="349.8" r="0.6" fill="#b0b7d0" opacity="0.5"/>
<circle cx="801.5" cy="310.4" r="0.9" fill="#b0b7d0" opacity="0.5"/>
<circle cx="815.5" cy="323.1" r="0.5" fill="#b0b7d0" opacity="0.5"/>
<circle cx="795.3" cy="332.6" r="1.1" fill="#b0b7d0" opacity="0.5"/>
<circle cx="824.8" cy="326.6" r="1.2" fill="#b0b7d0" opacity="0.5"/>
<circle cx="808.9" cy="304.8" r="0.7" fill="#b0b7d0" opacity="0.5"/>
<circle cx="797.7" cy="306.1" r="0.8" fill="#b0b7d0" opacity="0.5"/>
<circle cx="798.2" cy="344.9" r="1.0" fill="#b0b7d0" opacity="0.5"/>
<circle cx="814.8" cy="298.6" r="0.6" fill="#b0b7d0" opacity="0.5"/>
<circle cx="801.7" cy="347.4" r="1.0" fill="#b0b7d0" opacity="0.5"/>
<circle cx="799.2" cy="340.4" r="0.6" fill="#b0b7d0" opacity="0.5"/>
<path d="M823.7,333.4 L822.3,334.7 L819.7,335.2 L818.1,336.2 L815.5,336.3 L813.4,335.5 L812.0,334.6 L810.3,333.4 L811.5,332.1 L813.4,331.3 L815.9,331.4 L817.8,331.2 L820.7,330.9 L822.9,331.9Z" fill="#b0b7d0" opacity="0.95"/>
<path d="M819.7,333.4 L819.3,334.0 L818.1,334.2 L817.3,334.4 L816.2,334.7 L815.1,334.5 L814.3,334.0 L813.7,333.4 L814.4,332.8 L814.9,332.2 L816.3,332.2 L817.2,332.6 L818.4,332.4 L819.5,332.7Z" fill="#b0b7d0" opacity="0.8"/>
<circle cx="824.8" cy="330.1" r="0.6" fill="#b0b7d0" opacity="0.5"/>
<circle cx="822.0" cy="330.3" r="0.6" fill="#b0b7d0" opacity="0.5"/>
<circle cx="809.0" cy="332.6" r="0.9" fill="#b0b7d0" opacity="0.5"/>
<circle cx="809.5" cy="332.1" r="1.0" fill="#b0b7d0" opacity="0.5"/>
<circle cx="824.5" cy="336.7" r="1.0" fill="#b0b7d0" opacity="0.5"/>
<circle cx="824.9" cy="335.6" r="0.6" fill="#b0b7d0" opacity="0.5"/>
<circle cx="804.8" cy="335.8" r="0.9" fill="#b0b7d0" opacity="0.5"/>
<circle cx="814.1" cy="327.5" r="0.6" fill="#b0b7d0" opacity="0.5"/>
<circle cx="828.6" cy="333.0" r="0.6" fill="#b0b7d0" opacity="0.5"/>
<circle cx="821.2" cy="329.4" r="0.6" fill="#b0b7d0" opacity="0.5"/>
<circle cx="827.0" cy="332.1" r="1.1" fill="#b0b7d0" opacity="0.5"/>
<path d="M804.2,293.0 L804.5,295.8 L802.9,297.1 L801.6,298.8 L800.2,296.5 L799.3,295.6 L796.8,295.8 L796.4,293.0 L796.7,290.1 L798.2,288.3 L800.0,288.3 L801.4,288.1 L803.3,288.1 L803.8,290.8Z" fill="#b0b7d0" opacity="0.95"/>
<circle cx="804.6" cy="303.4" r="0.8" fill="#b0b7d0" opacity="0.5"/>
<circle cx="801.3" cy="281.6" r="1.2" fill="#b0b7d0" opacity="0.5"/>
<circle cx="805.0" cy="299.2" r="1.1" fill="#b0b7d0" opacity="0.5"/>
<circle cx="808.1" cy="289.2" r="0.5" fill="#b0b7d0" opacity="0.5"/>
<circle cx="797.1" cy="288.9" r="0.9" fill="#b0b7d0" opacity="0.5"/>
<circle cx="802.2" cy="286.5" r="1.2" fill="#b0b7d0" opacity="0.5"/>
<circle cx="798.3" cy="285.9" r="0.7" fill="#b0b7d0" opacity="0.5"/>
<path d="M774.1,294.8 L773.9,295.6 L773.6,296.5 L772.7,296.8 L771.9,296.6 L770.7,296.9 L770.1,295.9 L769.5,294.8 L770.5,293.9 L771.6,293.9 L771.8,292.5 L772.9,292.3 L774.0,292.7 L774.9,293.6Z" fill="#b0b7d0" opacity="0.95"/>
<circle cx="774.7" cy="294.0" r="0.8" fill="#b0b7d0" opacity="0.5"/>
<circle cx="774.7" cy="298.2" r="1.2" fill="#b0b7d0" opacity="0.5"/>
<circle cx="773.1" cy="292.3" r="0.6" fill="#b0b7d0" opacity="0.5"/>
<circle cx="774.3" cy="290.5" r="0.8" fill="#b0b7d0" opacity="0.5"/>
<path d="M797.7,253.7 L797.3,254.8 L796.3,254.6 L795.7,254.3 L794.6,255.1 L794.1,254.3 L793.6,253.3 L794.3,252.3 L795.4,252.1 L795.7,251.3 L796.5,250.8 L797.1,251.3 L798.0,251.7 L798.0,252.7Z" fill="#b0b7d0" opacity="0.95"/>
<circle cx="794.8" cy="255.0" r="1.0" fill="#b0b7d0" opacity="0.5"/>
<circle cx="795.0" cy="255.2" r="0.9" fill="#b0b7d0" opacity="0.5"/>
<circle cx="798.1" cy="252.8" r="0.6" fill="#b0b7d0" opacity="0.5"/>
<path d="M791.5,261.1 L790.5,261.6 L790.1,262.5 L789.3,263.5 L788.2,263.6 L787.3,262.8 L788.1,261.0 L788.6,260.2 L788.5,258.9 L789.2,257.7 L790.2,257.5 L791.1,257.6 L791.4,258.8 L791.4,259.9Z" fill="#b0b7d0" opacity="0.95"/>
<circle cx="788.9" cy="266.6" r="1.2" fill="#b0b7d0" opacity="0.5"/>
<circle cx="793.2" cy="258.3" r="0.7" fill="#b0b7d0" opacity="0.5"/>
<circle cx="790.0" cy="254.6" r="0.9" fill="#b0b7d0" opacity="0.5"/>
<path d="M782.1,316.5 L781.5,317.0 L781.5,317.7 L780.9,318.2 L779.9,319.0 L779.1,318.3 L779.2,317.1 L779.2,316.5 L779.1,315.8 L779.5,315.2 L780.1,314.7 L780.9,314.9 L781.7,315.0 L782.4,315.6Z" fill="#b0b7d0" opacity="0.95"/>
<circle cx="777.2" cy="317.7" r="0.7" fill="#b0b7d0" opacity="0.5"/>
<circle cx="781.6" cy="318.4" r="0.7" fill="#b0b7d0" opacity="0.5"/>
<circle cx="779.1" cy="320.2" r="0.9" fill="#b0b7d0" opacity="0.5"/>
<path d="M754.0,339.5 L753.8,340.3 L752.9,340.7 L752.3,341.5 L751.0,341.8 L750.6,340.6 L750.0,340.2 L749.8,339.5 L749.4,338.6 L749.9,337.7 L751.1,337.5 L752.2,337.9 L752.9,338.3 L753.3,338.9Z" fill="#b0b7d0" opacity="0.95"/>
<circle cx="754.7" cy="339.9" r="0.7" fill="#b0b7d0" opacity="0.5"/>
<circle cx="750.8" cy="337.0" r="0.8" fill="#b0b7d0" opacity="0.5"/>
<circle cx="753.1" cy="342.9" r="1.2" fill="#b0b7d0" opacity="0.5"/>
<circle cx="749.8" cy="337.5" r="1.1" fill="#b0b7d0" opacity="0.5"/>
<path d="M774.8,360.9 L774.9,361.8 L774.2,362.4 L773.5,363.0 L772.6,362.5 L772.3,361.8 L771.4,361.7 L771.2,360.9 L770.9,359.9 L771.7,359.2 L772.7,359.4 L773.4,359.1 L774.2,359.4 L774.3,360.3Z" fill="#b0b7d0" opacity="0.95"/>
<circle cx="771.7" cy="358.3" r="0.5" fill="#b0b7d0" opacity="0.5"/>
<circle cx="771.2" cy="362.0" r="1.0" fill="#b0b7d0" opacity="0.5"/>
<circle cx="771.3" cy="363.8" r="1.0" fill="#b0b7d0" opacity="0.5"/>
<path d="M776.0,386.0 L775.4,386.8 L774.7,387.2 L774.1,387.3 L773.4,387.6 L772.9,387.1 L772.3,386.7 L772.1,386.0 L772.3,385.3 L772.8,384.7 L773.5,384.8 L774.0,385.1 L775.0,384.5 L775.4,385.2Z" fill="#b0b7d0" opacity="0.95"/>
<circle cx="770.7" cy="385.2" r="0.9" fill="#b0b7d0" opacity="0.5"/>
<circle cx="772.0" cy="383.3" r="0.8" fill="#b0b7d0" opacity="0.5"/>
<circle cx="773.7" cy="383.6" r="1.1" fill="#b0b7d0" opacity="0.5"/>
<path d="M907.8,299.5 L907.5,302.8 L906.5,306.9 L902.4,309.2 L898.0,307.1 L893.7,306.5 L893.0,302.5 L893.5,299.5 L891.8,296.0 L894.5,293.4 L897.7,290.7 L902.5,289.2 L906.7,291.9 L905.8,296.9Z" fill="#b0b7d0" opacity="0.95"/>
<path d="M903.5,299.5 L903.8,301.2 L902.5,302.4 L901.0,303.9 L898.8,303.7 L896.6,303.2 L895.7,301.3 L897.0,299.5 L897.4,298.4 L896.4,295.6 L898.6,294.2 L901.0,295.3 L902.4,296.7 L903.1,298.1Z" fill="#b0b7d0" opacity="0.8"/>
<circle cx="901.0" cy="320.3" r="0.9" fill="#b0b7d0" opacity="0.5"/>
<circle cx="890.3" cy="289.6" r="1.1" fill="#b0b7d0" opacity="0.5"/>
<circle cx="886.1" cy="302.7" r="1.2" fill="#b0b7d0" opacity="0.5"/>
<circle cx="915.3" cy="310.7" r="0.6" fill="#b0b7d0" opacity="0.5"/>
<circle cx="890.5" cy="288.6" r="1.2" fill="#b0b7d0" opacity="0.5"/>
<circle cx="916.2" cy="305.3" r="0.8" fill="#b0b7d0" opacity="0.5"/>
<circle cx="919.7" cy="289.5" r="1.0" fill="#b0b7d0" opacity="0.5"/>
<circle cx="902.1" cy="311.3" r="0.7" fill="#b0b7d0" opacity="0.5"/>
<circle cx="888.0" cy="304.3" r="0.7" fill="#b0b7d0" opacity="0.5"/>
<circle cx="900.9" cy="282.8" r="0.7" fill="#b0b7d0" opacity="0.5"/>
<circle cx="912.7" cy="299.1" r="1.0" fill="#b0b7d0" opacity="0.5"/>
<circle cx="911.8" cy="315.7" r="1.2" fill="#b0b7d0" opacity="0.5"/>
<circle cx="897.7" cy="317.4" r="1.2" fill="#b0b7d0" opacity="0.5"/>
<circle cx="897.0" cy="312.2" r="0.9" fill="#b0b7d0" opacity="0.5"/>
<circle cx="909.2" cy="292.6" r="1.0" fill="#b0b7d0" opacity="0.5"/>
<circle cx="886.8" cy="291.2" r="1.0" fill="#b0b7d0" opacity="0.5"/>
<circle cx="909.3" cy="291.8" r="1.2" fill="#b0b7d0" opacity="0.5"/>
<circle cx="886.9" cy="313.7" r="1.2" fill="#b0b7d0" opacity="0.5"/>
<circle cx="908.8" cy="317.2" r="1.3" fill="#b0b7d0" opacity="0.5"/>
<path d="M852.4,290.6 L851.0,292.1 L849.9,293.0 L848.5,292.8 L847.4,293.1 L846.2,292.8 L844.4,292.3 L844.4,290.6 L845.7,289.5 L846.2,288.3 L847.3,287.7 L848.7,287.4 L850.2,287.9 L851.0,289.2Z" fill="#b0b7d0" opacity="0.95"/>
<circle cx="852.5" cy="291.5" r="1.1" fill="#b0b7d0" opacity="0.5"/>
<circle cx="846.6" cy="287.2" r="0.9" fill="#b0b7d0" opacity="0.5"/>
<circle cx="848.6" cy="296.1" r="0.6" fill="#b0b7d0" opacity="0.5"/>
<circle cx="856.1" cy="291.6" r="0.8" fill="#b0b7d0" opacity="0.5"/>
<circle cx="850.9" cy="287.8" r="0.9" fill="#b0b7d0" opacity="0.5"/>
<circle cx="851.6" cy="294.7" r="0.6" fill="#b0b7d0" opacity="0.5"/>
<path d="M873.3,294.2 L873.2,295.1 L872.7,295.8 L871.8,296.2 L870.7,297.2 L869.8,296.3 L869.7,295.0 L869.2,294.2 L869.8,293.4 L869.9,292.3 L870.8,291.4 L871.9,292.0 L872.7,292.6 L873.1,293.4Z" fill="#b0b7d0" opacity="0.95"/>
<circle cx="875.4" cy="295.3" r="0.8" fill="#b0b7d0" opacity="0.5"/>
<circle cx="867.9" cy="292.9" r="0.5" fill="#b0b7d0" opacity="0.5"/>
<circle cx="869.6" cy="289.9" r="0.9" fill="#b0b7d0" opacity="0.5"/>
<circle cx="866.8" cy="292.8" r="1.3" fill="#b0b7d0" opacity="0.5"/>
<path d="M889.1,283.9 L889.1,284.7 L889.4,286.4 L888.0,286.6 L887.0,285.8 L886.2,285.4 L886.0,284.6 L885.0,283.9 L885.3,282.9 L886.0,282.1 L886.8,281.3 L888.0,281.4 L888.7,282.2 L889.1,283.1Z" fill="#b0b7d0" opacity="0.95"/>
<circle cx="887.6" cy="287.0" r="0.6" fill="#b0b7d0" opacity="0.5"/>
<circle cx="890.2" cy="279.6" r="1.2" fill="#b0b7d0" opacity="0.5"/>
<circle cx="892.0" cy="285.4" r="0.8" fill="#b0b7d0" opacity="0.5"/>
<circle cx="884.8" cy="280.5" r="0.8" fill="#b0b7d0" opacity="0.5"/>
<path d="M891.1,304.4 L891.5,305.4 L890.8,306.2 L889.8,306.2 L889.0,305.9 L888.4,305.7 L887.8,305.2 L887.5,304.4 L887.8,303.6 L888.2,302.9 L888.9,302.1 L889.8,302.7 L890.4,303.2 L890.6,303.8Z" fill="#b0b7d0" opacity="0.95"/>
<circle cx="887.0" cy="301.9" r="0.7" fill="#b0b7d0" opacity="0.5"/>
<circle cx="887.3" cy="302.7" r="1.2" fill="#b0b7d0" opacity="0.5"/>
<circle cx="885.5" cy="305.1" r="0.9" fill="#b0b7d0" opacity="0.5"/>
<path d="M854.2,308.9 L853.4,309.6 L852.7,309.7 L852.3,310.4 L851.6,310.7 L850.8,310.4 L850.3,309.7 L850.5,308.9 L850.8,308.3 L850.9,307.6 L851.6,307.3 L852.4,307.1 L853.2,307.4 L853.4,308.2Z" fill="#b0b7d0" opacity="0.95"/>
<circle cx="849.2" cy="311.5" r="1.2" fill="#b0b7d0" opacity="0.5"/>
<circle cx="853.5" cy="310.4" r="0.7" fill="#b0b7d0" opacity="0.5"/>
<circle cx="854.1" cy="310.5" r="1.1" fill="#b0b7d0" opacity="0.5"/>
<path d="M842.5,327.4 L842.1,328.0 L841.2,328.3 L840.7,329.1 L839.6,329.3 L838.6,328.9 L837.8,328.2 L838.4,327.4 L838.2,326.7 L838.8,326.2 L839.8,326.1 L840.7,325.9 L841.9,325.8 L842.4,326.6Z" fill="#b0b7d0" opacity="0.95"/>
<circle cx="838.3" cy="328.6" r="0.7" fill="#b0b7d0" opacity="0.5"/>
<circle cx="837.8" cy="326.6" r="0.6" fill="#b0b7d0" opacity="0.5"/>
<circle cx="839.5" cy="325.0" r="0.8" fill="#b0b7d0" opacity="0.5"/>
<circle cx="840.5" cy="331.2" r="0.6" fill="#b0b7d0" opacity="0.5"/>
<path d="M866.9,341.3 L866.9,342.2 L866.4,343.1 L865.6,343.8 L864.6,343.2 L863.5,343.2 L862.7,342.4 L862.9,341.3 L863.5,340.6 L863.8,339.8 L864.5,339.1 L865.7,338.1 L866.6,339.3 L866.6,340.5Z" fill="#b0b7d0" opacity="0.95"/>
<circle cx="860.1" cy="338.7" r="0.7" fill="#b0b7d0" opacity="0.5"/>
<circle cx="869.8" cy="340.4" r="0.8" fill="#b0b7d0" opacity="0.5"/>
<circle cx="863.2" cy="338.2" r="0.6" fill="#b0b7d0" opacity="0.5"/>
<circle cx="865.1" cy="337.5" r="0.9" fill="#b0b7d0" opacity="0.5"/>
<path d="M852.2,380.0 L853.6,382.6 L851.5,384.3 L849.1,384.5 L846.6,386.5 L844.1,385.0 L841.9,383.0 L840.6,380.0 L844.4,378.2 L845.5,376.8 L846.7,374.0 L849.6,373.2 L852.7,374.2 L854.2,377.1Z" fill="#b0b7d0" opacity="0.95"/>
<path d="M851.2,380.0 L851.2,381.5 L849.9,382.3 L848.4,381.5 L847.5,382.5 L846.1,382.5 L844.7,381.6 L845.0,380.0 L846.3,379.1 L846.6,378.1 L847.4,376.9 L848.7,377.6 L850.0,377.6 L851.3,378.5Z" fill="#b0b7d0" opacity="0.8"/>
<circle cx="841.2" cy="380.8" r="1.1" fill="#b0b7d0" opacity="0.5"/>
<circle cx="838.1" cy="385.7" r="1.3" fill="#b0b7d0" opacity="0.5"/>
<circle cx="853.8" cy="367.1" r="0.6" fill="#b0b7d0" opacity="0.5"/>
<circle cx="842.6" cy="389.5" r="0.5" fill="#b0b7d0" opacity="0.5"/>
<circle cx="856.9" cy="379.3" r="0.7" fill="#b0b7d0" opacity="0.5"/>
<circle cx="844.8" cy="388.0" r="1.2" fill="#b0b7d0" opacity="0.5"/>
<circle cx="837.8" cy="376.3" r="0.8" fill="#b0b7d0" opacity="0.5"/>
<circle cx="856.7" cy="382.9" r="1.2" fill="#b0b7d0" opacity="0.5"/>
<circle cx="852.5" cy="366.8" r="0.7" fill="#b0b7d0" opacity="0.5"/>
<circle cx="850.2" cy="386.6" r="0.9" fill="#b0b7d0" opacity="0.5"/>
<circle cx="840.7" cy="387.5" r="0.9" fill="#b0b7d0" opacity="0.5"/>
<circle cx="839.8" cy="375.2" r="1.1" fill="#b0b7d0" opacity="0.5"/>
<path d="M890.4,392.9 L890.8,395.5 L889.4,398.1 L886.2,396.7 L884.4,396.7 L882.1,396.9 L880.4,395.3 L878.0,392.9 L880.2,390.4 L882.4,389.2 L884.0,387.2 L886.5,387.7 L888.1,389.5 L891.0,390.2Z" fill="#b0b7d0" opacity="0.95"/>
<path d="M888.0,392.9 L887.9,394.2 L886.5,394.4 L885.9,395.6 L884.8,395.0 L883.5,395.1 L882.2,394.4 L882.0,392.9 L883.3,392.0 L883.8,391.0 L884.8,390.8 L886.0,389.8 L887.5,390.1 L887.5,391.8Z" fill="#b0b7d0" opacity="0.8"/>
<circle cx="888.4" cy="405.2" r="0.6" fill="#b0b7d0" opacity="0.5"/>
<circle cx="891.9" cy="389.1" r="0.6" fill="#b0b7d0" opacity="0.5"/>
<circle cx="895.5" cy="399.8" r="1.3" fill="#b0b7d0" opacity="0.5"/>
<circle cx="875.6" cy="398.7" r="0.7" fill="#b0b7d0" opacity="0.5"/>
<circle cx="894.8" cy="386.5" r="0.6" fill="#b0b7d0" opacity="0.5"/>
<circle cx="896.2" cy="396.9" r="0.5" fill="#b0b7d0" opacity="0.5"/>
<circle cx="889.6" cy="385.8" r="0.7" fill="#b0b7d0" opacity="0.5"/>
<circle cx="877.9" cy="388.7" r="0.9" fill="#b0b7d0" opacity="0.5"/>
<circle cx="892.9" cy="403.9" r="0.8" fill="#b0b7d0" opacity="0.5"/>
<circle cx="889.2" cy="386.9" r="1.1" fill="#b0b7d0" opacity="0.5"/>
<circle cx="894.3" cy="391.7" r="0.5" fill="#b0b7d0" opacity="0.5"/>
<path d="M893.7,375.2 L891.9,376.3 L891.5,377.6 L890.5,379.1 L888.9,378.2 L887.3,378.1 L886.1,376.9 L885.3,375.2 L886.3,373.6 L887.5,372.5 L889.0,372.6 L890.5,371.1 L892.3,371.8 L893.1,373.5Z" fill="#b0b7d0" opacity="0.95"/>
<circle cx="885.0" cy="381.7" r="0.9" fill="#b0b7d0" opacity="0.5"/>
<circle cx="893.6" cy="373.3" r="0.9" fill="#b0b7d0" opacity="0.5"/>
<circle cx="894.3" cy="369.8" r="0.9" fill="#b0b7d0" opacity="0.5"/>
<circle cx="893.6" cy="377.7" r="0.7" fill="#b0b7d0" opacity="0.5"/>
<circle cx="896.3" cy="369.9" r="0.7" fill="#b0b7d0" opacity="0.5"/>
<circle cx="893.3" cy="373.3" r="1.0" fill="#b0b7d0" opacity="0.5"/>
<circle cx="895.3" cy="374.0" r="1.3" fill="#b0b7d0" opacity="0.5"/>
<path d="M919.6,365.9 L918.0,367.9 L917.7,370.7 L915.1,371.3 L912.5,372.1 L909.4,371.5 L908.7,368.4 L909.6,365.9 L910.2,364.1 L910.6,361.8 L912.3,358.9 L915.7,358.1 L917.4,361.5 L917.8,364.0Z" fill="#b0b7d0" opacity="0.95"/>
<path d="M916.4,365.9 L916.5,367.2 L915.5,367.9 L914.3,367.8 L913.2,369.2 L911.7,368.7 L911.2,367.2 L910.6,365.9 L912.1,365.0 L912.3,363.9 L913.1,362.3 L914.6,362.8 L915.6,363.8 L916.6,364.6Z" fill="#b0b7d0" opacity="0.8"/>
<circle cx="919.3" cy="360.7" r="0.9" fill="#b0b7d0" opacity="0.5"/>
<circle cx="906.6" cy="364.2" r="0.9" fill="#b0b7d0" opacity="0.5"/>
<circle cx="919.6" cy="375.4" r="0.9" fill="#b0b7d0" opacity="0.5"/>
<circle cx="908.4" cy="372.0" r="0.8" fill="#b0b7d0" opacity="0.5"/>
<circle cx="916.1" cy="373.1" r="0.7" fill="#b0b7d0" opacity="0.5"/>
<circle cx="921.4" cy="358.1" r="1.2" fill="#b0b7d0" opacity="0.5"/>
<circle cx="928.5" cy="367.3" r="0.9" fill="#b0b7d0" opacity="0.5"/>
<circle cx="916.8" cy="354.8" r="1.1" fill="#b0b7d0" opacity="0.5"/>
<circle cx="915.6" cy="378.8" r="0.6" fill="#b0b7d0" opacity="0.5"/>
<circle cx="913.3" cy="372.6" r="0.8" fill="#b0b7d0" opacity="0.5"/>
<circle cx="905.0" cy="364.9" r="1.2" fill="#b0b7d0" opacity="0.5"/>
<circle cx="923.8" cy="371.7" r="0.7" fill="#b0b7d0" opacity="0.5"/>
<path d="M938.4,322.2 L939.1,324.0 L938.1,326.0 L934.9,326.2 L931.7,324.8 L928.7,323.2 L927.3,320.9 L926.3,318.4 L930.4,318.2 L932.0,317.2 L934.4,316.0 L938.2,316.2 L940.6,318.7 L942.8,321.1Z" fill="#b0b7d0" opacity="0.95"/>
<path d="M938.5,322.2 L937.3,322.8 L935.7,322.6 L934.7,323.1 L933.1,323.0 L932.0,322.0 L930.9,321.0 L931.5,320.1 L932.0,319.2 L932.7,318.3 L934.5,319.0 L935.9,319.2 L937.7,319.8 L938.6,321.0Z" fill="#b0b7d0" opacity="0.8"/>
<circle cx="937.8" cy="310.1" r="1.1" fill="#b0b7d0" opacity="0.5"/>
<circle cx="928.0" cy="316.3" r="1.0" fill="#b0b7d0" opacity="0.5"/>
<circle cx="943.9" cy="312.5" r="0.6" fill="#b0b7d0" opacity="0.5"/>
<circle cx="932.2" cy="313.8" r="0.6" fill="#b0b7d0" opacity="0.5"/>
<circle cx="949.4" cy="318.9" r="1.1" fill="#b0b7d0" opacity="0.5"/>
<circle cx="945.8" cy="328.9" r="1.2" fill="#b0b7d0" opacity="0.5"/>
<circle cx="947.8" cy="315.4" r="1.2" fill="#b0b7d0" opacity="0.5"/>
<circle cx="939.2" cy="312.5" r="0.8" fill="#b0b7d0" opacity="0.5"/>
<circle cx="942.0" cy="311.9" r="1.2" fill="#b0b7d0" opacity="0.5"/>
<circle cx="929.1" cy="331.9" r="0.9" fill="#b0b7d0" opacity="0.5"/>
<circle cx="943.2" cy="319.1" r="1.3" fill="#b0b7d0" opacity="0.5"/>
<circle cx="937.1" cy="314.5" r="1.2" fill="#b0b7d0" opacity="0.5"/>
<circle cx="935.7" cy="327.2" r="0.9" fill="#b0b7d0" opacity="0.5"/>
<circle cx="935.7" cy="329.2" r="1.2" fill="#b0b7d0" opacity="0.5"/>
<circle cx="928.4" cy="312.1" r="0.8" fill="#b0b7d0" opacity="0.5"/>
<path d="M942.6,330.5 L943.3,331.9 L942.7,333.5 L940.7,333.6 L939.0,334.0 L937.6,333.0 L937.4,331.6 L936.1,330.5 L936.7,329.2 L937.7,328.1 L939.0,327.2 L940.8,326.9 L942.0,328.2 L942.5,329.4Z" fill="#b0b7d0" opacity="0.95"/>
<circle cx="942.3" cy="325.5" r="1.0" fill="#b0b7d0" opacity="0.5"/>
<circle cx="934.3" cy="331.8" r="0.7" fill="#b0b7d0" opacity="0.5"/>
<circle cx="934.7" cy="336.4" r="1.0" fill="#b0b7d0" opacity="0.5"/>
<circle cx="938.7" cy="334.2" r="0.7" fill="#b0b7d0" opacity="0.5"/>
<circle cx="938.0" cy="325.2" r="1.0" fill="#b0b7d0" opacity="0.5"/>
<circle cx="941.5" cy="326.7" r="1.0" fill="#b0b7d0" opacity="0.5"/>
<circle cx="948.0" cy="332.4" r="0.6" fill="#b0b7d0" opacity="0.5"/>
<path d="M946.7,337.7 L946.5,338.9 L945.6,339.6 L944.6,339.7 L943.8,339.0 L942.6,339.6 L941.3,339.0 L941.6,337.7 L941.6,336.5 L943.1,336.4 L943.6,335.6 L944.6,335.6 L945.3,336.1 L945.9,336.9Z" fill="#b0b7d0" opacity="0.95"/>
<circle cx="946.7" cy="342.8" r="0.9" fill="#b0b7d0" opacity="0.5"/>
<circle cx="945.3" cy="334.6" r="0.8" fill="#b0b7d0" opacity="0.5"/>
<circle cx="947.6" cy="340.3" r="1.2" fill="#b0b7d0" opacity="0.5"/>
<circle cx="940.4" cy="337.4" r="1.2" fill="#b0b7d0" opacity="0.5"/>
<path d="M960.1,326.9 L960.2,327.9 L959.9,329.1 L958.6,329.8 L957.2,329.2 L956.6,328.2 L955.7,327.7 L955.2,326.9 L955.1,325.8 L955.6,324.6 L957.2,324.8 L958.4,324.7 L959.9,324.7 L959.3,326.3Z" fill="#b0b7d0" opacity="0.95"/>
<circle cx="960.7" cy="322.8" r="0.9" fill="#b0b7d0" opacity="0.5"/>
<circle cx="952.1" cy="328.5" r="1.2" fill="#b0b7d0" opacity="0.5"/>
<circle cx="957.0" cy="321.9" r="0.5" fill="#b0b7d0" opacity="0.5"/>
<circle cx="956.2" cy="329.5" r="1.3" fill="#b0b7d0" opacity="0.5"/>
<circle cx="960.6" cy="325.0" r="1.0" fill="#b0b7d0" opacity="0.5"/>
<path d="M899.7,321.2 L898.7,322.4 L897.8,323.4 L896.6,324.2 L895.1,324.0 L892.8,324.5 L892.1,322.7 L892.4,321.2 L893.0,320.0 L893.9,319.1 L894.9,317.7 L896.8,317.3 L898.3,318.4 L899.2,319.8Z" fill="#b0b7d0" opacity="0.95"/>
<circle cx="893.8" cy="316.8" r="0.6" fill="#b0b7d0" opacity="0.5"/>
<circle cx="888.3" cy="317.9" r="1.1" fill="#b0b7d0" opacity="0.5"/>
<circle cx="893.1" cy="324.6" r="0.9" fill="#b0b7d0" opacity="0.5"/>
<circle cx="899.3" cy="318.2" r="1.1" fill="#b0b7d0" opacity="0.5"/>
<circle cx="898.5" cy="325.5" r="0.5" fill="#b0b7d0" opacity="0.5"/>
<circle cx="894.0" cy="326.2" r="1.3" fill="#b0b7d0" opacity="0.5"/>
<circle cx="900.6" cy="320.2" r="0.7" fill="#b0b7d0" opacity="0.5"/>
<path d="M981.5,342.6 L979.8,344.8 L978.5,347.0 L975.9,348.2 L973.2,347.3 L969.8,347.5 L969.8,344.5 L970.3,342.6 L967.4,339.7 L969.6,337.4 L972.6,336.0 L975.9,336.9 L977.3,339.5 L978.6,340.9Z" fill="#b0b7d0" opacity="0.95"/>
<path d="M977.7,342.6 L977.5,343.9 L977.0,345.4 L975.0,345.0 L973.9,344.3 L972.5,344.7 L971.6,343.8 L970.7,342.6 L970.7,341.1 L972.8,340.9 L973.7,340.1 L975.0,340.4 L976.3,340.6 L977.4,341.4Z" fill="#b0b7d0" opacity="0.8"/>
<circle cx="964.8" cy="353.4" r="0.7" fill="#b0b7d0" opacity="0.5"/>
<circle cx="974.7" cy="349.1" r="0.9" fill="#b0b7d0" opacity="0.5"/>
<circle cx="974.7" cy="331.2" r="0.8" fill="#b0b7d0" opacity="0.5"/>
<circle cx="977.2" cy="336.2" r="0.7" fill="#b0b7d0" opacity="0.5"/>
<circle cx="964.5" cy="331.7" r="1.0" fill="#b0b7d0" opacity="0.5"/>
<circle cx="969.3" cy="331.2" r="0.8" fill="#b0b7d0" opacity="0.5"/>
<circle cx="987.4" cy="338.2" r="0.8" fill="#b0b7d0" opacity="0.5"/>
<circle cx="963.1" cy="350.4" r="0.8" fill="#b0b7d0" opacity="0.5"/>
<circle cx="980.4" cy="354.6" r="0.9" fill="#b0b7d0" opacity="0.5"/>
<circle cx="961.3" cy="341.1" r="1.2" fill="#b0b7d0" opacity="0.5"/>
<circle cx="981.2" cy="349.1" r="0.6" fill="#b0b7d0" opacity="0.5"/>
<circle cx="964.4" cy="347.8" r="1.2" fill="#b0b7d0" opacity="0.5"/>
<circle cx="968.3" cy="333.4" r="0.8" fill="#b0b7d0" opacity="0.5"/>
<path d="M989.3,270.9 L988.9,272.9 L986.6,273.1 L985.9,275.0 L983.8,277.1 L982.1,275.1 L981.0,273.1 L981.1,270.9 L982.2,269.4 L982.3,267.0 L984.1,265.8 L986.0,266.3 L987.7,267.2 L989.4,268.6Z" fill="#b0b7d0" opacity="0.95"/>
<circle cx="982.7" cy="262.2" r="0.7" fill="#b0b7d0" opacity="0.5"/>
<circle cx="992.5" cy="274.6" r="1.2" fill="#b0b7d0" opacity="0.5"/>
<circle cx="984.3" cy="277.2" r="0.7" fill="#b0b7d0" opacity="0.5"/>
<circle cx="992.2" cy="276.2" r="1.3" fill="#b0b7d0" opacity="0.5"/>
<circle cx="987.2" cy="263.9" r="1.1" fill="#b0b7d0" opacity="0.5"/>
<circle cx="993.7" cy="275.5" r="0.8" fill="#b0b7d0" opacity="0.5"/>
<circle cx="993.4" cy="271.1" r="0.6" fill="#b0b7d0" opacity="0.5"/>
<circle cx="984.3" cy="276.2" r="0.9" fill="#b0b7d0" opacity="0.5"/>
<path d="M1012.0,259.1 L1011.2,260.0 L1010.4,260.8 L1009.5,262.1 L1007.8,261.7 L1006.5,261.1 L1004.5,260.6 L1005.2,259.1 L1005.9,258.1 L1006.9,257.5 L1007.8,256.5 L1009.6,255.7 L1011.7,256.2 L1011.2,258.2Z" fill="#b0b7d0" opacity="0.95"/>
<circle cx="1009.3" cy="256.1" r="0.9" fill="#b0b7d0" opacity="0.5"/>
<circle cx="1004.8" cy="260.6" r="1.0" fill="#b0b7d0" opacity="0.5"/>
<circle cx="1007.4" cy="253.8" r="0.8" fill="#b0b7d0" opacity="0.5"/>
<circle cx="1001.5" cy="258.7" r="0.7" fill="#b0b7d0" opacity="0.5"/>
<circle cx="1014.9" cy="253.9" r="1.1" fill="#b0b7d0" opacity="0.5"/>
<circle cx="1014.2" cy="258.1" r="1.3" fill="#b0b7d0" opacity="0.5"/>
<circle cx="1014.5" cy="261.2" r="0.6" fill="#b0b7d0" opacity="0.5"/>
<path d="M1040.1,255.5 L1039.9,256.3 L1039.4,257.0 L1038.4,257.4 L1037.3,257.7 L1036.3,257.2 L1035.2,256.6 L1034.5,255.5 L1035.7,254.6 L1036.9,254.4 L1037.3,253.5 L1038.4,253.5 L1039.9,253.4 L1041.0,254.2Z" fill="#b0b7d0" opacity="0.95"/>
<circle cx="1035.8" cy="250.0" r="1.1" fill="#b0b7d0" opacity="0.5"/>
<circle cx="1044.2" cy="253.7" r="1.1" fill="#b0b7d0" opacity="0.5"/>
<circle cx="1037.3" cy="252.9" r="0.7" fill="#b0b7d0" opacity="0.5"/>
<circle cx="1044.3" cy="255.9" r="1.1" fill="#b0b7d0" opacity="0.5"/>
<circle cx="1035.1" cy="253.0" r="0.8" fill="#b0b7d0" opacity="0.5"/>
<path d="M1090.1,255.0 L1089.9,256.6 L1088.9,257.6 L1088.0,258.6 L1086.8,258.5 L1086.1,257.1 L1084.9,256.6 L1084.3,255.0 L1084.8,253.3 L1085.7,252.1 L1086.9,252.1 L1087.9,252.3 L1089.5,251.5 L1090.1,253.3Z" fill="#b0b7d0" opacity="0.95"/>
<circle cx="1088.7" cy="248.7" r="1.2" fill="#b0b7d0" opacity="0.5"/>
<circle cx="1089.8" cy="258.3" r="1.0" fill="#b0b7d0" opacity="0.5"/>
<circle cx="1083.6" cy="254.8" r="0.7" fill="#b0b7d0" opacity="0.5"/>
<circle cx="1094.0" cy="256.2" r="1.1" fill="#b0b7d0" opacity="0.5"/>
<circle cx="1093.9" cy="251.9" r="0.8" fill="#b0b7d0" opacity="0.5"/>
<path d="M966.0,297.4 L965.5,297.7 L965.0,297.9 L964.4,298.3 L963.3,298.5 L963.0,297.6 L963.3,297.0 L962.8,296.4 L963.1,295.9 L963.5,295.4 L964.4,295.4 L965.2,295.7 L965.9,296.2 L966.0,296.8Z" fill="#b0b7d0" opacity="0.95"/>
<circle cx="962.8" cy="299.4" r="1.2" fill="#b0b7d0" opacity="0.5"/>
<circle cx="960.7" cy="297.2" r="0.7" fill="#b0b7d0" opacity="0.5"/>
<circle cx="964.6" cy="300.2" r="0.8" fill="#b0b7d0" opacity="0.5"/>
<path d="M1042.8,334.3 L1042.6,335.3 L1041.8,336.2 L1040.7,337.0 L1039.5,336.3 L1038.9,335.5 L1037.9,335.1 L1036.9,334.3 L1037.2,333.2 L1038.0,332.2 L1039.6,332.7 L1040.5,332.4 L1041.8,332.4 L1042.1,333.5Z" fill="#b0b7d0" opacity="0.95"/>
<circle cx="1036.6" cy="330.4" r="0.9" fill="#b0b7d0" opacity="0.5"/>
<circle cx="1044.2" cy="338.6" r="1.0" fill="#b0b7d0" opacity="0.5"/>
<circle cx="1043.6" cy="335.6" r="1.3" fill="#b0b7d0" opacity="0.5"/>
<circle cx="1040.6" cy="338.1" r="1.1" fill="#b0b7d0" opacity="0.5"/>
<circle cx="1042.5" cy="330.2" r="1.1" fill="#b0b7d0" opacity="0.5"/>
<path d="M1070.9,319.8 L1070.4,320.9 L1068.6,320.8 L1067.4,320.7 L1066.0,320.6 L1065.6,319.5 L1064.1,318.8 L1064.1,317.7 L1065.0,316.9 L1065.5,315.6 L1067.4,316.3 L1068.4,317.2 L1069.1,317.9 L1069.8,318.6Z" fill="#b0b7d0" opacity="0.95"/>
<circle cx="1073.8" cy="322.2" r="1.1" fill="#b0b7d0" opacity="0.5"/>
<circle cx="1070.2" cy="323.5" r="0.6" fill="#b0b7d0" opacity="0.5"/>
<circle cx="1063.4" cy="318.5" r="1.1" fill="#b0b7d0" opacity="0.5"/>
<circle cx="1073.4" cy="315.1" r="0.5" fill="#b0b7d0" opacity="0.5"/>
<circle cx="1071.0" cy="315.2" r="1.2" fill="#b0b7d0" opacity="0.5"/>
<circle cx="1061.0" cy="318.6" r="1.0" fill="#b0b7d0" opacity="0.5"/>
<path d="M1059.6,300.9 L1059.1,301.6 L1058.1,301.5 L1057.0,301.3 L1055.8,300.8 L1055.6,299.7 L1054.7,298.7 L1055.7,298.2 L1056.3,298.0 L1056.9,297.2 L1058.1,297.2 L1059.1,298.3 L1059.6,299.3 L1058.9,299.9Z" fill="#b0b7d0" opacity="0.95"/>
<circle cx="1062.6" cy="299.0" r="0.8" fill="#b0b7d0" opacity="0.5"/>
<circle cx="1062.4" cy="301.7" r="1.2" fill="#b0b7d0" opacity="0.5"/>
<circle cx="1059.5" cy="297.7" r="0.8" fill="#b0b7d0" opacity="0.5"/>
<circle cx="1055.5" cy="303.3" r="0.6" fill="#b0b7d0" opacity="0.5"/>
<circle cx="1052.1" cy="296.6" r="1.1" fill="#b0b7d0" opacity="0.5"/>
<path d="M1056.0,337.6 L1055.9,338.6 L1054.8,339.1 L1053.8,339.4 L1052.9,339.0 L1052.0,338.9 L1051.1,338.5 L1051.1,337.6 L1051.1,336.8 L1051.4,335.7 L1052.7,335.5 L1053.8,335.7 L1054.5,336.4 L1054.4,337.2Z" fill="#b0b7d0" opacity="0.95"/>
<circle cx="1051.0" cy="333.7" r="0.8" fill="#b0b7d0" opacity="0.5"/>
<circle cx="1055.5" cy="335.9" r="1.3" fill="#b0b7d0" opacity="0.5"/>
<circle cx="1048.8" cy="339.0" r="0.7" fill="#b0b7d0" opacity="0.5"/>
<circle cx="1052.2" cy="340.4" r="0.8" fill="#b0b7d0" opacity="0.5"/>
<path d="M1061.3,328.3 L1061.3,329.3 L1060.3,329.7 L1059.7,330.3 L1058.7,330.3 L1058.3,329.4 L1057.8,329.0 L1057.4,328.3 L1057.3,327.4 L1057.9,326.6 L1058.9,326.9 L1059.5,326.9 L1060.4,326.8 L1060.7,327.6Z" fill="#b0b7d0" opacity="0.95"/>
<circle cx="1059.7" cy="324.3" r="1.2" fill="#b0b7d0" opacity="0.5"/>
<circle cx="1060.1" cy="325.0" r="0.6" fill="#b0b7d0" opacity="0.5"/>
<circle cx="1060.5" cy="325.8" r="1.0" fill="#b0b7d0" opacity="0.5"/>
<path d="M867.6,421.8 L867.0,423.7 L865.1,424.5 L863.8,426.1 L861.4,427.1 L860.0,424.9 L857.1,424.2 L856.6,421.8 L857.6,419.6 L860.0,418.8 L862.0,419.1 L863.5,418.6 L867.0,416.9 L867.5,419.7Z" fill="#b0b7d0" opacity="0.95"/>
<circle cx="862.0" cy="431.6" r="1.3" fill="#b0b7d0" opacity="0.5"/>
<circle cx="866.6" cy="428.9" r="1.0" fill="#b0b7d0" opacity="0.5"/>
<circle cx="858.7" cy="412.5" r="1.1" fill="#b0b7d0" opacity="0.5"/>
<circle cx="862.8" cy="428.5" r="0.5" fill="#b0b7d0" opacity="0.5"/>
<circle cx="860.2" cy="415.9" r="0.7" fill="#b0b7d0" opacity="0.5"/>
<circle cx="872.7" cy="419.7" r="1.0" fill="#b0b7d0" opacity="0.5"/>
<circle cx="857.2" cy="414.3" r="1.1" fill="#b0b7d0" opacity="0.5"/>
<circle cx="860.7" cy="426.9" r="0.6" fill="#b0b7d0" opacity="0.5"/>
<circle cx="870.8" cy="422.5" r="0.6" fill="#b0b7d0" opacity="0.5"/>
<circle cx="869.6" cy="427.2" r="1.3" fill="#b0b7d0" opacity="0.5"/>
<path d="M891.4,423.8 L891.3,424.8 L890.7,425.5 L889.9,426.3 L888.4,427.5 L887.4,426.2 L887.1,424.9 L887.4,423.8 L887.2,422.8 L887.6,421.6 L888.5,420.2 L889.8,421.6 L891.2,421.4 L891.7,422.7Z" fill="#b0b7d0" opacity="0.95"/>
<circle cx="893.1" cy="418.9" r="1.0" fill="#b0b7d0" opacity="0.5"/>
<circle cx="888.8" cy="426.8" r="0.7" fill="#b0b7d0" opacity="0.5"/>
<circle cx="892.3" cy="421.8" r="1.0" fill="#b0b7d0" opacity="0.5"/>
<circle cx="884.5" cy="420.9" r="0.6" fill="#b0b7d0" opacity="0.5"/>
<circle cx="891.4" cy="426.4" r="1.3" fill="#b0b7d0" opacity="0.5"/>
<path d="M850.1,481.6 L848.8,483.1 L848.2,485.0 L846.5,486.3 L844.3,485.6 L841.3,486.2 L840.5,483.7 L838.1,481.6 L840.4,479.4 L842.7,478.6 L844.4,478.1 L846.4,477.2 L849.2,477.2 L851.2,479.0Z" fill="#b0b7d0" opacity="0.95"/>
<path d="M848.3,481.6 L848.0,482.8 L847.0,483.5 L845.8,483.7 L845.0,483.0 L843.8,483.3 L842.4,482.9 L842.0,481.6 L842.4,480.3 L843.7,479.8 L844.9,480.2 L846.0,479.0 L847.1,479.5 L847.6,480.6Z" fill="#b0b7d0" opacity="0.8"/>
<circle cx="854.6" cy="483.2" r="0.6" fill="#b0b7d0" opacity="0.5"/>
<circle cx="834.0" cy="484.3" r="0.6" fill="#b0b7d0" opacity="0.5"/>
<circle cx="852.6" cy="487.7" r="0.6" fill="#b0b7d0" opacity="0.5"/>
<circle cx="846.5" cy="490.2" r="0.6" fill="#b0b7d0" opacity="0.5"/>
<circle cx="853.4" cy="485.0" r="0.9" fill="#b0b7d0" opacity="0.5"/>
<circle cx="854.9" cy="477.9" r="0.6" fill="#b0b7d0" opacity="0.5"/>
<circle cx="847.4" cy="492.4" r="1.0" fill="#b0b7d0" opacity="0.5"/>
<circle cx="854.7" cy="472.4" r="1.2" fill="#b0b7d0" opacity="0.5"/>
<circle cx="855.8" cy="489.5" r="0.9" fill="#b0b7d0" opacity="0.5"/>
<circle cx="845.8" cy="488.3" r="1.2" fill="#b0b7d0" opacity="0.5"/>
<circle cx="846.9" cy="487.5" r="0.7" fill="#b0b7d0" opacity="0.5"/>
<path d="M779.9,516.3 L780.8,518.3 L779.6,520.1 L777.4,520.8 L774.9,521.8 L773.9,519.1 L774.0,517.3 L770.7,516.3 L771.3,514.1 L772.8,512.3 L775.2,511.8 L777.2,512.6 L779.1,513.1 L780.3,514.6Z" fill="#b0b7d0" opacity="0.95"/>
<circle cx="765.6" cy="518.2" r="0.9" fill="#b0b7d0" opacity="0.5"/>
<circle cx="777.2" cy="524.6" r="1.0" fill="#b0b7d0" opacity="0.5"/>
<circle cx="772.5" cy="511.5" r="1.1" fill="#b0b7d0" opacity="0.5"/>
<circle cx="786.6" cy="512.9" r="1.2" fill="#b0b7d0" opacity="0.5"/>
<circle cx="768.1" cy="524.5" r="0.6" fill="#b0b7d0" opacity="0.5"/>
<circle cx="777.7" cy="525.2" r="1.2" fill="#b0b7d0" opacity="0.5"/>
<circle cx="782.4" cy="519.5" r="0.5" fill="#b0b7d0" opacity="0.5"/>
<circle cx="770.3" cy="518.5" r="0.7" fill="#b0b7d0" opacity="0.5"/>
<circle cx="776.2" cy="507.4" r="1.3" fill="#b0b7d0" opacity="0.5"/>
<circle cx="767.7" cy="521.8" r="0.5" fill="#b0b7d0" opacity="0.5"/>
<path d="M913.2,480.5 L912.6,482.0 L911.0,482.8 L908.9,482.9 L907.2,481.9 L905.9,480.8 L905.7,479.4 L906.2,478.3 L905.0,476.1 L907.0,475.6 L909.1,475.5 L910.9,476.3 L910.8,478.3 L912.5,479.0Z" fill="#b0b7d0" opacity="0.95"/>
<circle cx="904.3" cy="484.7" r="0.5" fill="#b0b7d0" opacity="0.5"/>
<circle cx="905.2" cy="482.2" r="1.2" fill="#b0b7d0" opacity="0.5"/>
<circle cx="917.1" cy="479.2" r="0.7" fill="#b0b7d0" opacity="0.5"/>
<circle cx="901.5" cy="480.9" r="1.1" fill="#b0b7d0" opacity="0.5"/>
<circle cx="912.8" cy="482.7" r="0.6" fill="#b0b7d0" opacity="0.5"/>
<circle cx="914.2" cy="478.2" r="0.6" fill="#b0b7d0" opacity="0.5"/>
<circle cx="901.1" cy="478.3" r="1.2" fill="#b0b7d0" opacity="0.5"/>
<circle cx="914.5" cy="480.8" r="0.6" fill="#b0b7d0" opacity="0.5"/>
<path d="M886.6,508.1 L885.0,508.9 L885.0,510.1 L884.0,511.3 L882.3,511.0 L880.4,511.0 L880.6,509.1 L880.9,508.1 L879.8,506.7 L881.6,506.5 L882.5,506.0 L883.8,505.3 L885.1,505.9 L886.9,506.5Z" fill="#b0b7d0" opacity="0.95"/>
<circle cx="886.8" cy="504.7" r="0.9" fill="#b0b7d0" opacity="0.5"/>
<circle cx="887.3" cy="503.0" r="1.0" fill="#b0b7d0" opacity="0.5"/>
<circle cx="879.1" cy="507.8" r="0.7" fill="#b0b7d0" opacity="0.5"/>
<circle cx="879.7" cy="503.6" r="1.1" fill="#b0b7d0" opacity="0.5"/>
<circle cx="889.5" cy="504.0" r="0.7" fill="#b0b7d0" opacity="0.5"/>
<circle cx="889.9" cy="511.1" r="1.0" fill="#b0b7d0" opacity="0.5"/>
<path d="M942.9,460.5 L942.2,461.0 L941.4,461.6 L940.2,461.7 L939.5,460.5 L938.3,460.3 L937.2,459.6 L937.1,458.7 L937.3,457.6 L938.8,457.7 L940.1,458.6 L941.1,458.2 L942.2,458.7 L942.8,459.6Z" fill="#b0b7d0" opacity="0.95"/>
<circle cx="937.9" cy="457.6" r="1.3" fill="#b0b7d0" opacity="0.5"/>
<circle cx="941.0" cy="457.1" r="0.8" fill="#b0b7d0" opacity="0.5"/>
<circle cx="943.8" cy="458.9" r="0.8" fill="#b0b7d0" opacity="0.5"/>
<circle cx="946.5" cy="458.5" r="0.7" fill="#b0b7d0" opacity="0.5"/>
<circle cx="939.7" cy="456.7" r="1.0" fill="#b0b7d0" opacity="0.5"/>
<path d="M909.9,540.3 L909.1,542.7 L907.3,544.5 L905.5,546.7 L902.6,546.6 L899.6,545.8 L898.9,542.8 L899.9,540.3 L898.5,537.6 L899.4,534.6 L902.4,533.3 L905.8,532.3 L907.5,536.0 L907.7,538.5Z" fill="#b0b7d0" opacity="0.95"/>
<path d="M906.7,540.3 L906.8,541.6 L906.1,542.9 L904.5,542.7 L903.2,543.8 L901.5,543.5 L900.6,541.9 L900.4,540.3 L901.5,539.1 L902.8,538.7 L903.2,536.6 L904.7,537.2 L906.0,537.8 L907.5,538.6Z" fill="#b0b7d0" opacity="0.8"/>
<circle cx="891.9" cy="531.4" r="1.2" fill="#b0b7d0" opacity="0.5"/>
<circle cx="896.5" cy="535.7" r="0.5" fill="#b0b7d0" opacity="0.5"/>
<circle cx="890.5" cy="537.3" r="0.7" fill="#b0b7d0" opacity="0.5"/>
<circle cx="910.3" cy="543.3" r="0.6" fill="#b0b7d0" opacity="0.5"/>
<circle cx="901.7" cy="533.7" r="0.7" fill="#b0b7d0" opacity="0.5"/>
<circle cx="902.7" cy="553.9" r="1.3" fill="#b0b7d0" opacity="0.5"/>
<circle cx="912.0" cy="541.3" r="1.2" fill="#b0b7d0" opacity="0.5"/>
<circle cx="912.2" cy="538.7" r="0.8" fill="#b0b7d0" opacity="0.5"/>
<circle cx="894.1" cy="538.9" r="0.8" fill="#b0b7d0" opacity="0.5"/>
<circle cx="894.7" cy="541.6" r="0.5" fill="#b0b7d0" opacity="0.5"/>
<circle cx="911.3" cy="544.6" r="0.6" fill="#b0b7d0" opacity="0.5"/>
<circle cx="894.4" cy="530.8" r="0.7" fill="#b0b7d0" opacity="0.5"/>
<circle cx="907.5" cy="526.9" r="0.8" fill="#b0b7d0" opacity="0.5"/>
<path d="M857.1,556.3 L855.4,557.6 L853.3,557.2 L852.1,558.7 L849.8,559.3 L847.8,558.0 L847.4,555.6 L848.0,553.4 L849.8,552.4 L851.0,551.1 L852.8,550.1 L854.3,551.4 L856.9,551.7 L857.6,554.0Z" fill="#b0b7d0" opacity="0.95"/>
<circle cx="854.1" cy="548.5" r="0.6" fill="#b0b7d0" opacity="0.5"/>
<circle cx="847.8" cy="547.3" r="0.6" fill="#b0b7d0" opacity="0.5"/>
<circle cx="855.5" cy="563.1" r="0.6" fill="#b0b7d0" opacity="0.5"/>
<circle cx="848.0" cy="549.9" r="0.7" fill="#b0b7d0" opacity="0.5"/>
<circle cx="844.8" cy="558.8" r="1.1" fill="#b0b7d0" opacity="0.5"/>
<circle cx="862.1" cy="556.7" r="0.7" fill="#b0b7d0" opacity="0.5"/>
<circle cx="850.1" cy="563.8" r="1.1" fill="#b0b7d0" opacity="0.5"/>
<circle cx="844.1" cy="547.5" r="0.7" fill="#b0b7d0" opacity="0.5"/>
<circle cx="848.9" cy="563.5" r="0.7" fill="#b0b7d0" opacity="0.5"/>
<path d="M856.4,520.7 L856.3,522.3 L854.8,523.0 L853.5,522.8 L852.4,523.2 L851.5,522.6 L850.5,521.9 L850.3,520.7 L850.4,519.4 L851.3,518.5 L852.4,518.2 L853.4,518.9 L854.2,519.2 L855.9,519.3Z" fill="#b0b7d0" opacity="0.95"/>
<circle cx="856.5" cy="517.3" r="0.7" fill="#b0b7d0" opacity="0.5"/>
<circle cx="856.7" cy="524.1" r="0.9" fill="#b0b7d0" opacity="0.5"/>
<circle cx="849.2" cy="525.2" r="0.9" fill="#b0b7d0" opacity="0.5"/>
<circle cx="853.5" cy="517.3" r="0.6" fill="#b0b7d0" opacity="0.5"/>
<circle cx="849.3" cy="523.9" r="0.7" fill="#b0b7d0" opacity="0.5"/>
<path d="M869.8,584.6 L869.1,585.4 L868.7,586.3 L867.9,586.9 L866.8,587.0 L865.4,587.1 L865.1,585.7 L865.9,584.6 L865.8,583.8 L866.0,582.8 L866.8,582.0 L868.0,582.1 L868.5,583.2 L869.6,583.5Z" fill="#b0b7d0" opacity="0.95"/>
<circle cx="869.8" cy="583.0" r="0.9" fill="#b0b7d0" opacity="0.5"/>
<circle cx="864.8" cy="582.2" r="0.6" fill="#b0b7d0" opacity="0.5"/>
<circle cx="867.4" cy="579.5" r="0.8" fill="#b0b7d0" opacity="0.5"/>
<circle cx="870.7" cy="586.6" r="0.6" fill="#b0b7d0" opacity="0.5"/>
<path d="M832.5,634.9 L831.8,636.1 L831.1,637.2 L829.9,637.4 L828.9,636.7 L827.6,637.0 L826.7,636.2 L827.3,634.9 L826.9,633.8 L827.2,632.3 L828.6,631.9 L830.0,632.0 L830.3,633.6 L830.8,634.2Z" fill="#b0b7d0" opacity="0.95"/>
<circle cx="832.7" cy="634.3" r="0.7" fill="#b0b7d0" opacity="0.5"/>
<circle cx="828.9" cy="628.3" r="1.2" fill="#b0b7d0" opacity="0.5"/>
<circle cx="822.6" cy="636.1" r="1.0" fill="#b0b7d0" opacity="0.5"/>
<circle cx="828.1" cy="639.6" r="1.1" fill="#b0b7d0" opacity="0.5"/>
<circle cx="828.9" cy="631.4" r="0.7" fill="#b0b7d0" opacity="0.5"/>
<path d="M778.2,594.6 L778.8,596.0 L777.6,596.8 L776.3,597.0 L775.1,597.7 L774.5,596.3 L773.4,595.8 L773.3,594.6 L773.8,593.7 L773.6,591.9 L775.0,591.3 L776.3,592.5 L777.1,593.0 L777.9,593.6Z" fill="#b0b7d0" opacity="0.95"/>
<circle cx="779.2" cy="590.6" r="0.5" fill="#b0b7d0" opacity="0.5"/>
<circle cx="776.2" cy="589.2" r="1.2" fill="#b0b7d0" opacity="0.5"/>
<circle cx="779.9" cy="593.3" r="1.2" fill="#b0b7d0" opacity="0.5"/>
<circle cx="777.5" cy="590.9" r="0.8" fill="#b0b7d0" opacity="0.5"/>
<circle cx="772.7" cy="597.7" r="0.8" fill="#b0b7d0" opacity="0.5"/>
<path d="M787.7,658.4 L788.0,660.0 L785.4,660.6 L783.4,660.8 L781.6,660.8 L779.8,660.5 L778.1,659.7 L777.2,658.4 L778.1,657.1 L778.7,655.5 L781.4,655.4 L783.1,656.8 L784.9,656.6 L786.2,657.3Z" fill="#b0b7d0" opacity="0.95"/>
<circle cx="785.6" cy="655.4" r="0.9" fill="#b0b7d0" opacity="0.5"/>
<circle cx="777.1" cy="663.8" r="0.8" fill="#b0b7d0" opacity="0.5"/>
<circle cx="788.4" cy="653.1" r="1.2" fill="#b0b7d0" opacity="0.5"/>
<circle cx="789.7" cy="663.6" r="1.1" fill="#b0b7d0" opacity="0.5"/>
<circle cx="778.3" cy="653.4" r="0.5" fill="#b0b7d0" opacity="0.5"/>
<circle cx="788.4" cy="654.6" r="0.9" fill="#b0b7d0" opacity="0.5"/>
<circle cx="777.1" cy="663.6" r="1.1" fill="#b0b7d0" opacity="0.5"/>
<circle cx="786.9" cy="655.6" r="0.8" fill="#b0b7d0" opacity="0.5"/>
<circle cx="782.5" cy="661.8" r="0.8" fill="#b0b7d0" opacity="0.5"/>
<path d="M759.5,646.8 L759.5,648.0 L759.3,649.6 L757.5,649.7 L756.2,648.6 L755.3,648.3 L753.6,648.1 L753.0,646.8 L753.5,645.5 L754.5,644.4 L756.0,644.1 L757.5,644.0 L758.7,644.6 L759.0,645.8Z" fill="#b0b7d0" opacity="0.95"/>
<circle cx="753.8" cy="652.8" r="1.0" fill="#b0b7d0" opacity="0.5"/>
<circle cx="761.6" cy="650.1" r="1.2" fill="#b0b7d0" opacity="0.5"/>
<circle cx="751.0" cy="646.2" r="0.8" fill="#b0b7d0" opacity="0.5"/>
<circle cx="761.5" cy="642.9" r="0.7" fill="#b0b7d0" opacity="0.5"/>
<circle cx="753.3" cy="650.2" r="1.3" fill="#b0b7d0" opacity="0.5"/>
<circle cx="755.3" cy="643.5" r="1.2" fill="#b0b7d0" opacity="0.5"/>
<path d="M694.7,592.9 L694.0,593.8 L693.7,594.9 L692.5,595.5 L691.2,595.0 L690.3,594.5 L690.1,593.6 L689.1,592.9 L688.3,591.5 L689.9,590.9 L691.3,591.1 L692.4,590.6 L693.4,591.2 L694.2,591.9Z" fill="#b0b7d0" opacity="0.95"/>
<circle cx="687.5" cy="596.2" r="1.2" fill="#b0b7d0" opacity="0.5"/>
<circle cx="693.1" cy="596.2" r="0.8" fill="#b0b7d0" opacity="0.5"/>
<circle cx="691.4" cy="589.8" r="0.9" fill="#b0b7d0" opacity="0.5"/>
<circle cx="686.1" cy="592.9" r="0.6" fill="#b0b7d0" opacity="0.5"/>
<circle cx="698.6" cy="591.3" r="0.9" fill="#b0b7d0" opacity="0.5"/>
<path d="M726.2,529.5 L726.8,530.9 L725.4,531.7 L724.1,532.2 L722.4,533.1 L721.6,531.5 L721.2,530.4 L721.0,529.5 L720.9,528.5 L720.7,526.7 L722.4,525.8 L724.1,526.8 L725.5,527.2 L725.7,528.5Z" fill="#b0b7d0" opacity="0.95"/>
<circle cx="727.4" cy="533.8" r="1.1" fill="#b0b7d0" opacity="0.5"/>
<circle cx="717.8" cy="532.0" r="0.7" fill="#b0b7d0" opacity="0.5"/>
<circle cx="722.5" cy="534.1" r="0.9" fill="#b0b7d0" opacity="0.5"/>
<circle cx="719.6" cy="530.2" r="0.5" fill="#b0b7d0" opacity="0.5"/>
<circle cx="719.7" cy="534.5" r="1.1" fill="#b0b7d0" opacity="0.5"/>
<circle cx="723.8" cy="533.5" r="0.9" fill="#b0b7d0" opacity="0.5"/>
<path d="M681.9,490.6 L682.1,492.4 L681.4,493.6 L680.6,494.4 L679.8,494.1 L679.4,492.7 L678.7,492.0 L677.7,490.6 L678.1,488.6 L679.1,487.9 L679.8,487.4 L680.5,488.2 L681.3,487.8 L681.8,489.1Z" fill="#b0b7d0" opacity="0.95"/>
<circle cx="681.3" cy="483.3" r="0.6" fill="#b0b7d0" opacity="0.5"/>
<circle cx="676.6" cy="492.5" r="1.3" fill="#b0b7d0" opacity="0.5"/>
<circle cx="678.1" cy="497.5" r="0.7" fill="#b0b7d0" opacity="0.5"/>
<path d="M813.1,644.7 L811.7,645.2 L810.3,645.5 L808.8,645.4 L807.7,645.4 L805.9,645.6 L804.9,645.2 L804.6,644.7 L804.7,644.2 L805.9,643.9 L807.4,643.7 L809.0,643.6 L809.7,644.1 L812.0,644.1Z" fill="#b0b7d0" opacity="0.95"/>
<circle cx="803.3" cy="645.0" r="1.0" fill="#b0b7d0" opacity="0.5"/>
<circle cx="811.2" cy="645.9" r="0.6" fill="#b0b7d0" opacity="0.5"/>
<circle cx="805.4" cy="642.1" r="0.8" fill="#b0b7d0" opacity="0.5"/>
<circle cx="804.4" cy="646.2" r="0.8" fill="#b0b7d0" opacity="0.5"/>
<circle cx="806.0" cy="643.0" r="0.6" fill="#b0b7d0" opacity="0.5"/>
<circle cx="812.8" cy="643.1" r="0.5" fill="#b0b7d0" opacity="0.5"/>
<circle cx="812.8" cy="642.8" r="0.8" fill="#b0b7d0" opacity="0.5"/>
<path d="M853.3,639.5 L852.8,640.0 L852.8,640.9 L851.6,641.2 L850.4,641.1 L848.7,641.2 L848.6,640.2 L848.7,639.5 L848.7,638.8 L849.6,638.5 L850.3,637.7 L851.9,637.2 L852.7,638.2 L853.6,638.8Z" fill="#b0b7d0" opacity="0.95"/>
<circle cx="846.6" cy="638.7" r="0.6" fill="#b0b7d0" opacity="0.5"/>
<circle cx="855.9" cy="642.1" r="1.1" fill="#b0b7d0" opacity="0.5"/>
<circle cx="855.2" cy="639.9" r="0.9" fill="#b0b7d0" opacity="0.5"/>
<circle cx="846.6" cy="639.6" r="1.2" fill="#b0b7d0" opacity="0.5"/>
<circle cx="848.0" cy="642.0" r="1.2" fill="#b0b7d0" opacity="0.5"/>
<path d="M737.6,654.2 L736.8,654.7 L736.8,655.6 L736.1,656.2 L734.9,656.2 L733.9,655.8 L733.8,654.9 L733.5,654.2 L733.4,653.4 L734.2,652.9 L735.1,652.7 L736.1,652.0 L736.9,652.8 L737.9,653.3Z" fill="#b0b7d0" opacity="0.95"/>
<circle cx="738.6" cy="654.5" r="0.5" fill="#b0b7d0" opacity="0.5"/>
<circle cx="736.5" cy="652.0" r="0.7" fill="#b0b7d0" opacity="0.5"/>
<circle cx="738.6" cy="655.2" r="1.1" fill="#b0b7d0" opacity="0.5"/>
<circle cx="734.5" cy="649.8" r="1.3" fill="#b0b7d0" opacity="0.5"/>
<path d="M991.0,625.2 L989.9,627.4 L987.9,628.4 L986.6,630.9 L984.0,630.9 L981.7,629.7 L979.4,628.0 L979.6,625.2 L981.5,623.4 L982.3,621.5 L984.0,619.6 L986.7,619.3 L989.1,620.4 L989.0,623.4Z" fill="#b0b7d0" opacity="0.95"/>
<path d="M987.2,625.2 L987.7,626.4 L987.4,627.8 L986.0,628.1 L984.7,627.7 L983.8,627.1 L983.5,626.1 L981.6,625.2 L982.4,623.8 L983.7,623.2 L984.7,622.6 L985.8,623.0 L987.0,623.0 L988.0,623.9Z" fill="#b0b7d0" opacity="0.8"/>
<circle cx="983.3" cy="618.1" r="0.6" fill="#b0b7d0" opacity="0.5"/>
<circle cx="990.4" cy="632.4" r="1.1" fill="#b0b7d0" opacity="0.5"/>
<circle cx="994.8" cy="628.9" r="1.0" fill="#b0b7d0" opacity="0.5"/>
<circle cx="994.6" cy="627.2" r="1.1" fill="#b0b7d0" opacity="0.5"/>
<circle cx="976.8" cy="620.8" r="1.2" fill="#b0b7d0" opacity="0.5"/>
<circle cx="978.3" cy="620.1" r="0.8" fill="#b0b7d0" opacity="0.5"/>
<circle cx="997.4" cy="620.7" r="1.2" fill="#b0b7d0" opacity="0.5"/>
<circle cx="978.7" cy="622.6" r="0.6" fill="#b0b7d0" opacity="0.5"/>
<circle cx="976.7" cy="632.9" r="0.5" fill="#b0b7d0" opacity="0.5"/>
<circle cx="989.2" cy="613.5" r="0.9" fill="#b0b7d0" opacity="0.5"/>
<circle cx="997.7" cy="625.6" r="0.8" fill="#b0b7d0" opacity="0.5"/>
<path d="M1004.9,673.5 L1005.8,676.3 L1005.1,679.8 L1002.4,682.2 L998.8,683.0 L996.9,678.9 L996.4,675.9 L994.8,673.5 L994.9,670.3 L996.8,667.9 L999.1,665.3 L1002.3,665.6 L1006.0,665.9 L1007.5,669.8Z" fill="#b0b7d0" opacity="0.95"/>
<path d="M1004.4,673.5 L1003.1,674.8 L1002.8,676.6 L1001.4,677.0 L1000.2,675.8 L998.6,676.5 L997.5,675.3 L996.6,673.5 L997.3,671.6 L999.3,671.5 L1000.2,670.9 L1001.5,669.7 L1003.1,670.0 L1003.8,671.8Z" fill="#b0b7d0" opacity="0.8"/>
<circle cx="986.6" cy="681.5" r="0.6" fill="#b0b7d0" opacity="0.5"/>
<circle cx="1002.0" cy="664.6" r="0.7" fill="#b0b7d0" opacity="0.5"/>
<circle cx="1012.2" cy="684.8" r="0.9" fill="#b0b7d0" opacity="0.5"/>
<circle cx="999.3" cy="662.9" r="1.1" fill="#b0b7d0" opacity="0.5"/>
<circle cx="996.0" cy="666.3" r="0.9" fill="#b0b7d0" opacity="0.5"/>
<circle cx="999.1" cy="663.4" r="1.0" fill="#b0b7d0" opacity="0.5"/>
<circle cx="998.9" cy="685.2" r="1.2" fill="#b0b7d0" opacity="0.5"/>
<circle cx="1016.0" cy="666.9" r="0.8" fill="#b0b7d0" opacity="0.5"/>
<circle cx="987.6" cy="666.3" r="1.1" fill="#b0b7d0" opacity="0.5"/>
<circle cx="986.2" cy="678.2" r="0.8" fill="#b0b7d0" opacity="0.5"/>
<circle cx="1011.5" cy="669.4" r="0.6" fill="#b0b7d0" opacity="0.5"/>
<circle cx="1000.6" cy="664.0" r="1.0" fill="#b0b7d0" opacity="0.5"/>
<circle cx="1016.1" cy="679.6" r="0.9" fill="#b0b7d0" opacity="0.5"/>
<path d="M980.3,692.7 L980.4,695.5 L979.9,699.2 L977.0,698.3 L974.6,701.0 L972.3,698.9 L971.3,695.7 L971.0,692.7 L972.8,690.7 L972.7,687.2 L974.4,683.1 L977.4,684.3 L979.2,687.4 L980.4,689.9Z" fill="#b0b7d0" opacity="0.95"/>
<path d="M979.3,692.7 L978.6,694.3 L977.5,695.3 L976.7,696.7 L975.4,696.0 L974.6,695.1 L973.4,694.4 L974.0,692.7 L973.4,691.0 L973.9,689.1 L975.2,688.3 L976.6,689.4 L977.5,690.2 L977.8,691.5Z" fill="#b0b7d0" opacity="0.8"/>
<circle cx="988.0" cy="689.7" r="1.0" fill="#b0b7d0" opacity="0.5"/>
<circle cx="963.4" cy="689.2" r="0.9" fill="#b0b7d0" opacity="0.5"/>
<circle cx="986.9" cy="703.0" r="1.1" fill="#b0b7d0" opacity="0.5"/>
<circle cx="971.0" cy="678.2" r="0.7" fill="#b0b7d0" opacity="0.5"/>
<circle cx="963.7" cy="696.6" r="1.3" fill="#b0b7d0" opacity="0.5"/>
<circle cx="982.4" cy="688.2" r="1.0" fill="#b0b7d0" opacity="0.5"/>
<circle cx="967.3" cy="688.6" r="0.6" fill="#b0b7d0" opacity="0.5"/>
<circle cx="982.4" cy="702.6" r="0.9" fill="#b0b7d0" opacity="0.5"/>
<circle cx="975.0" cy="704.5" r="0.9" fill="#b0b7d0" opacity="0.5"/>
<circle cx="976.8" cy="678.5" r="0.6" fill="#b0b7d0" opacity="0.5"/>
<circle cx="982.7" cy="684.9" r="1.3" fill="#b0b7d0" opacity="0.5"/>
<path d="M1040.3,732.3 L1039.4,740.8 L1038.2,748.7 L1037.1,746.0 L1036.2,745.6 L1035.3,744.7 L1035.8,737.2 L1035.6,732.0 L1035.9,723.8 L1037.0,716.7 L1038.5,708.3 L1039.3,715.7 L1039.0,724.2 L1040.3,724.7Z" fill="#b0b7d0" opacity="0.95"/>
<circle cx="1034.6" cy="707.7" r="1.2" fill="#b0b7d0" opacity="0.5"/>
<circle cx="1035.7" cy="707.6" r="1.0" fill="#b0b7d0" opacity="0.5"/>
<circle cx="1035.7" cy="773.6" r="0.7" fill="#b0b7d0" opacity="0.5"/>
<circle cx="1040.4" cy="728.6" r="0.5" fill="#b0b7d0" opacity="0.5"/>
<circle cx="1034.5" cy="724.2" r="0.9" fill="#b0b7d0" opacity="0.5"/>
<path d="M999.2,727.5 L999.1,730.2 L997.5,732.2 L996.0,730.7 L995.1,730.1 L994.9,728.6 L994.3,727.7 L993.4,725.7 L994.5,723.5 L996.2,723.4 L997.5,722.1 L998.1,723.7 L999.0,724.2 L999.9,725.4Z" fill="#b0b7d0" opacity="0.95"/>
<circle cx="991.4" cy="721.1" r="0.5" fill="#b0b7d0" opacity="0.5"/>
<circle cx="997.8" cy="732.6" r="1.2" fill="#b0b7d0" opacity="0.5"/>
<circle cx="1002.1" cy="733.4" r="0.7" fill="#b0b7d0" opacity="0.5"/>
<circle cx="1000.4" cy="720.9" r="0.8" fill="#b0b7d0" opacity="0.5"/>
<circle cx="1001.2" cy="725.1" r="1.1" fill="#b0b7d0" opacity="0.5"/>
<path d="M979.0,710.8 L979.0,713.5 L977.7,714.5 L976.8,714.6 L976.4,713.6 L976.1,712.6 L975.0,712.2 L975.2,709.8 L976.2,707.7 L977.3,706.2 L978.2,706.1 L978.7,707.0 L979.6,707.1 L979.1,709.2Z" fill="#b0b7d0" opacity="0.95"/>
<circle cx="974.7" cy="718.9" r="0.7" fill="#b0b7d0" opacity="0.5"/>
<circle cx="979.0" cy="715.1" r="0.6" fill="#b0b7d0" opacity="0.5"/>
<circle cx="974.0" cy="704.9" r="0.6" fill="#b0b7d0" opacity="0.5"/>
<path d="M1022.0,683.0 L1021.0,684.7 L1020.2,686.6 L1019.4,687.7 L1018.2,688.9 L1018.0,687.4 L1018.4,684.8 L1019.0,682.1 L1019.9,679.2 L1020.9,679.3 L1021.7,678.0 L1022.8,676.7 L1023.4,677.5 L1023.4,679.8Z" fill="#b0b7d0" opacity="0.95"/>
<circle cx="1020.8" cy="673.6" r="1.0" fill="#b0b7d0" opacity="0.5"/>
<circle cx="1022.1" cy="672.9" r="0.9" fill="#b0b7d0" opacity="0.5"/>
<circle cx="1023.5" cy="676.7" r="0.6" fill="#b0b7d0" opacity="0.5"/>
<path d="M1006.7,654.0 L1006.1,655.8 L1005.1,656.8 L1004.2,656.5 L1003.8,655.7 L1002.7,656.0 L1002.9,654.4 L1003.4,653.0 L1003.6,651.2 L1004.5,650.2 L1005.6,649.3 L1006.3,649.9 L1006.0,651.9 L1006.3,652.7Z" fill="#b0b7d0" opacity="0.95"/>
<circle cx="1007.0" cy="654.7" r="1.2" fill="#b0b7d0" opacity="0.5"/>
<circle cx="1003.4" cy="649.6" r="1.0" fill="#b0b7d0" opacity="0.5"/>
<circle cx="1007.9" cy="655.8" r="0.8" fill="#b0b7d0" opacity="0.5"/>
<path d="M923.7,631.3 L923.9,632.4 L923.5,633.6 L922.2,633.3 L921.2,633.3 L920.8,632.4 L919.7,632.3 L919.0,631.3 L919.5,630.2 L920.4,629.7 L921.2,629.3 L922.1,629.7 L923.1,629.5 L924.0,630.2Z" fill="#b0b7d0" opacity="0.95"/>
<circle cx="920.0" cy="634.2" r="1.0" fill="#b0b7d0" opacity="0.5"/>
<circle cx="922.4" cy="635.1" r="1.1" fill="#b0b7d0" opacity="0.5"/>
<circle cx="919.0" cy="632.6" r="0.6" fill="#b0b7d0" opacity="0.5"/>
<circle cx="916.1" cy="629.8" r="1.2" fill="#b0b7d0" opacity="0.5"/>
<path d="M973.6,646.2 L973.4,647.0 L973.1,647.8 L972.2,648.2 L971.5,647.7 L970.7,647.6 L970.4,646.9 L969.8,646.2 L969.7,645.2 L970.6,644.7 L971.5,644.8 L972.1,644.7 L972.7,645.0 L973.7,645.3Z" fill="#b0b7d0" opacity="0.95"/>
<circle cx="973.9" cy="645.9" r="1.1" fill="#b0b7d0" opacity="0.5"/>
<circle cx="972.5" cy="644.0" r="0.8" fill="#b0b7d0" opacity="0.5"/>
<circle cx="975.2" cy="647.4" r="1.1" fill="#b0b7d0" opacity="0.5"/>
<path d="M1030.2,696.9 L1029.2,697.8 L1028.7,699.8 L1028.0,699.7 L1027.9,698.5 L1027.2,698.6 L1026.7,697.8 L1027.0,695.9 L1027.8,694.1 L1028.7,694.5 L1029.3,693.7 L1030.2,692.8 L1030.3,694.0 L1030.6,695.1Z" fill="#b0b7d0" opacity="0.95"/>
<circle cx="1028.0" cy="692.9" r="0.5" fill="#b0b7d0" opacity="0.5"/>
<circle cx="1026.7" cy="703.3" r="1.3" fill="#b0b7d0" opacity="0.5"/>
<path d="M992.3,689.2 L992.4,690.2 L991.3,690.8 L989.8,690.5 L988.8,690.9 L987.7,690.6 L986.6,690.1 L985.8,689.2 L987.3,688.5 L988.1,688.2 L988.9,687.6 L989.9,687.6 L991.3,687.6 L991.9,688.4Z" fill="#b0b7d0" opacity="0.95"/>
<circle cx="988.5" cy="692.5" r="0.9" fill="#b0b7d0" opacity="0.5"/>
<circle cx="984.5" cy="691.0" r="0.6" fill="#b0b7d0" opacity="0.5"/>
<circle cx="985.4" cy="688.7" r="1.1" fill="#b0b7d0" opacity="0.5"/>
<circle cx="987.6" cy="685.3" r="0.9" fill="#b0b7d0" opacity="0.5"/>
<circle cx="989.4" cy="693.7" r="0.9" fill="#b0b7d0" opacity="0.5"/>
<path d="M990.6,488.8 L987.2,491.6 L984.8,493.0 L982.7,494.5 L980.1,494.5 L976.1,495.5 L975.0,491.9 L975.4,488.8 L975.0,485.7 L977.3,483.7 L980.0,482.7 L982.7,483.2 L984.9,484.4 L989.5,484.9Z" fill="#b0b7d0" opacity="0.95"/>
<path d="M983.8,488.8 L983.5,489.8 L983.4,491.4 L982.2,492.3 L980.6,492.3 L978.9,491.9 L978.8,490.1 L977.7,488.8 L978.2,487.3 L979.6,486.5 L980.6,485.5 L982.2,485.1 L983.7,485.9 L985.1,487.0Z" fill="#b0b7d0" opacity="0.8"/>
<circle cx="980.4" cy="476.5" r="0.8" fill="#b0b7d0" opacity="0.5"/>
<circle cx="979.9" cy="501.1" r="1.1" fill="#b0b7d0" opacity="0.5"/>
<circle cx="994.1" cy="479.0" r="1.2" fill="#b0b7d0" opacity="0.5"/>
<circle cx="970.6" cy="493.2" r="0.8" fill="#b0b7d0" opacity="0.5"/>
<circle cx="990.6" cy="487.3" r="0.6" fill="#b0b7d0" opacity="0.5"/>
<circle cx="978.2" cy="505.2" r="1.2" fill="#b0b7d0" opacity="0.5"/>
<circle cx="973.6" cy="502.8" r="1.2" fill="#b0b7d0" opacity="0.5"/>
<circle cx="973.0" cy="492.9" r="1.1" fill="#b0b7d0" opacity="0.5"/>
<circle cx="975.3" cy="494.9" r="1.2" fill="#b0b7d0" opacity="0.5"/>
<circle cx="970.8" cy="493.1" r="1.0" fill="#b0b7d0" opacity="0.5"/>
<circle cx="981.2" cy="496.4" r="0.8" fill="#b0b7d0" opacity="0.5"/>
<circle cx="975.9" cy="494.0" r="0.8" fill="#b0b7d0" opacity="0.5"/>
<circle cx="982.1" cy="478.0" r="1.0" fill="#b0b7d0" opacity="0.5"/>
<circle cx="974.8" cy="482.2" r="0.5" fill="#b0b7d0" opacity="0.5"/>
<path d="M1030.3,464.2 L1029.7,465.5 L1029.8,467.7 L1027.8,469.1 L1025.2,468.6 L1023.1,467.6 L1022.5,465.8 L1023.0,464.2 L1022.0,462.5 L1023.4,461.2 L1025.4,460.5 L1027.8,459.2 L1029.7,460.8 L1030.5,462.6Z" fill="#b0b7d0" opacity="0.95"/>
<circle cx="1023.2" cy="470.7" r="0.8" fill="#b0b7d0" opacity="0.5"/>
<circle cx="1031.5" cy="461.2" r="1.3" fill="#b0b7d0" opacity="0.5"/>
<circle cx="1027.1" cy="473.8" r="0.7" fill="#b0b7d0" opacity="0.5"/>
<circle cx="1019.4" cy="460.7" r="0.5" fill="#b0b7d0" opacity="0.5"/>
<circle cx="1029.7" cy="455.2" r="0.7" fill="#b0b7d0" opacity="0.5"/>
<circle cx="1027.9" cy="456.9" r="1.3" fill="#b0b7d0" opacity="0.5"/>
<circle cx="1034.2" cy="466.5" r="0.7" fill="#b0b7d0" opacity="0.5"/>
<circle cx="1018.4" cy="457.7" r="1.2" fill="#b0b7d0" opacity="0.5"/>
<circle cx="1018.5" cy="462.2" r="1.1" fill="#b0b7d0" opacity="0.5"/>
<circle cx="1032.2" cy="467.9" r="1.1" fill="#b0b7d0" opacity="0.5"/>
<path d="M1022.9,459.7 L1022.4,460.7 L1021.3,460.8 L1020.8,461.4 L1020.0,461.4 L1018.9,461.6 L1017.6,461.0 L1018.1,459.7 L1019.0,459.0 L1019.1,458.1 L1020.0,457.8 L1021.0,456.9 L1021.9,457.8 L1022.3,458.8Z" fill="#b0b7d0" opacity="0.95"/>
<circle cx="1016.7" cy="459.9" r="1.2" fill="#b0b7d0" opacity="0.5"/>
<circle cx="1021.8" cy="465.0" r="0.8" fill="#b0b7d0" opacity="0.5"/>
<circle cx="1018.1" cy="463.6" r="1.0" fill="#b0b7d0" opacity="0.5"/>
<circle cx="1019.8" cy="462.4" r="1.3" fill="#b0b7d0" opacity="0.5"/>
<path d="M1003.6,461.4 L1002.9,462.6 L1001.4,463.2 L1000.1,463.3 L998.8,463.8 L996.8,464.0 L995.4,462.9 L995.6,461.4 L996.8,460.4 L997.9,459.9 L998.6,458.5 L1000.3,458.9 L1001.6,459.5 L1003.3,460.0Z" fill="#b0b7d0" opacity="0.95"/>
<circle cx="1000.4" cy="467.5" r="0.9" fill="#b0b7d0" opacity="0.5"/>
<circle cx="1002.4" cy="457.5" r="1.1" fill="#b0b7d0" opacity="0.5"/>
<circle cx="1004.6" cy="462.1" r="1.3" fill="#b0b7d0" opacity="0.5"/>
<circle cx="996.3" cy="456.2" r="0.9" fill="#b0b7d0" opacity="0.5"/>
<circle cx="994.6" cy="462.1" r="0.6" fill="#b0b7d0" opacity="0.5"/>
<circle cx="994.8" cy="456.8" r="0.7" fill="#b0b7d0" opacity="0.5"/>
<circle cx="996.6" cy="458.6" r="1.0" fill="#b0b7d0" opacity="0.5"/>
<path d="M993.9,462.4 L992.6,463.2 L992.2,464.2 L991.2,464.8 L990.1,464.0 L989.1,463.9 L988.1,463.4 L987.6,462.4 L987.1,461.0 L988.6,460.4 L990.1,460.8 L991.0,460.7 L992.0,460.9 L993.5,461.2Z" fill="#b0b7d0" opacity="0.95"/>
<circle cx="985.0" cy="460.4" r="0.8" fill="#b0b7d0" opacity="0.5"/>
<circle cx="984.0" cy="464.2" r="1.2" fill="#b0b7d0" opacity="0.5"/>
<circle cx="988.5" cy="460.1" r="1.0" fill="#b0b7d0" opacity="0.5"/>
<circle cx="997.1" cy="463.6" r="1.3" fill="#b0b7d0" opacity="0.5"/>
<circle cx="989.9" cy="459.1" r="1.2" fill="#b0b7d0" opacity="0.5"/>
<path d="M951.6,506.1 L951.7,508.0 L949.9,508.8 L947.9,507.7 L946.7,506.5 L945.2,505.9 L943.8,504.5 L943.7,502.8 L944.5,501.2 L947.1,502.2 L948.5,502.2 L950.1,502.4 L950.6,503.7 L951.8,504.9Z" fill="#b0b7d0" opacity="0.95"/>
<circle cx="944.5" cy="501.9" r="0.6" fill="#b0b7d0" opacity="0.5"/>
<circle cx="946.6" cy="509.3" r="1.2" fill="#b0b7d0" opacity="0.5"/>
<circle cx="956.3" cy="500.4" r="1.3" fill="#b0b7d0" opacity="0.5"/>
<circle cx="939.6" cy="507.4" r="0.7" fill="#b0b7d0" opacity="0.5"/>
<circle cx="956.6" cy="501.4" r="1.1" fill="#b0b7d0" opacity="0.5"/>
<circle cx="948.9" cy="508.6" r="1.2" fill="#b0b7d0" opacity="0.5"/>
<circle cx="940.5" cy="502.7" r="1.2" fill="#b0b7d0" opacity="0.5"/>
<circle cx="953.6" cy="510.0" r="0.9" fill="#b0b7d0" opacity="0.5"/>
<path d="M986.5,522.9 L985.1,523.9 L985.1,525.4 L984.1,527.3 L982.3,526.3 L981.1,525.4 L980.8,524.0 L981.1,522.9 L980.3,521.6 L980.5,519.6 L982.4,520.0 L983.9,519.5 L985.1,520.4 L985.3,521.9Z" fill="#b0b7d0" opacity="0.95"/>
<circle cx="983.2" cy="515.9" r="1.2" fill="#b0b7d0" opacity="0.5"/>
<circle cx="980.3" cy="526.4" r="0.8" fill="#b0b7d0" opacity="0.5"/>
<circle cx="982.4" cy="516.4" r="0.8" fill="#b0b7d0" opacity="0.5"/>
<circle cx="979.0" cy="522.3" r="1.2" fill="#b0b7d0" opacity="0.5"/>
<circle cx="977.3" cy="523.9" r="1.1" fill="#b0b7d0" opacity="0.5"/>
<circle cx="985.3" cy="529.4" r="0.8" fill="#b0b7d0" opacity="0.5"/>
<path d="M1015.2,551.3 L1014.2,552.5 L1012.9,553.5 L1011.4,554.1 L1010.4,552.7 L1009.0,552.0 L1009.5,550.3 L1010.0,549.1 L1010.5,547.8 L1011.3,545.9 L1013.1,545.7 L1014.8,546.2 L1014.7,548.4 L1014.2,549.8Z" fill="#b0b7d0" opacity="0.95"/>
<circle cx="1013.0" cy="544.5" r="1.2" fill="#b0b7d0" opacity="0.5"/>
<circle cx="1013.7" cy="542.6" r="1.2" fill="#b0b7d0" opacity="0.5"/>
<circle cx="1006.1" cy="553.0" r="1.3" fill="#b0b7d0" opacity="0.5"/>
<circle cx="1013.7" cy="554.2" r="0.8" fill="#b0b7d0" opacity="0.5"/>
<circle cx="1008.0" cy="549.7" r="0.7" fill="#b0b7d0" opacity="0.5"/>
<circle cx="1015.7" cy="545.5" r="0.6" fill="#b0b7d0" opacity="0.5"/>
<path d="M993.2,576.4 L992.5,577.6 L991.6,578.4 L990.7,579.3 L989.5,578.8 L988.9,577.8 L987.2,577.8 L987.2,576.4 L987.1,575.0 L988.0,573.9 L989.6,574.6 L990.5,574.1 L991.6,574.4 L992.7,575.1Z" fill="#b0b7d0" opacity="0.95"/>
<circle cx="988.0" cy="581.9" r="0.7" fill="#b0b7d0" opacity="0.5"/>
<circle cx="985.0" cy="573.9" r="0.8" fill="#b0b7d0" opacity="0.5"/>
<circle cx="986.8" cy="576.8" r="1.0" fill="#b0b7d0" opacity="0.5"/>
<circle cx="988.7" cy="573.1" r="0.9" fill="#b0b7d0" opacity="0.5"/>
<circle cx="989.6" cy="573.0" r="1.2" fill="#b0b7d0" opacity="0.5"/>
<path d="M965.7,541.0 L965.7,542.0 L965.0,542.8 L964.0,543.5 L962.8,542.8 L961.7,542.7 L960.9,542.0 L961.4,541.0 L960.8,540.0 L961.3,538.9 L962.7,538.6 L964.0,538.5 L964.4,539.8 L964.8,540.4Z" fill="#b0b7d0" opacity="0.95"/>
<circle cx="967.8" cy="544.0" r="1.1" fill="#b0b7d0" opacity="0.5"/>
<circle cx="967.1" cy="540.9" r="0.5" fill="#b0b7d0" opacity="0.5"/>
<circle cx="963.5" cy="537.1" r="1.2" fill="#b0b7d0" opacity="0.5"/>
<circle cx="960.0" cy="543.2" r="0.6" fill="#b0b7d0" opacity="0.5"/>
<circle cx="968.1" cy="539.6" r="0.9" fill="#b0b7d0" opacity="0.5"/>
<path d="M1027.8,485.5 L1027.7,486.4 L1027.1,487.1 L1026.4,487.7 L1025.4,487.7 L1024.5,487.3 L1023.5,486.7 L1023.0,485.5 L1024.2,484.7 L1025.0,484.3 L1025.5,483.6 L1026.4,483.1 L1027.6,483.4 L1028.1,484.4Z" fill="#b0b7d0" opacity="0.95"/>
<circle cx="1030.1" cy="481.6" r="0.5" fill="#b0b7d0" opacity="0.5"/>
<circle cx="1022.7" cy="482.2" r="1.2" fill="#b0b7d0" opacity="0.5"/>
<circle cx="1023.0" cy="486.1" r="0.7" fill="#b0b7d0" opacity="0.5"/>
<circle cx="1024.7" cy="480.7" r="0.7" fill="#b0b7d0" opacity="0.5"/>
<path d="M1053.9,503.5 L1054.1,504.2 L1054.0,505.3 L1053.3,505.9 L1052.4,506.1 L1051.8,505.2 L1051.4,504.4 L1051.1,503.5 L1051.3,502.5 L1052.1,502.2 L1052.5,501.1 L1053.4,500.8 L1054.2,501.5 L1054.9,502.3Z" fill="#b0b7d0" opacity="0.95"/>
<circle cx="1057.0" cy="505.8" r="0.5" fill="#b0b7d0" opacity="0.5"/>
<circle cx="1052.4" cy="499.8" r="0.6" fill="#b0b7d0" opacity="0.5"/>
<circle cx="1050.3" cy="506.1" r="0.8" fill="#b0b7d0" opacity="0.5"/>
<path d="M944.8,485.2 L943.7,485.9 L943.3,486.7 L942.3,487.0 L941.3,486.9 L940.7,486.3 L939.9,485.9 L939.3,485.2 L939.1,484.1 L940.1,483.5 L941.4,484.0 L942.2,483.9 L942.8,484.2 L943.9,484.4Z" fill="#b0b7d0" opacity="0.95"/>
<circle cx="944.0" cy="483.4" r="0.9" fill="#b0b7d0" opacity="0.5"/>
<circle cx="942.1" cy="482.5" r="0.6" fill="#b0b7d0" opacity="0.5"/>
<circle cx="937.9" cy="484.8" r="1.3" fill="#b0b7d0" opacity="0.5"/>
<circle cx="944.4" cy="483.6" r="0.9" fill="#b0b7d0" opacity="0.5"/>
<path d="M1049.2,411.0 L1047.2,412.8 L1046.2,414.4 L1044.3,414.5 L1042.8,414.1 L1039.5,416.0 L1039.0,413.2 L1039.1,411.0 L1039.5,409.1 L1041.9,409.0 L1042.6,406.9 L1044.5,406.5 L1046.1,407.7 L1047.5,409.1Z" fill="#b0b7d0" opacity="0.95"/>
<circle cx="1047.3" cy="416.2" r="0.6" fill="#b0b7d0" opacity="0.5"/>
<circle cx="1048.8" cy="414.4" r="0.9" fill="#b0b7d0" opacity="0.5"/>
<circle cx="1050.3" cy="419.0" r="0.8" fill="#b0b7d0" opacity="0.5"/>
<circle cx="1043.4" cy="417.6" r="1.2" fill="#b0b7d0" opacity="0.5"/>
<circle cx="1053.0" cy="413.9" r="0.6" fill="#b0b7d0" opacity="0.5"/>
<circle cx="1050.7" cy="408.3" r="1.0" fill="#b0b7d0" opacity="0.5"/>
<circle cx="1047.2" cy="406.7" r="0.6" fill="#b0b7d0" opacity="0.5"/>
<circle cx="1040.4" cy="402.6" r="1.1" fill="#b0b7d0" opacity="0.5"/>
<circle cx="1042.1" cy="419.2" r="0.6" fill="#b0b7d0" opacity="0.5"/>
<path d="M1080.9,424.0 L1079.1,425.3 L1078.0,426.4 L1075.8,426.1 L1073.7,428.2 L1070.7,427.7 L1070.5,425.5 L1070.3,424.0 L1070.5,422.5 L1072.2,421.6 L1073.8,420.2 L1076.1,420.9 L1078.3,421.3 L1082.1,421.8Z" fill="#b0b7d0" opacity="0.95"/>
<path d="M1078.4,424.0 L1078.6,425.1 L1076.6,425.2 L1075.6,425.4 L1074.6,425.5 L1073.7,425.2 L1071.7,425.1 L1071.6,424.0 L1072.8,423.3 L1073.5,422.7 L1074.6,422.6 L1075.7,422.3 L1076.7,422.7 L1077.3,423.3Z" fill="#b0b7d0" opacity="0.8"/>
<circle cx="1069.5" cy="420.7" r="0.9" fill="#b0b7d0" opacity="0.5"/>
<circle cx="1073.6" cy="419.6" r="1.0" fill="#b0b7d0" opacity="0.5"/>
<circle cx="1082.9" cy="428.0" r="1.0" fill="#b0b7d0" opacity="0.5"/>
<circle cx="1072.7" cy="420.1" r="0.7" fill="#b0b7d0" opacity="0.5"/>
<circle cx="1083.9" cy="422.5" r="0.8" fill="#b0b7d0" opacity="0.5"/>
<circle cx="1066.9" cy="429.5" r="1.1" fill="#b0b7d0" opacity="0.5"/>
<circle cx="1069.7" cy="419.0" r="1.0" fill="#b0b7d0" opacity="0.5"/>
<circle cx="1067.7" cy="423.5" r="1.3" fill="#b0b7d0" opacity="0.5"/>
<circle cx="1087.0" cy="422.2" r="1.3" fill="#b0b7d0" opacity="0.5"/>
<circle cx="1062.7" cy="425.8" r="0.7" fill="#b0b7d0" opacity="0.5"/>
<circle cx="1074.5" cy="416.2" r="1.3" fill="#b0b7d0" opacity="0.5"/>
<path d="M1071.3,420.9 L1070.6,421.8 L1069.6,422.8 L1068.2,422.8 L1067.4,421.6 L1066.5,420.8 L1066.1,419.5 L1067.0,418.6 L1067.7,417.8 L1068.7,417.3 L1069.9,416.8 L1071.3,417.2 L1071.4,418.8 L1070.6,419.8Z" fill="#b0b7d0" opacity="0.95"/>
<circle cx="1072.4" cy="424.6" r="0.7" fill="#b0b7d0" opacity="0.5"/>
<circle cx="1071.6" cy="416.2" r="1.2" fill="#b0b7d0" opacity="0.5"/>
<circle cx="1067.8" cy="423.5" r="0.8" fill="#b0b7d0" opacity="0.5"/>
<circle cx="1073.8" cy="420.1" r="0.8" fill="#b0b7d0" opacity="0.5"/>
<circle cx="1075.5" cy="420.2" r="0.8" fill="#b0b7d0" opacity="0.5"/>
<path d="M993.6,429.2 L993.4,430.0 L992.8,430.7 L991.9,431.2 L990.9,430.5 L990.1,430.4 L989.3,430.0 L989.3,429.2 L988.8,428.3 L989.8,427.7 L990.7,427.1 L991.9,427.0 L992.3,428.2 L992.8,428.6Z" fill="#b0b7d0" opacity="0.95"/>
<circle cx="996.1" cy="429.7" r="1.1" fill="#b0b7d0" opacity="0.5"/>
<circle cx="989.8" cy="425.9" r="1.2" fill="#b0b7d0" opacity="0.5"/>
<circle cx="993.7" cy="432.0" r="0.7" fill="#b0b7d0" opacity="0.5"/>
<circle cx="988.8" cy="430.7" r="1.1" fill="#b0b7d0" opacity="0.5"/>
<path d="M1049.6,372.6 L1050.3,375.9 L1049.3,379.9 L1045.3,380.3 L1041.6,380.8 L1037.2,380.5 L1036.3,376.1 L1035.3,372.6 L1037.7,369.8 L1039.9,368.1 L1041.4,363.4 L1045.7,362.9 L1049.9,364.6 L1052.6,368.2Z" fill="#b0b7d0" opacity="0.95"/>
<path d="M1047.4,372.6 L1045.9,373.8 L1045.9,375.7 L1044.6,377.5 L1042.3,377.6 L1040.9,375.9 L1040.8,373.9 L1040.0,372.6 L1039.8,370.8 L1041.1,369.6 L1042.5,368.2 L1044.4,368.5 L1046.1,369.3 L1047.9,370.5Z" fill="#b0b7d0" opacity="0.8"/>
<circle cx="1026.0" cy="378.8" r="1.0" fill="#b0b7d0" opacity="0.5"/>
<circle cx="1053.1" cy="391.0" r="0.6" fill="#b0b7d0" opacity="0.5"/>
<circle cx="1056.3" cy="379.2" r="0.5" fill="#b0b7d0" opacity="0.5"/>
<circle cx="1029.7" cy="374.3" r="1.3" fill="#b0b7d0" opacity="0.5"/>
<circle cx="1027.0" cy="382.6" r="1.1" fill="#b0b7d0" opacity="0.5"/>
<circle cx="1033.4" cy="366.5" r="0.7" fill="#b0b7d0" opacity="0.5"/>
<circle cx="1029.8" cy="373.4" r="1.0" fill="#b0b7d0" opacity="0.5"/>
<circle cx="1030.7" cy="372.2" r="1.0" fill="#b0b7d0" opacity="0.5"/>
<circle cx="1054.9" cy="372.3" r="0.8" fill="#b0b7d0" opacity="0.5"/>
<circle cx="1053.5" cy="373.4" r="0.5" fill="#b0b7d0" opacity="0.5"/>
<circle cx="1026.6" cy="381.5" r="1.1" fill="#b0b7d0" opacity="0.5"/>
<circle cx="1062.1" cy="368.5" r="1.0" fill="#b0b7d0" opacity="0.5"/>
<circle cx="1035.6" cy="368.2" r="0.8" fill="#b0b7d0" opacity="0.5"/>
<circle cx="1042.3" cy="389.0" r="0.6" fill="#b0b7d0" opacity="0.5"/>
<circle cx="1030.5" cy="369.1" r="0.9" fill="#b0b7d0" opacity="0.5"/>
<circle cx="1035.1" cy="378.3" r="1.1" fill="#b0b7d0" opacity="0.5"/>
<circle cx="1048.5" cy="357.2" r="0.6" fill="#b0b7d0" opacity="0.5"/>
<path d="M1056.3,359.5 L1055.7,361.5 L1054.9,363.7 L1052.6,365.3 L1049.9,364.9 L1047.1,364.3 L1044.3,362.6 L1044.7,359.5 L1048.0,358.1 L1048.0,355.7 L1049.9,354.4 L1052.7,353.4 L1056.2,353.7 L1056.0,357.4Z" fill="#b0b7d0" opacity="0.95"/>
<path d="M1054.4,359.5 L1054.2,360.8 L1052.7,361.2 L1051.9,362.3 L1050.6,361.9 L1049.6,361.3 L1048.3,360.8 L1047.4,359.5 L1048.1,358.1 L1049.3,357.3 L1050.7,357.6 L1051.7,357.4 L1053.5,356.9 L1054.6,358.0Z" fill="#b0b7d0" opacity="0.8"/>
<circle cx="1057.4" cy="357.5" r="0.8" fill="#b0b7d0" opacity="0.5"/>
<circle cx="1056.1" cy="355.0" r="1.1" fill="#b0b7d0" opacity="0.5"/>
<circle cx="1063.1" cy="361.7" r="1.1" fill="#b0b7d0" opacity="0.5"/>
<circle cx="1051.9" cy="368.5" r="0.7" fill="#b0b7d0" opacity="0.5"/>
<circle cx="1048.1" cy="349.7" r="1.0" fill="#b0b7d0" opacity="0.5"/>
<circle cx="1045.9" cy="369.0" r="1.3" fill="#b0b7d0" opacity="0.5"/>
<circle cx="1053.9" cy="346.1" r="0.7" fill="#b0b7d0" opacity="0.5"/>
<circle cx="1041.4" cy="358.6" r="0.8" fill="#b0b7d0" opacity="0.5"/>
<circle cx="1053.8" cy="352.5" r="0.9" fill="#b0b7d0" opacity="0.5"/>
<circle cx="1053.4" cy="346.1" r="0.5" fill="#b0b7d0" opacity="0.5"/>
<circle cx="1049.8" cy="369.4" r="1.2" fill="#b0b7d0" opacity="0.5"/>
<circle cx="1058.4" cy="370.4" r="0.8" fill="#b0b7d0" opacity="0.5"/>
<path d="M1083.6,338.3 L1081.6,340.4 L1078.2,340.1 L1075.1,341.2 L1071.2,340.0 L1068.1,337.0 L1066.1,333.1 L1068.3,330.0 L1072.7,329.9 L1074.9,328.7 L1078.3,327.1 L1083.4,327.6 L1085.6,331.8 L1085.2,335.6Z" fill="#b0b7d0" opacity="0.95"/>
<path d="M1080.8,336.8 L1079.9,338.4 L1077.5,337.5 L1075.6,338.8 L1073.3,337.9 L1072.7,335.7 L1072.2,333.9 L1073.2,332.7 L1074.4,331.9 L1075.0,329.2 L1077.7,329.7 L1079.1,332.0 L1080.5,333.4 L1080.2,335.0Z" fill="#b0b7d0" opacity="0.8"/>
<circle cx="1086.8" cy="323.1" r="0.7" fill="#b0b7d0" opacity="0.5"/>
<circle cx="1076.4" cy="348.3" r="0.6" fill="#b0b7d0" opacity="0.5"/>
<circle cx="1090.5" cy="320.9" r="0.7" fill="#b0b7d0" opacity="0.5"/>
<circle cx="1070.4" cy="320.1" r="0.6" fill="#b0b7d0" opacity="0.5"/>
<circle cx="1080.1" cy="318.6" r="0.7" fill="#b0b7d0" opacity="0.5"/>
<circle cx="1087.8" cy="340.8" r="1.1" fill="#b0b7d0" opacity="0.5"/>
<circle cx="1056.2" cy="338.0" r="0.6" fill="#b0b7d0" opacity="0.5"/>
<circle cx="1088.1" cy="341.7" r="1.2" fill="#b0b7d0" opacity="0.5"/>
<circle cx="1082.3" cy="341.9" r="1.1" fill="#b0b7d0" opacity="0.5"/>
<circle cx="1092.5" cy="342.7" r="0.6" fill="#b0b7d0" opacity="0.5"/>
<circle cx="1077.0" cy="349.6" r="1.2" fill="#b0b7d0" opacity="0.5"/>
<circle cx="1063.2" cy="341.4" r="0.5" fill="#b0b7d0" opacity="0.5"/>
<circle cx="1069.5" cy="343.4" r="1.1" fill="#b0b7d0" opacity="0.5"/>
<circle cx="1072.0" cy="318.5" r="0.9" fill="#b0b7d0" opacity="0.5"/>
<circle cx="1072.9" cy="325.7" r="0.8" fill="#b0b7d0" opacity="0.5"/>
<circle cx="1073.0" cy="345.1" r="1.1" fill="#b0b7d0" opacity="0.5"/>
<circle cx="1079.8" cy="345.6" r="0.7" fill="#b0b7d0" opacity="0.5"/>
<circle cx="1088.7" cy="323.3" r="0.9" fill="#b0b7d0" opacity="0.5"/>
<circle cx="1060.3" cy="346.8" r="1.3" fill="#b0b7d0" opacity="0.5"/>
<path d="M1073.0,342.2 L1072.7,343.2 L1071.8,343.6 L1071.3,344.7 L1069.9,345.5 L1069.2,344.0 L1068.1,343.4 L1067.1,342.2 L1068.5,341.1 L1069.3,340.4 L1070.2,339.8 L1071.3,339.6 L1072.9,339.5 L1073.5,340.8Z" fill="#b0b7d0" opacity="0.95"/>
<circle cx="1066.8" cy="337.7" r="1.2" fill="#b0b7d0" opacity="0.5"/>
<circle cx="1068.4" cy="338.6" r="0.9" fill="#b0b7d0" opacity="0.5"/>
<circle cx="1069.6" cy="346.8" r="0.9" fill="#b0b7d0" opacity="0.5"/>
<circle cx="1076.3" cy="338.7" r="1.2" fill="#b0b7d0" opacity="0.5"/>
<circle cx="1063.9" cy="343.2" r="0.6" fill="#b0b7d0" opacity="0.5"/>
<path d="M1101.7,310.5 L1101.4,317.9 L1096.2,319.1 L1090.5,322.9 L1086.8,319.2 L1090.0,311.1 L1087.5,308.2 L1088.1,303.1 L1090.9,297.6 L1095.8,294.2 L1100.3,295.3 L1102.3,299.3 L1107.2,300.5 L1105.1,306.5Z" fill="#b0b7d0" opacity="0.95"/>
<path d="M1100.5,309.9 L1098.7,312.7 L1096.1,314.0 L1093.7,313.9 L1093.0,311.3 L1091.6,310.1 L1090.6,307.9 L1092.5,305.5 L1093.8,303.1 L1095.9,301.2 L1098.0,301.6 L1099.9,302.4 L1100.5,304.6 L1099.5,307.1Z" fill="#b0b7d0" opacity="0.8"/>
<circle cx="1086.8" cy="324.9" r="0.6" fill="#b0b7d0" opacity="0.5"/>
<circle cx="1112.6" cy="298.0" r="0.9" fill="#b0b7d0" opacity="0.5"/>
<circle cx="1084.1" cy="315.8" r="0.8" fill="#b0b7d0" opacity="0.5"/>
<circle cx="1080.1" cy="308.3" r="1.3" fill="#b0b7d0" opacity="0.5"/>
<circle cx="1084.3" cy="300.6" r="0.5" fill="#b0b7d0" opacity="0.5"/>
<circle cx="1103.9" cy="324.6" r="1.1" fill="#b0b7d0" opacity="0.5"/>
<circle cx="1106.0" cy="295.6" r="1.1" fill="#b0b7d0" opacity="0.5"/>
<circle cx="1080.0" cy="316.0" r="0.9" fill="#b0b7d0" opacity="0.5"/>
<circle cx="1106.4" cy="311.4" r="1.0" fill="#b0b7d0" opacity="0.5"/>
<circle cx="1090.4" cy="287.9" r="1.2" fill="#b0b7d0" opacity="0.5"/>
<circle cx="1101.9" cy="289.7" r="0.6" fill="#b0b7d0" opacity="0.5"/>
<circle cx="1078.3" cy="298.8" r="0.7" fill="#b0b7d0" opacity="0.5"/>
<circle cx="1111.9" cy="313.7" r="0.5" fill="#b0b7d0" opacity="0.5"/>
<circle cx="1094.4" cy="281.8" r="0.7" fill="#b0b7d0" opacity="0.5"/>
<circle cx="1083.7" cy="313.5" r="0.6" fill="#b0b7d0" opacity="0.5"/>
<circle cx="1104.7" cy="334.0" r="0.9" fill="#b0b7d0" opacity="0.5"/>
<circle cx="1092.8" cy="287.5" r="1.1" fill="#b0b7d0" opacity="0.5"/>
<circle cx="1080.5" cy="292.6" r="0.8" fill="#b0b7d0" opacity="0.5"/>
<circle cx="1084.4" cy="300.8" r="1.3" fill="#b0b7d0" opacity="0.5"/>
<path d="M1115.3,301.2 L1115.5,302.2 L1115.9,303.5 L1114.0,306.0 L1109.7,307.9 L1105.9,308.7 L1104.5,307.8 L1101.9,307.7 L1102.1,306.1 L1105.0,303.9 L1107.0,301.8 L1110.7,299.7 L1114.5,298.6 L1118.6,297.8Z" fill="#b0b7d0" opacity="0.95"/>
<path d="M1114.5,301.6 L1114.5,302.5 L1113.4,303.6 L1111.7,304.6 L1110.0,305.0 L1107.9,306.4 L1106.9,306.0 L1104.8,306.3 L1106.1,304.9 L1108.0,303.8 L1109.0,303.0 L1110.4,302.0 L1112.5,301.0 L1114.4,300.7Z" fill="#b0b7d0" opacity="0.8"/>
<circle cx="1110.7" cy="297.9" r="0.5" fill="#b0b7d0" opacity="0.5"/>
<circle cx="1111.9" cy="299.2" r="0.9" fill="#b0b7d0" opacity="0.5"/>
<circle cx="1123.6" cy="303.7" r="1.0" fill="#b0b7d0" opacity="0.5"/>
<circle cx="1111.8" cy="297.3" r="0.9" fill="#b0b7d0" opacity="0.5"/>
<circle cx="1108.1" cy="297.1" r="0.7" fill="#b0b7d0" opacity="0.5"/>
<circle cx="1092.7" cy="302.3" r="1.1" fill="#b0b7d0" opacity="0.5"/>
<circle cx="1114.8" cy="308.4" r="0.8" fill="#b0b7d0" opacity="0.5"/>
<circle cx="1122.2" cy="306.6" r="1.1" fill="#b0b7d0" opacity="0.5"/>
<circle cx="1099.4" cy="301.7" r="1.1" fill="#b0b7d0" opacity="0.5"/>
<circle cx="1125.1" cy="308.4" r="0.6" fill="#b0b7d0" opacity="0.5"/>
<circle cx="1121.1" cy="306.3" r="0.9" fill="#b0b7d0" opacity="0.5"/>
<circle cx="1107.5" cy="311.3" r="1.3" fill="#b0b7d0" opacity="0.5"/>
<circle cx="1106.0" cy="310.6" r="1.1" fill="#b0b7d0" opacity="0.5"/>
<circle cx="1097.8" cy="302.0" r="1.3" fill="#b0b7d0" opacity="0.5"/>
<circle cx="1119.9" cy="302.7" r="0.8" fill="#b0b7d0" opacity="0.5"/>
<circle cx="1104.8" cy="307.7" r="0.8" fill="#b0b7d0" opacity="0.5"/>
<circle cx="1118.4" cy="301.6" r="1.2" fill="#b0b7d0" opacity="0.5"/>
<circle cx="1106.6" cy="307.0" r="1.2" fill="#b0b7d0" opacity="0.5"/>
<circle cx="1108.4" cy="308.1" r="0.6" fill="#b0b7d0" opacity="0.5"/>
<path d="M1099.1,310.3 L1097.3,314.1 L1093.5,315.0 L1091.4,316.3 L1088.8,317.1 L1084.6,318.2 L1081.1,315.2 L1083.7,310.3 L1083.6,306.7 L1085.5,303.7 L1088.8,303.5 L1091.8,302.3 L1094.4,304.3 L1096.1,307.1Z" fill="#b0b7d0" opacity="0.95"/>
<path d="M1093.8,310.3 L1093.6,312.2 L1092.3,313.3 L1091.3,316.0 L1089.4,314.2 L1088.6,312.6 L1087.1,312.0 L1087.1,310.3 L1086.6,308.3 L1087.4,306.3 L1089.5,306.9 L1091.1,306.1 L1092.6,307.0 L1093.2,308.7Z" fill="#b0b7d0" opacity="0.8"/>
<circle cx="1096.2" cy="326.5" r="0.5" fill="#b0b7d0" opacity="0.5"/>
<circle cx="1088.8" cy="320.5" r="0.6" fill="#b0b7d0" opacity="0.5"/>
<circle cx="1080.5" cy="308.4" r="1.1" fill="#b0b7d0" opacity="0.5"/>
<circle cx="1102.2" cy="319.7" r="1.2" fill="#b0b7d0" opacity="0.5"/>
<circle cx="1097.4" cy="318.5" r="1.1" fill="#b0b7d0" opacity="0.5"/>
<circle cx="1072.5" cy="314.1" r="0.8" fill="#b0b7d0" opacity="0.5"/>
<circle cx="1075.6" cy="322.6" r="0.8" fill="#b0b7d0" opacity="0.5"/>
<circle cx="1107.3" cy="306.1" r="0.7" fill="#b0b7d0" opacity="0.5"/>
<circle cx="1072.8" cy="304.6" r="0.6" fill="#b0b7d0" opacity="0.5"/>
<circle cx="1099.6" cy="295.4" r="1.1" fill="#b0b7d0" opacity="0.5"/>
<circle cx="1082.9" cy="304.3" r="1.3" fill="#b0b7d0" opacity="0.5"/>
<circle cx="1103.3" cy="321.3" r="1.1" fill="#b0b7d0" opacity="0.5"/>
<circle cx="1083.9" cy="326.0" r="0.8" fill="#b0b7d0" opacity="0.5"/>
<circle cx="1090.2" cy="300.9" r="1.2" fill="#b0b7d0" opacity="0.5"/>
<circle cx="1077.8" cy="322.7" r="0.9" fill="#b0b7d0" opacity="0.5"/>
<path d="M1086.4,326.1 L1086.4,327.1 L1085.9,328.1 L1085.0,329.2 L1083.5,329.4 L1082.4,328.5 L1082.3,327.1 L1081.9,326.1 L1081.5,324.8 L1082.6,324.0 L1083.5,322.6 L1085.0,323.2 L1085.7,324.4 L1086.4,325.1Z" fill="#b0b7d0" opacity="0.95"/>
<circle cx="1088.5" cy="323.9" r="1.0" fill="#b0b7d0" opacity="0.5"/>
<circle cx="1085.9" cy="322.3" r="0.5" fill="#b0b7d0" opacity="0.5"/>
<circle cx="1087.9" cy="324.2" r="0.5" fill="#b0b7d0" opacity="0.5"/>
<circle cx="1088.9" cy="331.4" r="1.1" fill="#b0b7d0" opacity="0.5"/>
<circle cx="1085.2" cy="329.6" r="1.2" fill="#b0b7d0" opacity="0.5"/>
<path d="M1098.8,329.3 L1098.0,331.4 L1096.9,332.4 L1095.3,336.5 L1094.6,334.7 L1093.9,333.4 L1094.6,330.5 L1094.9,328.1 L1095.8,325.4 L1097.1,323.1 L1098.0,324.2 L1099.8,321.7 L1100.6,323.2 L1099.6,326.8Z" fill="#b0b7d0" opacity="0.95"/>
<circle cx="1099.6" cy="338.0" r="1.1" fill="#b0b7d0" opacity="0.5"/>
<circle cx="1100.7" cy="339.9" r="0.8" fill="#b0b7d0" opacity="0.5"/>
<circle cx="1096.7" cy="337.8" r="0.9" fill="#b0b7d0" opacity="0.5"/>
<circle cx="1094.4" cy="318.9" r="1.2" fill="#b0b7d0" opacity="0.5"/>
<path d="M1096.4,346.4 L1095.9,346.9 L1095.5,347.3 L1095.2,348.2 L1094.4,348.4 L1093.7,347.8 L1093.2,347.1 L1092.8,346.4 L1093.4,345.7 L1093.6,344.9 L1094.5,344.9 L1095.2,344.6 L1096.4,344.4 L1096.6,345.5Z" fill="#b0b7d0" opacity="0.95"/>
<circle cx="1094.5" cy="343.9" r="0.9" fill="#b0b7d0" opacity="0.5"/>
<circle cx="1091.4" cy="344.1" r="0.6" fill="#b0b7d0" opacity="0.5"/>
<circle cx="1092.5" cy="349.9" r="1.1" fill="#b0b7d0" opacity="0.5"/>
<path d="M1117.4,285.8 L1118.0,286.9 L1116.9,288.1 L1115.4,289.0 L1113.7,289.1 L1112.3,289.1 L1110.9,288.8 L1110.7,287.9 L1110.1,286.9 L1110.3,285.6 L1112.2,284.8 L1113.9,284.5 L1115.1,285.0 L1115.8,285.5Z" fill="#b0b7d0" opacity="0.95"/>
<circle cx="1118.1" cy="289.7" r="0.8" fill="#b0b7d0" opacity="0.5"/>
<circle cx="1107.4" cy="288.7" r="0.8" fill="#b0b7d0" opacity="0.5"/>
<circle cx="1108.9" cy="289.4" r="0.8" fill="#b0b7d0" opacity="0.5"/>
<circle cx="1118.2" cy="286.4" r="0.5" fill="#b0b7d0" opacity="0.5"/>
<circle cx="1112.7" cy="283.2" r="0.9" fill="#b0b7d0" opacity="0.5"/>
<circle cx="1108.8" cy="284.9" r="0.7" fill="#b0b7d0" opacity="0.5"/>
<circle cx="1122.4" cy="287.4" r="1.3" fill="#b0b7d0" opacity="0.5"/>
<path d="M1113.8,289.1 L1113.1,290.4 L1112.2,291.5 L1110.7,292.6 L1109.2,293.2 L1107.2,294.4 L1105.6,294.5 L1105.1,293.8 L1104.3,293.2 L1106.4,291.7 L1107.9,290.8 L1109.2,289.7 L1111.1,288.9 L1112.8,288.6Z" fill="#b0b7d0" opacity="0.95"/>
<circle cx="1099.5" cy="289.0" r="1.1" fill="#b0b7d0" opacity="0.5"/>
<circle cx="1103.5" cy="292.2" r="0.5" fill="#b0b7d0" opacity="0.5"/>
<circle cx="1108.6" cy="289.4" r="1.1" fill="#b0b7d0" opacity="0.5"/>
<circle cx="1105.1" cy="288.8" r="1.2" fill="#b0b7d0" opacity="0.5"/>
<circle cx="1117.5" cy="290.1" r="0.6" fill="#b0b7d0" opacity="0.5"/>
<circle cx="1102.6" cy="290.0" r="0.7" fill="#b0b7d0" opacity="0.5"/>
<circle cx="1118.1" cy="289.9" r="0.6" fill="#b0b7d0" opacity="0.5"/>
<circle cx="1110.2" cy="294.5" r="1.0" fill="#b0b7d0" opacity="0.5"/>
<circle cx="1105.6" cy="294.4" r="1.2" fill="#b0b7d0" opacity="0.5"/>
<path d="M1120.6,273.2 L1119.6,275.4 L1118.3,277.1 L1116.5,277.9 L1115.0,275.6 L1113.4,276.1 L1111.5,275.3 L1110.5,273.2 L1110.9,270.7 L1113.5,270.5 L1114.9,270.4 L1116.4,268.8 L1117.6,270.2 L1119.0,271.3Z" fill="#b0b7d0" opacity="0.95"/>
<circle cx="1108.2" cy="265.7" r="0.9" fill="#b0b7d0" opacity="0.5"/>
<circle cx="1115.3" cy="282.1" r="0.7" fill="#b0b7d0" opacity="0.5"/>
<circle cx="1116.6" cy="267.3" r="0.7" fill="#b0b7d0" opacity="0.5"/>
<circle cx="1106.3" cy="277.4" r="0.6" fill="#b0b7d0" opacity="0.5"/>
<circle cx="1117.4" cy="278.7" r="0.7" fill="#b0b7d0" opacity="0.5"/>
<circle cx="1112.1" cy="279.8" r="1.1" fill="#b0b7d0" opacity="0.5"/>
<circle cx="1109.5" cy="277.8" r="0.8" fill="#b0b7d0" opacity="0.5"/>
<circle cx="1117.0" cy="262.3" r="0.8" fill="#b0b7d0" opacity="0.5"/>
<path d="M1117.5,263.7 L1117.7,265.4 L1116.3,266.0 L1115.3,266.9 L1114.1,266.9 L1113.0,266.1 L1112.7,264.8 L1112.4,263.7 L1112.4,262.4 L1112.4,260.3 L1114.0,260.3 L1115.2,261.3 L1116.1,261.7 L1116.7,262.6Z" fill="#b0b7d0" opacity="0.95"/>
<circle cx="1111.8" cy="262.8" r="1.1" fill="#b0b7d0" opacity="0.5"/>
<circle cx="1111.7" cy="265.3" r="0.7" fill="#b0b7d0" opacity="0.5"/>
<circle cx="1116.2" cy="270.8" r="0.9" fill="#b0b7d0" opacity="0.5"/>
<circle cx="1112.9" cy="267.8" r="0.7" fill="#b0b7d0" opacity="0.5"/>
<circle cx="1113.9" cy="268.7" r="1.1" fill="#b0b7d0" opacity="0.5"/>
<path d="M1143.0,264.7 L1143.3,266.4 L1142.7,268.1 L1141.2,269.8 L1139.2,269.6 L1138.2,267.5 L1136.7,266.6 L1136.0,264.7 L1137.0,263.0 L1137.7,261.3 L1139.1,259.3 L1141.2,259.7 L1143.1,260.6 L1142.9,263.3Z" fill="#b0b7d0" opacity="0.95"/>
<circle cx="1146.2" cy="263.9" r="1.2" fill="#b0b7d0" opacity="0.5"/>
<circle cx="1146.4" cy="271.0" r="0.8" fill="#b0b7d0" opacity="0.5"/>
<circle cx="1145.0" cy="260.2" r="0.6" fill="#b0b7d0" opacity="0.5"/>
<circle cx="1143.2" cy="274.6" r="1.3" fill="#b0b7d0" opacity="0.5"/>
<circle cx="1134.8" cy="257.2" r="0.7" fill="#b0b7d0" opacity="0.5"/>
<circle cx="1139.5" cy="270.2" r="1.3" fill="#b0b7d0" opacity="0.5"/>
<circle cx="1148.1" cy="267.1" r="0.8" fill="#b0b7d0" opacity="0.5"/>
<circle cx="1143.0" cy="272.0" r="1.2" fill="#b0b7d0" opacity="0.5"/>
<path d="M1152.7,249.0 L1151.1,253.6 L1146.5,255.3 L1143.0,255.4 L1139.9,255.9 L1135.6,256.3 L1133.6,252.8 L1131.2,249.0 L1133.2,245.0 L1136.1,242.3 L1139.3,239.2 L1143.3,241.1 L1145.8,243.6 L1150.0,244.9Z" fill="#b0b7d0" opacity="0.95"/>
<path d="M1145.4,249.0 L1145.7,251.0 L1145.0,253.4 L1142.5,253.5 L1140.6,252.7 L1138.2,253.1 L1137.3,251.0 L1138.7,249.0 L1137.5,247.1 L1138.3,245.0 L1140.3,243.8 L1142.7,243.8 L1143.9,246.0 L1144.1,247.7Z" fill="#b0b7d0" opacity="0.8"/>
<circle cx="1149.6" cy="258.0" r="0.8" fill="#b0b7d0" opacity="0.5"/>
<circle cx="1152.1" cy="259.8" r="0.9" fill="#b0b7d0" opacity="0.5"/>
<circle cx="1127.0" cy="244.1" r="1.1" fill="#b0b7d0" opacity="0.5"/>
<circle cx="1153.7" cy="256.5" r="1.2" fill="#b0b7d0" opacity="0.5"/>
<circle cx="1156.1" cy="232.1" r="1.1" fill="#b0b7d0" opacity="0.5"/>
<circle cx="1121.5" cy="244.5" r="1.0" fill="#b0b7d0" opacity="0.5"/>
<circle cx="1151.4" cy="258.0" r="0.6" fill="#b0b7d0" opacity="0.5"/>
<circle cx="1151.6" cy="238.9" r="0.8" fill="#b0b7d0" opacity="0.5"/>
<circle cx="1130.6" cy="246.3" r="1.1" fill="#b0b7d0" opacity="0.5"/>
<circle cx="1147.3" cy="229.2" r="1.2" fill="#b0b7d0" opacity="0.5"/>
<circle cx="1136.6" cy="259.8" r="1.1" fill="#b0b7d0" opacity="0.5"/>
<circle cx="1136.3" cy="235.0" r="0.8" fill="#b0b7d0" opacity="0.5"/>
<circle cx="1153.5" cy="266.4" r="0.9" fill="#b0b7d0" opacity="0.5"/>
<circle cx="1147.0" cy="235.6" r="0.8" fill="#b0b7d0" opacity="0.5"/>
<circle cx="1121.6" cy="247.4" r="1.2" fill="#b0b7d0" opacity="0.5"/>
<circle cx="1129.9" cy="264.4" r="0.8" fill="#b0b7d0" opacity="0.5"/>
<circle cx="1154.5" cy="233.5" r="0.9" fill="#b0b7d0" opacity="0.5"/>
<circle cx="1132.7" cy="259.3" r="1.2" fill="#b0b7d0" opacity="0.5"/>
<circle cx="1145.9" cy="235.7" r="0.6" fill="#b0b7d0" opacity="0.5"/>
<path d="M1133.2,254.8 L1133.1,256.4 L1131.3,256.9 L1129.9,257.1 L1128.8,256.7 L1127.6,256.6 L1126.0,256.2 L1125.3,254.8 L1126.8,253.8 L1127.4,252.8 L1128.6,252.3 L1130.0,252.3 L1131.4,252.6 L1131.8,253.8Z" fill="#b0b7d0" opacity="0.95"/>
<circle cx="1132.7" cy="253.4" r="0.5" fill="#b0b7d0" opacity="0.5"/>
<circle cx="1129.9" cy="260.9" r="0.6" fill="#b0b7d0" opacity="0.5"/>
<circle cx="1122.3" cy="253.6" r="0.6" fill="#b0b7d0" opacity="0.5"/>
<circle cx="1121.7" cy="253.7" r="1.1" fill="#b0b7d0" opacity="0.5"/>
<circle cx="1124.7" cy="257.7" r="0.7" fill="#b0b7d0" opacity="0.5"/>
<circle cx="1136.2" cy="253.3" r="1.0" fill="#b0b7d0" opacity="0.5"/>
<path d="M1140.4,241.8 L1139.2,242.7 L1139.0,243.9 L1137.0,243.8 L1135.7,243.4 L1134.0,243.6 L1132.5,242.9 L1131.7,241.8 L1132.0,240.5 L1135.0,240.8 L1135.6,239.9 L1137.1,239.5 L1138.6,240.0 L1140.5,240.5Z" fill="#b0b7d0" opacity="0.95"/>
<circle cx="1139.7" cy="244.7" r="1.1" fill="#b0b7d0" opacity="0.5"/>
<circle cx="1138.9" cy="238.5" r="1.3" fill="#b0b7d0" opacity="0.5"/>
<circle cx="1133.8" cy="239.7" r="0.6" fill="#b0b7d0" opacity="0.5"/>
<circle cx="1142.5" cy="243.8" r="0.8" fill="#b0b7d0" opacity="0.5"/>
<circle cx="1135.9" cy="245.8" r="0.6" fill="#b0b7d0" opacity="0.5"/>
<circle cx="1143.4" cy="238.9" r="0.9" fill="#b0b7d0" opacity="0.5"/>
<circle cx="1131.0" cy="243.0" r="1.0" fill="#b0b7d0" opacity="0.5"/>
<path d="M1133.3,233.3 L1133.4,235.1 L1131.7,235.1 L1131.0,235.3 L1130.3,235.9 L1129.4,235.5 L1128.0,235.1 L1127.7,233.3 L1128.9,232.1 L1129.3,230.8 L1130.3,230.8 L1131.1,230.6 L1132.1,230.8 L1132.6,232.0Z" fill="#b0b7d0" opacity="0.95"/>
<circle cx="1134.7" cy="235.4" r="0.7" fill="#b0b7d0" opacity="0.5"/>
<circle cx="1128.7" cy="227.9" r="1.0" fill="#b0b7d0" opacity="0.5"/>
<circle cx="1129.2" cy="239.9" r="1.1" fill="#b0b7d0" opacity="0.5"/>
<circle cx="1129.8" cy="227.8" r="0.9" fill="#b0b7d0" opacity="0.5"/>
<path d="M1151.0,209.1 L1150.3,210.1 L1149.8,211.1 L1148.6,210.9 L1147.8,210.9 L1146.4,211.3 L1145.8,210.2 L1145.9,209.1 L1146.2,208.1 L1147.0,207.6 L1147.6,206.7 L1148.6,207.1 L1149.2,207.9 L1150.3,208.1Z" fill="#b0b7d0" opacity="0.95"/>
<circle cx="1145.6" cy="212.7" r="0.6" fill="#b0b7d0" opacity="0.5"/>
<circle cx="1150.2" cy="206.1" r="1.2" fill="#b0b7d0" opacity="0.5"/>
<circle cx="1146.5" cy="212.2" r="0.6" fill="#b0b7d0" opacity="0.5"/>
<circle cx="1152.6" cy="208.1" r="1.2" fill="#b0b7d0" opacity="0.5"/>
<path d="M1087.7,203.1 L1087.8,204.0 L1087.1,204.4 L1086.4,204.7 L1085.6,204.9 L1085.2,204.0 L1084.7,203.7 L1084.2,203.1 L1084.4,202.3 L1084.7,201.5 L1085.7,201.6 L1086.3,202.0 L1086.9,202.0 L1087.6,202.3Z" fill="#b0b7d0" opacity="0.95"/>
<circle cx="1089.7" cy="201.4" r="1.2" fill="#b0b7d0" opacity="0.5"/>
<circle cx="1085.8" cy="206.9" r="0.5" fill="#b0b7d0" opacity="0.5"/>
<circle cx="1082.5" cy="205.1" r="0.7" fill="#b0b7d0" opacity="0.5"/>
<g class="rd">
<path d="M152.5,62.7 L155.3,70.8 L154.1,92.6 L148.7,101.9 L133.9,113.5 L126.6,137.0 L125.7,155.0 L114.2,168.3 L105.9,191.5 L93.8,211.9 L95.7,238.5 L95.5,255.9 L91.2,288.0 L88.1,311.3 L93.2,346.8 L92.5,364.8 L94.3,394.3 L104.7,436.2 L121.3,459.3 L125.9,476.2 L130.4,487.4 L136.7,497.5 L144.1,515.0 L146.0,529.2"/>
<path d="M94.3,347.1 L96.5,374.7 L115.7,406.0 L123.0,420.1 L122.3,447.5 L121.3,459.3"/>
<path d="M67.8,361.8 L74.7,377.0 L75.2,396.6 L87.7,430.0 L86.0,440.2 L100.5,468.9 L110.0,477.8 L130.4,487.4"/>
<path d="M148.7,101.9 L164.0,112.2 L176.5,127.3 L200.2,130.9 L238.5,124.7 L250.3,127.0 L270.3,139.5 L297.0,160.2 L332.7,174.6 L320.5,190.7 L346.9,203.0 L396.4,207.8 L415.9,223.9 L422.9,238.7 L426.2,253.1 L449.9,255.8 L494.4,266.1 L514.5,272.6 L597.8,281.4 L624.1,286.5 L691.4,282.9 L733.6,274.2 L772.3,294.8 L780.5,316.5 L811.2,324.8"/>
<path d="M396.4,207.8 L449.3,197.2 L473.2,180.2 L508.8,189.4 L547.2,194.1 L623.2,194.4 L674.6,230.6 L692.7,246.8 L727.3,249.5 L748.6,273.3 L772.3,294.8 L800.7,293.0 L811.2,324.8 L824.9,331.2 L834.8,316.2 L852.0,308.9 L889.4,304.4 L903.3,301.0 L912.7,281.6"/>
<path d="M126.1,155.1 L149.0,156.8 L159.8,161.3 L191.3,164.3 L199.4,171.6 L210.3,184.1 L211.7,200.2 L223.8,224.6 L233.7,239.2 L249.5,261.3 L264.2,275.2 L283.1,279.6 L296.1,299.1 L307.3,321.9"/>
<path d="M345.8,110.1 L350.7,152.6 L332.7,174.6 L320.5,190.7 L319.0,231.3 L317.0,259.2 L305.8,274.9 L305.7,307.2 L307.3,321.9 L306.5,334.7 L308.7,349.6 L289.3,381.4 L280.7,392.6 L266.1,414.4 L251.9,428.1 L240.0,434.2 L212.6,446.3 L203.5,460.5 L163.3,471.2 L151.8,491.3 L151.3,508.2 L146.0,529.2"/>
<path d="M70.3,362.6 L74.8,355.2 L93.2,346.8 L125.9,334.7 L135.7,331.3 L167.7,321.0 L188.1,303.5 L227.2,316.8 L262.4,327.1 L306.5,334.7 L314.6,337.0 L328.5,324.2 L365.6,322.2 L407.0,320.8 L439.0,338.3 L454.7,344.6 L493.0,348.3 L539.0,351.3 L573.9,364.8 L589.4,359.1 L623.9,362.5 L638.6,350.5 L688.0,340.1 L731.2,336.7 L751.7,339.5 L784.1,341.4 L802.8,335.6 L817.7,332.0 L840.2,327.4 L875.1,322.6 L894.9,322.7 L926.6,323.6 L943.7,325.4 L957.8,326.9 L982.9,319.5 L1023.0,317.2 L1053.3,309.1 L1070.0,307.2 L1091.3,305.7"/>
<path d="M280.8,392.0 L334.8,390.7 L369.4,392.5 L397.3,382.7 L417.7,382.7 L447.3,383.1 L488.6,399.1 L530.4,400.5 L567.0,415.5 L604.1,417.4 L645.6,411.8 L669.2,410.1 L717.8,412.9 L764.3,419.3 L798.8,403.6 L822.4,391.1 L847.9,380.0 L874.4,375.2 L888.9,371.4 L913.9,366.1 L961.2,355.4 L970.6,351.0 L986.8,351.4 L1013.2,348.2 L1026.1,354.9 L1034.3,360.3 L1051.3,359.8"/>
<path d="M163.3,471.2 L216.9,484.7 L231.1,477.8 L284.7,488.0 L305.3,496.3 L351.4,489.3 L396.8,507.9 L441.7,516.4 L506.3,514.6 L561.7,511.9 L604.3,511.1 L659.1,510.4 L675.0,512.9 L703.9,516.4 L723.8,529.5 L774.0,515.6 L800.9,500.5 L845.2,481.3 L873.8,478.4 L909.7,479.1 L941.7,484.6 L967.9,476.8 L1000.5,460.6 L1027.5,463.9 L1035.7,476.4 L1051.7,503.5"/>
<path d="M124.6,486.8 L151.6,492.1 L174.2,507.4 L209.7,518.6 L266.7,534.0 L271.4,550.3 L286.3,571.9 L313.7,575.5 L339.8,576.6 L384.6,583.9 L389.7,599.5 L427.1,623.3 L473.4,631.5 L526.5,644.0 L562.5,659.8 L577.8,677.6 L616.9,671.1 L654.3,669.0 L685.1,659.7 L706.3,655.3 L735.5,654.2 L756.2,646.8 L783.0,658.9 L806.1,645.7 L830.7,634.8 L851.5,639.4 L890.3,626.9 L921.8,631.5 L962.2,633.0 L985.0,625.2"/>
<path d="M446.9,625.1 L487.5,606.2 L550.8,593.2 L607.6,586.5 L620.0,585.8 L655.3,597.7 L668.5,593.4 L691.8,592.6 L730.2,591.5 L759.7,594.2 L776.3,594.5 L811.0,590.3 L835.4,564.5 L852.4,554.2 L907.2,541.3 L964.0,540.9 L983.1,522.9 L1010.7,512.3"/>
<path d="M384.6,583.9 L376.5,559.8 L387.9,535.3 L396.8,507.9 L414.7,492.9 L430.6,497.1 L451.6,462.9 L450.7,455.3 L451.4,425.2 L448.4,408.7 L447.3,383.1 L449.5,359.5 L454.7,344.6 L454.6,319.2 L429.3,294.1 L426.7,265.8 L426.3,251.7"/>
<path d="M551.0,729.2 L558.2,703.5 L577.8,677.6 L596.6,654.7 L611.4,619.7 L615.3,586.6 L612.1,561.6 L612.5,547.0 L604.3,511.1 L608.7,477.0 L609.3,449.5 L627.8,431.3 L655.1,413.9 L669.2,410.1 L681.0,377.9 L688.0,340.1 L692.8,314.9 L691.4,282.9 L692.7,264.8 L692.7,246.8 L698.0,228.6 L713.1,195.3"/>
<path d="M669.2,410.1 L663.2,391.6 L646.0,368.6 L640.1,350.3 L630.4,315.7 L623.9,286.5 L616.9,248.9 L623.2,194.4 L618.8,165.4 L615.8,135.9"/>
<path d="M580.9,554.1 L583.8,534.8 L604.3,511.1 L639.0,492.5 L663.8,472.3 L671.9,466.3 L698.4,462.3 L731.2,440.2 L764.3,419.3"/>
<path d="M620.0,585.8 L648.1,575.6 L684.2,567.4 L706.8,547.6 L723.8,529.5"/>
<path d="M668.4,681.4 L654.3,669.0 L649.7,642.6 L632.9,614.3 L620.0,585.8"/>
<path d="M783.0,658.9 L772.5,644.5 L771.7,623.8 L776.3,594.5 L780.6,561.0 L779.1,538.9 L774.0,515.6 L775.9,493.2 L781.4,467.2 L781.0,455.2 L764.3,419.3 L773.8,386.0 L786.3,366.1 L796.6,347.9 L809.8,325.7"/>
<path d="M782.8,464.9 L793.3,442.3 L793.0,425.9 L798.8,403.0 L802.7,374.7 L808.2,346.3 L811.3,329.8"/>
<path d="M830.7,634.8 L853.4,610.2 L867.4,584.6 L852.4,554.2 L845.2,524.9 L846.4,508.0 L845.2,481.3 L850.1,457.9 L860.6,436.6 L861.3,421.1 L854.8,395.2 L847.9,380.0 L830.8,363.7 L821.9,342.7 L818.1,331.9"/>
<path d="M1039.3,741.5 L1033.8,732.8 L1002.3,737.6 L996.5,725.6 L978.5,709.1 L978.5,692.3 L975.9,667.8 L970.1,646.5 L944.2,617.6 L929.7,598.8 L928.2,563.9 L907.2,541.3 L896.0,528.8 L890.4,515.0 L881.9,508.2 L909.7,479.1 L903.3,462.1 L901.4,448.3 L889.3,423.8 L885.4,394.3 L889.6,375.2 L887.8,347.6 L895.8,336.7 L895.8,321.2 L903.3,301.0 L887.8,283.8 L880.8,273.3 L861.5,241.7 L857.0,210.7 L861.7,190.0"/>
<path d="M867.4,584.6 L887.8,575.8 L907.2,541.3 L929.9,521.4 L948.2,504.7 L957.7,499.0 L981.4,488.8 L987.8,475.0 L1000.6,461.4 L1020.9,459.6 L1033.0,440.2 L1046.8,419.4"/>
<path d="M1041.9,741.8 L1040.0,716.5 L1030.1,697.5 L1016.0,675.0 L1004.8,653.4 L985.0,625.2 L985.2,602.3 L988.0,575.9 L997.6,548.4 L1010.7,512.3 L1026.4,485.4 L1043.2,462.2 L1046.4,438.8 L1046.8,419.4 L1044.2,411.1 L1039.1,390.6 L1044.8,372.3 L1051.3,359.8 L1070.8,342.5 L1077.3,334.9 L1084.2,325.5 L1092.7,308.8 L1103.1,297.0 L1113.8,286.9 L1130.2,281.1 L1140.4,264.6 L1143.2,248.2 L1142.6,234.2 L1143.5,227.3 L1148.6,208.9 L1152.3,189.3 L1167.5,170.0 L1165.6,145.9 L1173.9,129.3"/>
<path d="M921.1,476.4 L945.4,457.3 L968.2,442.3 L991.5,429.2 L1005.8,401.6 L1019.3,369.7 L1026.1,354.9 L1040.0,334.3 L1054.5,303.1 L1048.8,280.1 L1037.9,255.5 L1036.9,229.5 L1033.9,219.9"/>
<path d="M983.1,522.9 L981.4,488.8 L978.7,456.0 L968.2,442.3 L961.7,419.5 L949.9,405.9 L947.5,380.4 L943.6,360.4 L944.1,337.7 L939.9,330.5 L934.7,319.5"/>
<path d="M764.3,419.3 L793.1,426.4 L822.6,426.6 L861.3,421.1 L889.3,423.8 L932.0,406.8 L949.9,405.9 L977.9,416.7 L999.6,413.3 L1005.8,401.6 L1019.1,402.4 L1044.2,411.1 L1069.6,421.8 L1073.1,424.5"/>
<path d="M861.3,421.1 L885.4,394.3 L913.9,366.1 L920.7,342.9 L934.7,319.5"/>
<path d="M811.2,324.8 L818.1,331.9 L840.2,327.4 L867.8,323.0 L894.9,322.7 L916.3,325.2 L934.7,319.5 L950.9,305.5 L964.4,296.9 L984.6,271.6 L1011.4,262.7 L1037.9,255.5 L1055.8,249.9 L1087.8,254.9 L1105.3,260.4 L1114.5,263.1 L1129.3,254.8 L1143.2,248.2"/>
<path d="M1097.0,307.1 L1089.9,287.4 L1087.8,254.9 L1085.5,236.8 L1079.2,198.3 L1077.5,190.1"/>
<path d="M1113.8,286.9 L1115.5,273.2 L1114.5,263.1 L1110.0,243.3 L1108.9,220.6 L1109.0,198.4 L1103.2,183.3"/>
<path d="M1143.2,248.2 L1130.7,233.3 L1127.4,228.4 L1108.9,220.6 L1099.4,205.6 L1086.0,202.8"/>
<path d="M957.8,326.9 L974.4,342.6 L1007.8,348.2 L1040.0,334.3 L1073.7,331.5 L1077.3,334.9"/>
<path d="M1040.0,334.3 L1067.0,318.8 L1092.3,309.8"/>
<path d="M783.0,658.9 L790.3,648.8 L799.1,619.7 L811.0,590.3"/>
<path d="M852.4,554.2 L869.4,539.0 L874.8,525.8 L881.9,508.2"/>
<path d="M881.9,508.2 L854.6,489.0 L845.2,481.3 L827.3,463.9 L802.4,459.7 L793.3,442.3"/>
<path d="M1013.6,551.2 L983.1,522.9 L958.4,500.3 L941.7,484.6 L937.7,458.5"/>
<path d="M928.2,563.9 L990.4,575.5"/>
<path d="M976.0,692.7 L987.9,688.0 L999.8,672.5 L1004.8,653.4"/>
<path d="M1040.0,716.5 L1017.1,695.6 L999.8,672.5 L980.8,667.0"/>
<path d="M848.0,290.6 L871.4,294.2 L899.9,299.5"/>
<path d="M847.9,380.0 L865.0,341.3 L867.9,307.5 L871.4,294.2 L887.4,283.9 L912.7,281.6"/>
<path d="M800.7,293.0 L803.9,273.2 L796.0,253.0"/>
<path d="M800.7,293.0 L789.8,273.6 L789.7,260.5 L796.0,253.0"/>
<path d="M786.3,366.1 L784.1,341.4 L780.5,316.5 L772.3,294.8 L763.5,243.1"/>
<path d="M751.7,339.5 L773.0,360.9 L786.3,366.1 L802.7,374.7 L847.9,380.0 L885.4,394.3"/>
<path d="M737.4,391.1 L773.8,386.0 L802.7,374.7"/>
<path d="M502.5,559.4 L506.3,514.6"/>
<path d="M607.6,586.5 L580.9,554.1 L542.3,538.8 L506.3,514.6"/>
<path d="M577.8,677.6 L584.3,705.7 L603.9,722.4"/>
<path d="M603.9,722.4 L592.5,730.4 L595.6,765.9 L600.6,772.7"/>
<path d="M577.8,677.6 L551.0,729.2"/>
<path d="M146.0,529.2 L183.4,535.5 L204.3,542.3 L249.4,546.3 L271.3,550.8"/>
<path d="M266.7,534.0 L271.4,503.9 L284.7,488.0"/>
<path d="M286.3,571.9 L283.2,595.8"/>
<path d="M735.5,654.2 L723.8,624.9 L691.8,592.6 L684.2,567.4 L675.0,512.9 L679.0,486.5 L671.9,466.3 L669.2,410.1"/>
<path d="M774.0,515.6 L806.7,537.9 L852.4,554.2"/>
<path d="M964.4,296.9 L997.5,291.2 L1030.7,284.2 L1048.8,280.1 L1087.8,254.9"/>
<path d="M949.9,405.9 L979.3,364.7 L974.4,342.6 L964.4,296.9"/>
<path d="M979.3,364.7 L1004.4,359.3 L1026.1,354.9"/>
<path d="M1044.8,372.3 L1020.0,376.1"/>
<path d="M212.6,446.3 L231.1,477.8 L254.4,516.2 L266.7,534.0"/>
<path d="M609.3,449.5 L604.1,417.4"/>
</g></g>
<g class="bd">
<path d="M255.0,91.0 L237.7,159.8 L238.0,172.0"/>
<path d="M106.2,127.6 L117.8,132.8 L124.7,136.4 L125.0,137.0 L126.0,146.0 L128.0,155.0 L140.0,160.0 L155.0,162.0 L175.0,163.0 L193.0,163.0 L198.3,161.9 L217.6,166.8 L237.0,171.6"/>
<path d="M238.0,172.0 L245.0,183.0 L240.0,192.0 L233.0,200.0 L227.0,208.0 L222.0,215.0 L227.0,222.0 L209.1,279.1"/>
<path d="M64.9,238.3 L84.9,244.7 L105.0,250.9 L125.1,256.9 L145.3,262.6 L165.6,268.1 L186.0,273.4 L206.4,278.5 L226.8,283.3 L247.3,287.8 L267.9,292.2 L288.5,296.3 L309.1,300.1 L329.8,303.8"/>
<path d="M149.8,263.9 L127.6,344.4 L217.1,480.5"/>
<path d="M269.2,292.5 L263.7,319.7 L258.1,347.0 L252.5,374.3 L246.9,401.6 L241.4,428.8"/>
<path d="M241.2,428.8 L238.5,441.0 L233.0,453.0 L230.0,450.0 L222.0,450.0 L219.0,463.0 L217.0,476.0"/>
<path d="M217.0,476.0 L218.0,490.0 L223.0,501.0 L213.0,510.0 L208.0,520.0 L205.0,528.0 L208.0,540.0 L202.0,543.0"/>
<path d="M241.2,428.8 L263.4,433.2 L285.7,437.3 L308.0,441.2 L330.4,444.9 L352.8,448.3 L375.3,451.4 L397.8,454.3 L420.3,456.9 L442.9,459.3 L465.4,461.4 L488.0,463.2 L510.7,464.8 L533.3,466.1 L556.0,467.2 L578.6,468.0 L601.3,468.5 L624.0,468.8 L646.6,468.8 L669.3,468.6"/>
<path d="M366.5,337.8 L362.2,367.4 L357.8,397.0 L353.5,426.6 L349.1,456.1 L344.8,485.6 L340.5,515.1 L336.2,544.6 L331.9,574.0 L327.6,603.3"/>
<path d="M273.0,96.0 L270.0,112.0 L268.0,130.0 L272.0,140.0 L280.0,152.0 L288.0,165.0 L285.0,174.0 L283.0,183.0 L282.0,195.0 L293.0,197.0 L295.0,205.0 L297.0,213.0 L302.0,222.0 L307.0,232.0 L320.0,233.0 L333.0,232.0 L340.0,229.0 L343.5,233.0"/>
<path d="M343.8,221.6 L339.1,248.9 L334.5,276.3 L329.8,303.8 L325.2,331.2"/>
<path d="M343.8,221.6 L363.2,224.8 L382.6,227.7 L402.1,230.5 L421.6,233.0 L441.2,235.3 L460.7,237.4 L480.3,239.3"/>
<path d="M490.2,129.2 L487.8,156.6 L485.3,184.1 L482.8,211.7 L480.3,239.3 L477.9,266.9 L475.4,294.6 L472.9,322.3 L470.4,350.0"/>
<path d="M482.7,213.3 L503.3,215.0 L524.0,216.5 L544.7,217.8 L565.5,218.7 L586.2,219.5 L606.9,220.0 L627.7,220.2"/>
<path d="M475.4,294.6 L497.8,296.5 L520.3,298.1 L542.8,299.4 L565.3,300.4 L587.8,301.2 L597.3,308.3 L605.0,308.5 L612.3,306.7 L618.0,309.0 L624.0,313.3 L627.3,316.7"/>
<path d="M325.2,331.2 L345.8,334.6 L366.5,337.8 L387.2,340.7 L408.0,343.4 L428.8,345.8 L449.6,348.0 L470.4,350.0 L491.2,351.8 L512.1,353.3"/>
<path d="M512.1,353.3 L510.3,381.1 L508.4,408.9 L506.5,436.6 L504.7,464.4"/>
<path d="M510.3,381.1 L534.1,382.5 L558.0,383.7 L581.8,384.5 L605.7,385.1 L629.6,385.3 L653.5,385.3"/>
<path d="M483.6,462.9 L482.6,476.7 L471.5,600.9"/>
<path d="M482.6,476.7 L504.8,478.3 L527.1,479.7 L549.4,480.8"/>
<path d="M549.4,480.8 L547.1,534.6"/>
<path d="M387.4,592.6 L415.4,595.7 L443.4,598.5 L471.5,600.9"/>
<path d="M386.0,593.3 L387.4,592.6"/>
<path d="M547.9,539.0 L553.0,541.0 L558.0,545.0 L565.0,545.0 L572.0,549.0 L578.8,549.0 L586.0,553.0 L592.0,553.0 L598.6,556.3 L606.0,557.0 L613.5,556.3 L623.0,557.0 L633.3,555.1 L640.0,556.0 L648.1,553.9 L658.0,555.1 L666.0,557.0 L674.1,558.8 L679.0,561.0 L684.0,563.0"/>
<path d="M684.0,563.0 L684.0,579.3 L685.0,606.7 L689.0,613.0 L693.3,620.0 L695.5,630.0 L696.7,640.0 L695.0,652.0 L693.3,663.3"/>
<path d="M684.7,579.2 L718.3,578.2 L751.9,576.6"/>
<path d="M669.5,482.5 L672.9,501.9 L673.5,530.0 L674.1,558.8"/>
<path d="M669.5,482.5 L694.5,481.9 L719.4,481.0 L744.4,479.9 L769.3,478.4 L765.2,492.5 L780.3,491.5"/>
<path d="M669.3,468.6 L668.8,439.4 L668.4,410.2 L665.0,407.5 L657.5,400.0 L660.0,392.5 L652.5,387.0"/>
<path d="M627.3,316.7 L629.0,322.0 L632.5,327.5 L635.0,335.0 L637.5,342.5 L640.0,352.5 L641.0,360.0 L642.5,367.5 L645.0,373.0 L647.5,377.5 L652.5,387.0"/>
<path d="M643.8,370.0 L647.1,369.2 L674.2,368.8 L701.4,368.1 L728.5,367.0 L735.0,375.0 L736.3,381.0"/>
<path d="M629.5,287.9 L650.6,287.9 L671.7,287.6 L692.7,287.1 L713.8,286.3 L734.8,285.3"/>
<path d="M626.7,222.7 L622.3,231.7 L629.0,240.0 L629.7,246.3 L629.5,287.9 L627.0,297.0 L625.7,303.3 L627.3,316.7"/>
<path d="M615.8,135.7 L617.0,150.0 L617.3,163.3 L620.0,175.0 L622.3,186.7 L624.0,196.7 L625.0,210.0 L626.7,222.7"/>
<path d="M713.4,198.5 L712.0,206.0 L709.0,213.3 L704.0,222.0 L699.0,230.0 L700.0,242.0 L704.0,253.3 L713.0,262.0 L724.0,270.0 L729.0,279.0 L732.3,287.7 L734.0,296.0 L737.3,303.3 L743.0,310.0 L750.7,316.7 L755.0,323.0 L757.3,330.0 L755.0,337.0 L752.0,343.0 L748.0,350.0 L741.0,357.0 L737.0,366.0 L735.0,375.0 L736.3,381.0 L737.0,390.0 L741.0,398.0 L748.0,405.0 L755.0,410.0 L761.0,414.0 L764.0,420.0 L763.0,428.0 L767.0,436.0 L773.0,443.0 L778.0,449.0 L781.0,457.0 L783.0,463.0"/>
<path d="M783.0,463.0 L781.0,470.0 L779.0,478.0 L776.0,486.0 L772.0,493.0 L769.0,501.0 L771.0,508.0 L766.0,516.0 L763.0,524.0 L759.0,532.0 L755.0,540.0 L751.0,548.0 L750.0,560.0 L751.7,576.7 L754.0,587.0 L756.7,596.7 L753.0,604.0 L750.0,610.0 L746.0,619.0 L743.3,626.7 L744.0,633.3"/>
<path d="M744.0,633.3 L766.0,632.0 L788.3,631.0 L790.0,640.0 L795.0,651.7"/>
<path d="M748.2,312.4 L777.2,310.4 L806.1,307.9"/>
<path d="M745.1,201.5 L756.0,205.5 L767.3,210.0 L777.0,212.0 L787.3,213.3 L792.0,219.0 L797.3,226.7 L797.0,232.0 L801.9,237.7"/>
<path d="M813.6,327.9 L816.8,361.3 L820.0,394.7 L819.4,404.5 L821.8,413.3 L817.6,420.1 L814.6,429.3 L813.2,438.6"/>
<path d="M869.5,323.3 L874.1,359.2 L878.6,395.2"/>
<path d="M820.4,327.2 L845.1,324.6 L869.7,321.6 L897.5,318.7"/>
<path d="M962.7,339.1 L961.7,346.0 L961.4,357.4 L960.3,366.1 L954.1,374.2 L947.3,379.5 L943.4,388.6 L937.4,392.4 L936.6,401.0 L928.9,407.8 L922.7,403.1 L918.8,399.5 L911.7,403.3 L904.2,404.4 L893.0,401.7 L885.4,394.3 L878.6,395.2 L879.0,403.5 L873.8,405.6 L867.1,413.4 L861.5,421.1 L856.9,428.6 L846.1,431.2 L835.5,435.1 L822.3,435.0 L813.2,438.6 L812.5,448.5 L805.6,457.5 L795.8,459.7 L790.9,463.4"/>
<path d="M783.7,477.3 L816.0,474.7 L815.7,471.1 L912.6,460.8 L956.7,454.4 L993.8,449.1 L1084.1,430.5"/>
<path d="M956.7,454.4 L956.9,461.1 L950.7,469.2 L939.1,475.2 L926.6,482.7 L918.4,489.4 L910.4,497.5 L904.3,506.8"/>
<path d="M768.6,520.1 L792.0,518.5 L815.3,516.6 L838.6,514.4 L861.9,511.9 L885.2,509.2 L908.4,506.2 L931.6,503.0"/>
<path d="M816.3,516.5 L818.9,519.0 L817.8,585.8 L819.6,627.2 L823.0,646.2"/>
<path d="M875.3,510.4 L882.7,537.4 L892.0,567.8 L898.3,580.1 L897.2,594.1 L899.6,607.7 L902.6,618.5 L906.9,626.0"/>
<path d="M844.7,644.2 L840.8,629.4 L840.5,625.3 L902.6,618.5"/>
<path d="M906.9,626.0 L970.8,620.8 L972.4,626.4 L975.9,624.7 L975.1,615.1 L988.3,614.1"/>
<path d="M931.6,503.0 L927.4,512.0 L938.6,517.3 L948.4,528.5 L963.1,540.2 L976.9,552.0 L984.9,564.6 L995.9,575.6"/>
<path d="M931.6,503.0 L949.0,494.7 L977.3,490.1 L980.2,492.4 L984.4,499.6 L1010.0,495.6 L1040.5,516.5"/>
<path d="M970.1,291.6 L971.5,299.0 L1060.2,280.3 L1065.4,283.4 L1069.1,289.7 L1077.9,294.4 L1096.3,300.1"/>
<path d="M954.6,293.6 L967.1,364.3 L1065.9,344.2 L1069.1,340.0 L1073.5,340.1"/>
<path d="M1077.9,294.4 L1071.9,307.6 L1072.9,318.2 L1085.4,327.5 L1078.1,334.7 L1073.5,340.1 L1072.3,349.0"/>
<path d="M1065.9,344.2 L1075.7,377.9 L1089.6,374.9"/>
<path d="M988.9,360.3 L991.6,374.6 L1013.0,363.3 L1015.8,355.6 L1023.7,356.9 L1028.0,363.9 L1033.9,368.9 L1044.8,372.3 L1042.2,387.1 L1049.1,388.5 L1065.9,393.3"/>
<path d="M1028.0,363.9 L1017.0,372.4 L1007.0,382.9 L1000.4,394.1 L992.1,397.1 L986.9,410.8 L982.6,424.3 L964.0,433.2 L953.5,437.7 L945.7,430.5 L932.9,419.9 L928.9,407.8"/>
<path d="M945.7,430.5 L940.4,439.8 L926.4,450.4 L912.6,460.8"/>
<path d="M1079.4,189.6 L1082.9,203.1 L1088.3,227.5 L1091.5,228.1 L1096.8,249.7 L1097.3,269.7 L1101.3,290.2 L1099.3,296.5 L1101.4,298.8"/>
<path d="M1114.6,180.1 L1116.6,191.0 L1114.1,200.4 L1111.3,212.7 L1108.7,222.1 L1110.4,236.0 L1112.9,246.0"/>
<path d="M1096.8,249.7 L1135.7,239.7 L1138.9,236.1 L1144.0,233.2"/>
<path d="M1097.3,269.7 L1131.1,261.2 L1139.6,259.4 L1142.5,266.1 L1148.4,271.6"/>
<path d="M1131.2,261.7 L1136.4,280.2"/>
<path d="M1120.2,169.8 L1127.3,190.9 L1135.2,214.6 L1144.1,226.5"/>
</g>
<clipPath id="darkclip"><path d="M1099.0,309.0 L1103.0,304.0 L1112.0,299.0 L1120.0,295.0 L1124.0,296.0 L1118.0,303.0 L1108.0,308.5 L1101.0,312.0Z M575.7,503.0 L580.0,493.0 L585.7,483.0 L593.0,478.0 L600.7,474.7 L606.5,470.0 L613.0,472.4 L620.5,470.7 L621.4,476.5 L618.0,483.0 L623.8,490.0 L624.7,512.8 L614.8,513.6 L606.5,512.8 L596.6,514.5 L590.0,512.8 L580.7,508.0Z M644.0,499.0 L650.0,496.5 L694.0,496.5 L692.0,501.0 L686.0,505.0 L679.0,508.0 L670.0,507.0 L661.0,507.5 L652.0,505.0 L646.0,502.0Z M803.2,448.8 L809.8,440.6 L816.4,432.3 L823.0,425.7 L829.6,419.1 L832.9,422.4 L836.2,429.0 L842.8,430.7 L847.8,427.4 L856.0,422.4 L862.6,419.1 L880.0,417.5 L895.6,419.1 L898.9,424.1 L895.6,429.0 L885.7,434.0 L872.5,435.6 L859.3,435.6 L849.4,437.3 L844.5,432.3 L839.5,438.9 L832.9,437.3 L828.0,432.3 L819.7,438.9 L813.1,445.5 L806.5,450.5Z M834.6,415.0 L838.0,413.5 L841.2,415.0 L839.0,417.5 L835.5,417.5Z M1032.9,243.8 L1039.0,233.8 L1049.0,240.0 L1054.0,247.5 L1064.0,237.5 L1074.0,240.0 L1084.0,237.5 L1091.5,245.0 L1096.5,250.0 L1096.5,240.0 L1106.5,240.0 L1114.0,235.0 L1126.5,232.5 L1134.0,227.5 L1142.8,226.3 L1141.5,235.0 L1134.0,240.0 L1121.5,242.5 L1104.0,247.5 L1099.0,250.0 L1104.0,260.0 L1104.0,267.5 L1109.0,275.0 L1116.5,277.5 L1131.5,273.8 L1131.5,280.0 L1121.5,287.5 L1109.0,295.0 L1101.5,302.5 L1100.0,307.5 L1099.0,317.5 L1094.0,330.0 L1084.0,337.5 L1074.0,342.5 L1069.0,347.5 L1064.0,342.5 L1059.2,334.1 L1049.0,345.0 L1039.0,352.5 L1029.0,360.0 L1021.5,365.0 L1014.0,362.5 L1009.0,370.0 L1001.5,365.0 L996.5,375.0 L991.5,367.5 L984.0,362.5 L974.8,364.7 L964.9,363.0 L960.0,369.6 L951.7,372.9 L941.8,374.6 L933.6,376.2 L928.6,382.8 L922.0,387.8 L912.1,391.0 L902.2,392.7 L892.3,397.7 L889.0,396.0 L895.6,386.1 L905.5,379.5 L915.4,374.6 L927.0,368.0 L938.5,366.3 L943.5,359.7 L953.4,353.1 L960.0,348.2 L963.9,342.9 L971.4,340.4 L968.9,330.3 L973.9,325.3 L980.2,316.5 L986.5,309.0 L992.7,302.7 L999.0,296.5 L992.7,291.4 L985.2,290.2 L980.2,291.4 L980.2,286.4 L985.2,281.4 L990.2,275.0 L986.5,271.4 L984.0,265.0 L986.5,260.0 L997.8,257.0 L1011.6,256.3 L1024.1,252.5Z M1092.8,218.8 L1099.0,217.5 L1101.5,225.0 L1106.5,230.0 L1104.0,235.0 L1095.3,233.8 L1096.5,226.3Z M979.0,406.0 L986.0,399.0 L989.0,400.0 L982.0,407.5Z M989.0,416.0 L998.0,402.0 L1001.0,403.0 L992.0,417.0Z M999.0,421.0 L1008.0,407.0 L1011.0,408.0 L1002.0,422.0Z M396.8,392.8 L402.0,392.1 L406.0,398.1 L404.7,402.0 L399.4,403.4 L396.8,407.3 L391.5,408.6 L390.2,403.4 L395.4,400.7Z M411.3,385.5 L414.6,385.5 L415.2,392.8 L411.9,394.1Z M416.6,378.3 L419.2,377.6 L421.8,383.6 L419.9,384.9Z M432.4,368.4 L435.0,368.4 L435.0,374.3 L432.4,379.6 L429.8,378.9 L431.7,373.7Z M413.3,410.6 L416.6,411.3 L417.9,416.6 L414.6,417.2Z M369.7,410.0 L372.3,410.0 L375.6,413.9 L373.7,415.2Z M380.3,423.8 L382.9,423.8 L382.9,427.8 L380.3,427.8Z M424.5,422.5 L427.1,421.8 L432.4,432.4 L431.1,435.0 L427.1,429.8Z M429.8,441.0 L433.7,441.0 L433.7,443.6 L429.8,443.6Z M434.4,448.3 L437.7,448.9 L437.0,456.2 L433.7,456.8Z M394.8,438.3 L402.0,439.0 L407.3,444.3 L410.0,453.5 L411.3,460.0 L402.0,460.0 L399.4,449.6 L395.4,444.3Z M393.8,437.5 L405.0,440.0 L410.0,457.5 L412.5,470.0 L407.5,472.5 L402.5,460.0 L396.3,447.5Z M416.3,495.0 L420.0,482.5 L427.5,475.0 L430.0,467.5 L427.5,462.5 L423.8,472.5 L420.0,480.0 L416.3,487.5Z M433.8,447.5 L436.5,447.0 L437.5,457.5 L434.5,457.0Z M393.8,477.5 L402.5,480.0 L405.0,487.5 L397.5,490.0 L393.8,485.0Z M322.0,527.5 L325.0,526.5 L327.5,529.0 L326.5,532.5 L323.0,532.0Z"/></clipPath>
<clipPath id="midclip"><path d="M482.5,517.5 L490.0,512.5 L505.0,500.0 L510.0,490.0 L520.0,480.0 L530.0,472.5 L522.5,465.0 L532.5,452.5 L540.0,442.5 L542.5,430.0 L536.3,417.5 L545.0,410.0 L550.0,406.3 L560.0,400.0 L580.0,401.3 L595.0,400.0 L610.0,405.0 L630.0,406.3 L650.0,402.5 L655.0,405.0 L665.0,407.5 L672.5,397.5 L682.5,391.3 L700.0,392.5 L714.0,393.0 L737.3,398.0 L757.3,399.7 L774.0,393.0 L790.7,384.7 L808.0,378.0 L817.5,377.5 L830.0,372.5 L845.0,365.0 L855.0,357.5 L865.0,350.0 L877.5,342.5 L892.5,335.0 L900.0,330.0 L907.5,326.0 L905.0,318.0 L940.0,300.0 L975.0,275.0 L975.0,262.0 L1000.0,250.0 L1025.0,235.0 L1025.0,226.0 L1029.0,226.3 L1036.5,213.8 L1049.0,206.3 L1064.0,202.5 L1074.0,201.3 L1079.0,197.5 L1089.0,192.5 L1095.0,188.8 L1101.5,195.0 L1106.5,200.0 L1111.5,202.5 L1116.5,197.5 L1121.5,200.0 L1126.5,195.0 L1134.0,190.0 L1144.0,186.3 L1152.8,187.5 L1159.0,190.0 L1166.5,190.0 L1180.0,186.0 L1205.0,200.0 L1205.0,275.0 L1130.0,320.0 L1105.0,380.0 L1090.0,400.0 L1081.5,400.0 L1071.5,405.0 L1059.0,402.5 L1049.0,405.0 L1039.0,410.0 L1029.0,420.0 L1019.0,427.5 L1009.0,432.5 L999.0,437.5 L989.0,440.0 L985.0,446.3 L978.0,438.0 L967.0,431.0 L955.0,429.0 L945.0,430.0 L932.0,431.5 L920.0,436.0 L910.0,443.5 L899.0,452.5 L885.0,460.5 L867.0,465.0 L852.0,469.0 L837.0,473.0 L822.0,478.0 L805.0,485.0 L790.0,491.0 L771.0,501.0 L755.0,508.5 L738.0,514.0 L720.0,518.5 L697.0,520.0 L677.0,526.0 L657.0,529.5 L638.0,528.0 L620.0,533.0 L597.3,539.7 L580.7,539.7 L564.0,543.0 L550.7,539.7 L544.0,546.3 L537.3,551.3 L527.3,556.3 L517.3,566.3 L504.0,569.7 L497.3,563.0 L490.0,560.0 L476.3,563.5 L477.5,540.0 L480.0,525.0Z M415.0,497.5 L430.0,501.3 L447.5,502.5 L460.0,498.8 L470.0,500.0 L477.5,495.0 L480.0,498.0 L481.0,514.0 L477.5,512.0 L470.0,518.8 L466.3,513.8 L462.5,522.5 L450.0,527.5 L442.5,530.0 L440.0,537.5 L430.0,538.8 L425.0,542.5 L422.5,550.0 L415.0,551.3 L412.5,540.0 L413.8,520.0 L413.8,505.0Z M412.0,353.2 L415.9,351.2 L414.6,365.1 L412.0,366.4Z M429.8,354.5 L435.0,359.8 L437.7,369.0 L436.4,378.3 L431.1,380.9 L424.5,378.3 L419.2,375.6 L415.2,378.3 L421.8,383.6 L432.4,386.2 L425.8,392.8 L420.5,398.1 L416.6,392.8 L413.9,387.5 L408.6,384.9 L403.4,386.2 L400.7,382.2 L392.8,375.6 L395.4,369.0 L403.4,367.1 L402.0,377.0 L410.0,379.6 L419.2,373.0 L427.1,371.7 L429.8,366.4 L427.8,363.8Z M375.6,395.4 L383.6,390.2 L395.4,386.2 L398.1,392.8 L402.0,391.5 L408.6,395.4 L413.9,402.0 L416.6,410.0 L419.2,419.2 L413.9,420.5 L410.0,415.2 L406.0,408.6 L400.7,406.0 L395.4,408.6 L390.2,408.6 L386.2,413.9 L390.2,419.2 L388.8,425.8 L391.5,432.4 L390.2,441.7 L383.6,440.3 L378.3,441.7 L371.7,440.3 L366.4,431.1 L367.7,424.5 L375.6,421.8 L379.6,417.9 L375.6,415.2 L370.4,410.0 L363.8,403.4 L366.4,402.0 L373.0,407.3 L382.2,413.9 L386.2,410.0 L390.2,402.0 L392.8,398.1 L384.9,396.8 L378.3,398.7Z M421.8,417.9 L425.8,421.8 L431.1,427.1 L437.7,428.4 L443.0,433.7 L441.7,441.7 L439.0,449.6 L437.7,456.2 L432.4,456.2 L431.1,448.3 L432.4,440.3 L429.8,435.0 L425.8,429.8 L423.2,423.2Z M394.1,437.7 L402.0,437.7 L408.6,441.7 L411.3,449.6 L411.3,460.0 L392.8,460.0 L396.8,453.5 L395.4,445.6Z M396.8,424.5 L406.0,428.4 L407.3,432.4 L402.0,433.7Z M350.6,404.7 L353.9,404.7 L353.9,408.6 L350.6,408.6Z M363.8,402.5 L370.0,415.0 L366.3,427.5 L370.0,437.5 L385.0,440.0 L392.5,432.5 L390.0,420.0 L380.0,415.0 L372.5,405.0Z M390.0,435.0 L410.0,437.5 L416.3,457.5 L417.5,472.5 L410.0,475.0 L405.0,482.5 L410.0,490.0 L402.5,492.5 L392.5,487.5 L390.0,475.0 L395.0,465.0 L390.0,455.0 L392.5,445.0Z M415.0,497.5 L417.5,480.0 L425.0,462.5 L430.0,442.5 L422.5,420.0 L427.5,417.5 L437.5,430.0 L443.8,437.5 L440.0,450.0 L437.5,462.5 L432.5,475.0 L427.5,485.0 L425.0,497.5Z M320.0,525.0 L324.0,521.0 L330.0,525.0 L332.5,532.0 L329.0,537.0 L322.5,534.0Z M337.5,475.0 L341.0,474.0 L342.5,487.5 L338.0,488.0Z M344.0,460.0 L346.0,459.0 L350.0,474.0 L348.0,475.0Z M352.5,492.5 L356.0,492.0 L362.5,500.0 L360.0,503.0 L355.0,499.0Z M374.0,499.0 L379.0,495.0 L381.0,497.0 L376.0,501.0Z M400.0,500.0 L404.0,499.0 L410.0,518.0 L407.0,520.0Z M834.0,190.0 L840.0,188.0 L841.0,192.0 L835.0,193.0Z"/></clipPath>
<g clip-path="url(#landclip)"><g class="bd" clip-path="url(#midclip)" style="stroke:#9a8f90">
<path d="M255.0,91.0 L237.7,159.8 L238.0,172.0"/>
<path d="M106.2,127.6 L117.8,132.8 L124.7,136.4 L125.0,137.0 L126.0,146.0 L128.0,155.0 L140.0,160.0 L155.0,162.0 L175.0,163.0 L193.0,163.0 L198.3,161.9 L217.6,166.8 L237.0,171.6"/>
<path d="M238.0,172.0 L245.0,183.0 L240.0,192.0 L233.0,200.0 L227.0,208.0 L222.0,215.0 L227.0,222.0 L209.1,279.1"/>
<path d="M64.9,238.3 L84.9,244.7 L105.0,250.9 L125.1,256.9 L145.3,262.6 L165.6,268.1 L186.0,273.4 L206.4,278.5 L226.8,283.3 L247.3,287.8 L267.9,292.2 L288.5,296.3 L309.1,300.1 L329.8,303.8"/>
<path d="M149.8,263.9 L127.6,344.4 L217.1,480.5"/>
<path d="M269.2,292.5 L263.7,319.7 L258.1,347.0 L252.5,374.3 L246.9,401.6 L241.4,428.8"/>
<path d="M241.2,428.8 L238.5,441.0 L233.0,453.0 L230.0,450.0 L222.0,450.0 L219.0,463.0 L217.0,476.0"/>
<path d="M217.0,476.0 L218.0,490.0 L223.0,501.0 L213.0,510.0 L208.0,520.0 L205.0,528.0 L208.0,540.0 L202.0,543.0"/>
<path d="M241.2,428.8 L263.4,433.2 L285.7,437.3 L308.0,441.2 L330.4,444.9 L352.8,448.3 L375.3,451.4 L397.8,454.3 L420.3,456.9 L442.9,459.3 L465.4,461.4 L488.0,463.2 L510.7,464.8 L533.3,466.1 L556.0,467.2 L578.6,468.0 L601.3,468.5 L624.0,468.8 L646.6,468.8 L669.3,468.6"/>
<path d="M366.5,337.8 L362.2,367.4 L357.8,397.0 L353.5,426.6 L349.1,456.1 L344.8,485.6 L340.5,515.1 L336.2,544.6 L331.9,574.0 L327.6,603.3"/>
<path d="M273.0,96.0 L270.0,112.0 L268.0,130.0 L272.0,140.0 L280.0,152.0 L288.0,165.0 L285.0,174.0 L283.0,183.0 L282.0,195.0 L293.0,197.0 L295.0,205.0 L297.0,213.0 L302.0,222.0 L307.0,232.0 L320.0,233.0 L333.0,232.0 L340.0,229.0 L343.5,233.0"/>
<path d="M343.8,221.6 L339.1,248.9 L334.5,276.3 L329.8,303.8 L325.2,331.2"/>
<path d="M343.8,221.6 L363.2,224.8 L382.6,227.7 L402.1,230.5 L421.6,233.0 L441.2,235.3 L460.7,237.4 L480.3,239.3"/>
<path d="M490.2,129.2 L487.8,156.6 L485.3,184.1 L482.8,211.7 L480.3,239.3 L477.9,266.9 L475.4,294.6 L472.9,322.3 L470.4,350.0"/>
<path d="M482.7,213.3 L503.3,215.0 L524.0,216.5 L544.7,217.8 L565.5,218.7 L586.2,219.5 L606.9,220.0 L627.7,220.2"/>
<path d="M475.4,294.6 L497.8,296.5 L520.3,298.1 L542.8,299.4 L565.3,300.4 L587.8,301.2 L597.3,308.3 L605.0,308.5 L612.3,306.7 L618.0,309.0 L624.0,313.3 L627.3,316.7"/>
<path d="M325.2,331.2 L345.8,334.6 L366.5,337.8 L387.2,340.7 L408.0,343.4 L428.8,345.8 L449.6,348.0 L470.4,350.0 L491.2,351.8 L512.1,353.3"/>
<path d="M512.1,353.3 L510.3,381.1 L508.4,408.9 L506.5,436.6 L504.7,464.4"/>
<path d="M510.3,381.1 L534.1,382.5 L558.0,383.7 L581.8,384.5 L605.7,385.1 L629.6,385.3 L653.5,385.3"/>
<path d="M483.6,462.9 L482.6,476.7 L471.5,600.9"/>
<path d="M482.6,476.7 L504.8,478.3 L527.1,479.7 L549.4,480.8"/>
<path d="M549.4,480.8 L547.1,534.6"/>
<path d="M387.4,592.6 L415.4,595.7 L443.4,598.5 L471.5,600.9"/>
<path d="M386.0,593.3 L387.4,592.6"/>
<path d="M547.9,539.0 L553.0,541.0 L558.0,545.0 L565.0,545.0 L572.0,549.0 L578.8,549.0 L586.0,553.0 L592.0,553.0 L598.6,556.3 L606.0,557.0 L613.5,556.3 L623.0,557.0 L633.3,555.1 L640.0,556.0 L648.1,553.9 L658.0,555.1 L666.0,557.0 L674.1,558.8 L679.0,561.0 L684.0,563.0"/>
<path d="M684.0,563.0 L684.0,579.3 L685.0,606.7 L689.0,613.0 L693.3,620.0 L695.5,630.0 L696.7,640.0 L695.0,652.0 L693.3,663.3"/>
<path d="M684.7,579.2 L718.3,578.2 L751.9,576.6"/>
<path d="M669.5,482.5 L672.9,501.9 L673.5,530.0 L674.1,558.8"/>
<path d="M669.5,482.5 L694.5,481.9 L719.4,481.0 L744.4,479.9 L769.3,478.4 L765.2,492.5 L780.3,491.5"/>
<path d="M669.3,468.6 L668.8,439.4 L668.4,410.2 L665.0,407.5 L657.5,400.0 L660.0,392.5 L652.5,387.0"/>
<path d="M627.3,316.7 L629.0,322.0 L632.5,327.5 L635.0,335.0 L637.5,342.5 L640.0,352.5 L641.0,360.0 L642.5,367.5 L645.0,373.0 L647.5,377.5 L652.5,387.0"/>
<path d="M643.8,370.0 L647.1,369.2 L674.2,368.8 L701.4,368.1 L728.5,367.0 L735.0,375.0 L736.3,381.0"/>
<path d="M629.5,287.9 L650.6,287.9 L671.7,287.6 L692.7,287.1 L713.8,286.3 L734.8,285.3"/>
<path d="M626.7,222.7 L622.3,231.7 L629.0,240.0 L629.7,246.3 L629.5,287.9 L627.0,297.0 L625.7,303.3 L627.3,316.7"/>
<path d="M615.8,135.7 L617.0,150.0 L617.3,163.3 L620.0,175.0 L622.3,186.7 L624.0,196.7 L625.0,210.0 L626.7,222.7"/>
<path d="M713.4,198.5 L712.0,206.0 L709.0,213.3 L704.0,222.0 L699.0,230.0 L700.0,242.0 L704.0,253.3 L713.0,262.0 L724.0,270.0 L729.0,279.0 L732.3,287.7 L734.0,296.0 L737.3,303.3 L743.0,310.0 L750.7,316.7 L755.0,323.0 L757.3,330.0 L755.0,337.0 L752.0,343.0 L748.0,350.0 L741.0,357.0 L737.0,366.0 L735.0,375.0 L736.3,381.0 L737.0,390.0 L741.0,398.0 L748.0,405.0 L755.0,410.0 L761.0,414.0 L764.0,420.0 L763.0,428.0 L767.0,436.0 L773.0,443.0 L778.0,449.0 L781.0,457.0 L783.0,463.0"/>
<path d="M783.0,463.0 L781.0,470.0 L779.0,478.0 L776.0,486.0 L772.0,493.0 L769.0,501.0 L771.0,508.0 L766.0,516.0 L763.0,524.0 L759.0,532.0 L755.0,540.0 L751.0,548.0 L750.0,560.0 L751.7,576.7 L754.0,587.0 L756.7,596.7 L753.0,604.0 L750.0,610.0 L746.0,619.0 L743.3,626.7 L744.0,633.3"/>
<path d="M744.0,633.3 L766.0,632.0 L788.3,631.0 L790.0,640.0 L795.0,651.7"/>
<path d="M748.2,312.4 L777.2,310.4 L806.1,307.9"/>
<path d="M745.1,201.5 L756.0,205.5 L767.3,210.0 L777.0,212.0 L787.3,213.3 L792.0,219.0 L797.3,226.7 L797.0,232.0 L801.9,237.7"/>
<path d="M813.6,327.9 L816.8,361.3 L820.0,394.7 L819.4,404.5 L821.8,413.3 L817.6,420.1 L814.6,429.3 L813.2,438.6"/>
<path d="M869.5,323.3 L874.1,359.2 L878.6,395.2"/>
<path d="M820.4,327.2 L845.1,324.6 L869.7,321.6 L897.5,318.7"/>
<path d="M962.7,339.1 L961.7,346.0 L961.4,357.4 L960.3,366.1 L954.1,374.2 L947.3,379.5 L943.4,388.6 L937.4,392.4 L936.6,401.0 L928.9,407.8 L922.7,403.1 L918.8,399.5 L911.7,403.3 L904.2,404.4 L893.0,401.7 L885.4,394.3 L878.6,395.2 L879.0,403.5 L873.8,405.6 L867.1,413.4 L861.5,421.1 L856.9,428.6 L846.1,431.2 L835.5,435.1 L822.3,435.0 L813.2,438.6 L812.5,448.5 L805.6,457.5 L795.8,459.7 L790.9,463.4"/>
<path d="M783.7,477.3 L816.0,474.7 L815.7,471.1 L912.6,460.8 L956.7,454.4 L993.8,449.1 L1084.1,430.5"/>
<path d="M956.7,454.4 L956.9,461.1 L950.7,469.2 L939.1,475.2 L926.6,482.7 L918.4,489.4 L910.4,497.5 L904.3,506.8"/>
<path d="M768.6,520.1 L792.0,518.5 L815.3,516.6 L838.6,514.4 L861.9,511.9 L885.2,509.2 L908.4,506.2 L931.6,503.0"/>
<path d="M816.3,516.5 L818.9,519.0 L817.8,585.8 L819.6,627.2 L823.0,646.2"/>
<path d="M875.3,510.4 L882.7,537.4 L892.0,567.8 L898.3,580.1 L897.2,594.1 L899.6,607.7 L902.6,618.5 L906.9,626.0"/>
<path d="M844.7,644.2 L840.8,629.4 L840.5,625.3 L902.6,618.5"/>
<path d="M906.9,626.0 L970.8,620.8 L972.4,626.4 L975.9,624.7 L975.1,615.1 L988.3,614.1"/>
<path d="M931.6,503.0 L927.4,512.0 L938.6,517.3 L948.4,528.5 L963.1,540.2 L976.9,552.0 L984.9,564.6 L995.9,575.6"/>
<path d="M931.6,503.0 L949.0,494.7 L977.3,490.1 L980.2,492.4 L984.4,499.6 L1010.0,495.6 L1040.5,516.5"/>
<path d="M970.1,291.6 L971.5,299.0 L1060.2,280.3 L1065.4,283.4 L1069.1,289.7 L1077.9,294.4 L1096.3,300.1"/>
<path d="M954.6,293.6 L967.1,364.3 L1065.9,344.2 L1069.1,340.0 L1073.5,340.1"/>
<path d="M1077.9,294.4 L1071.9,307.6 L1072.9,318.2 L1085.4,327.5 L1078.1,334.7 L1073.5,340.1 L1072.3,349.0"/>
<path d="M1065.9,344.2 L1075.7,377.9 L1089.6,374.9"/>
<path d="M988.9,360.3 L991.6,374.6 L1013.0,363.3 L1015.8,355.6 L1023.7,356.9 L1028.0,363.9 L1033.9,368.9 L1044.8,372.3 L1042.2,387.1 L1049.1,388.5 L1065.9,393.3"/>
<path d="M1028.0,363.9 L1017.0,372.4 L1007.0,382.9 L1000.4,394.1 L992.1,397.1 L986.9,410.8 L982.6,424.3 L964.0,433.2 L953.5,437.7 L945.7,430.5 L932.9,419.9 L928.9,407.8"/>
<path d="M945.7,430.5 L940.4,439.8 L926.4,450.4 L912.6,460.8"/>
<path d="M1079.4,189.6 L1082.9,203.1 L1088.3,227.5 L1091.5,228.1 L1096.8,249.7 L1097.3,269.7 L1101.3,290.2 L1099.3,296.5 L1101.4,298.8"/>
<path d="M1114.6,180.1 L1116.6,191.0 L1114.1,200.4 L1111.3,212.7 L1108.7,222.1 L1110.4,236.0 L1112.9,246.0"/>
<path d="M1096.8,249.7 L1135.7,239.7 L1138.9,236.1 L1144.0,233.2"/>
<path d="M1097.3,269.7 L1131.1,261.2 L1139.6,259.4 L1142.5,266.1 L1148.4,271.6"/>
<path d="M1131.2,261.7 L1136.4,280.2"/>
<path d="M1120.2,169.8 L1127.3,190.9 L1135.2,214.6 L1144.1,226.5"/>
</g></g>
<g clip-path="url(#landclip)"><g class="bd" clip-path="url(#darkclip)" style="stroke:#a98f8d">
<path d="M255.0,91.0 L237.7,159.8 L238.0,172.0"/>
<path d="M106.2,127.6 L117.8,132.8 L124.7,136.4 L125.0,137.0 L126.0,146.0 L128.0,155.0 L140.0,160.0 L155.0,162.0 L175.0,163.0 L193.0,163.0 L198.3,161.9 L217.6,166.8 L237.0,171.6"/>
<path d="M238.0,172.0 L245.0,183.0 L240.0,192.0 L233.0,200.0 L227.0,208.0 L222.0,215.0 L227.0,222.0 L209.1,279.1"/>
<path d="M64.9,238.3 L84.9,244.7 L105.0,250.9 L125.1,256.9 L145.3,262.6 L165.6,268.1 L186.0,273.4 L206.4,278.5 L226.8,283.3 L247.3,287.8 L267.9,292.2 L288.5,296.3 L309.1,300.1 L329.8,303.8"/>
<path d="M149.8,263.9 L127.6,344.4 L217.1,480.5"/>
<path d="M269.2,292.5 L263.7,319.7 L258.1,347.0 L252.5,374.3 L246.9,401.6 L241.4,428.8"/>
<path d="M241.2,428.8 L238.5,441.0 L233.0,453.0 L230.0,450.0 L222.0,450.0 L219.0,463.0 L217.0,476.0"/>
<path d="M217.0,476.0 L218.0,490.0 L223.0,501.0 L213.0,510.0 L208.0,520.0 L205.0,528.0 L208.0,540.0 L202.0,543.0"/>
<path d="M241.2,428.8 L263.4,433.2 L285.7,437.3 L308.0,441.2 L330.4,444.9 L352.8,448.3 L375.3,451.4 L397.8,454.3 L420.3,456.9 L442.9,459.3 L465.4,461.4 L488.0,463.2 L510.7,464.8 L533.3,466.1 L556.0,467.2 L578.6,468.0 L601.3,468.5 L624.0,468.8 L646.6,468.8 L669.3,468.6"/>
<path d="M366.5,337.8 L362.2,367.4 L357.8,397.0 L353.5,426.6 L349.1,456.1 L344.8,485.6 L340.5,515.1 L336.2,544.6 L331.9,574.0 L327.6,603.3"/>
<path d="M273.0,96.0 L270.0,112.0 L268.0,130.0 L272.0,140.0 L280.0,152.0 L288.0,165.0 L285.0,174.0 L283.0,183.0 L282.0,195.0 L293.0,197.0 L295.0,205.0 L297.0,213.0 L302.0,222.0 L307.0,232.0 L320.0,233.0 L333.0,232.0 L340.0,229.0 L343.5,233.0"/>
<path d="M343.8,221.6 L339.1,248.9 L334.5,276.3 L329.8,303.8 L325.2,331.2"/>
<path d="M343.8,221.6 L363.2,224.8 L382.6,227.7 L402.1,230.5 L421.6,233.0 L441.2,235.3 L460.7,237.4 L480.3,239.3"/>
<path d="M490.2,129.2 L487.8,156.6 L485.3,184.1 L482.8,211.7 L480.3,239.3 L477.9,266.9 L475.4,294.6 L472.9,322.3 L470.4,350.0"/>
<path d="M482.7,213.3 L503.3,215.0 L524.0,216.5 L544.7,217.8 L565.5,218.7 L586.2,219.5 L606.9,220.0 L627.7,220.2"/>
<path d="M475.4,294.6 L497.8,296.5 L520.3,298.1 L542.8,299.4 L565.3,300.4 L587.8,301.2 L597.3,308.3 L605.0,308.5 L612.3,306.7 L618.0,309.0 L624.0,313.3 L627.3,316.7"/>
<path d="M325.2,331.2 L345.8,334.6 L366.5,337.8 L387.2,340.7 L408.0,343.4 L428.8,345.8 L449.6,348.0 L470.4,350.0 L491.2,351.8 L512.1,353.3"/>
<path d="M512.1,353.3 L510.3,381.1 L508.4,408.9 L506.5,436.6 L504.7,464.4"/>
<path d="M510.3,381.1 L534.1,382.5 L558.0,383.7 L581.8,384.5 L605.7,385.1 L629.6,385.3 L653.5,385.3"/>
<path d="M483.6,462.9 L482.6,476.7 L471.5,600.9"/>
<path d="M482.6,476.7 L504.8,478.3 L527.1,479.7 L549.4,480.8"/>
<path d="M549.4,480.8 L547.1,534.6"/>
<path d="M387.4,592.6 L415.4,595.7 L443.4,598.5 L471.5,600.9"/>
<path d="M386.0,593.3 L387.4,592.6"/>
<path d="M547.9,539.0 L553.0,541.0 L558.0,545.0 L565.0,545.0 L572.0,549.0 L578.8,549.0 L586.0,553.0 L592.0,553.0 L598.6,556.3 L606.0,557.0 L613.5,556.3 L623.0,557.0 L633.3,555.1 L640.0,556.0 L648.1,553.9 L658.0,555.1 L666.0,557.0 L674.1,558.8 L679.0,561.0 L684.0,563.0"/>
<path d="M684.0,563.0 L684.0,579.3 L685.0,606.7 L689.0,613.0 L693.3,620.0 L695.5,630.0 L696.7,640.0 L695.0,652.0 L693.3,663.3"/>
<path d="M684.7,579.2 L718.3,578.2 L751.9,576.6"/>
<path d="M669.5,482.5 L672.9,501.9 L673.5,530.0 L674.1,558.8"/>
<path d="M669.5,482.5 L694.5,481.9 L719.4,481.0 L744.4,479.9 L769.3,478.4 L765.2,492.5 L780.3,491.5"/>
<path d="M669.3,468.6 L668.8,439.4 L668.4,410.2 L665.0,407.5 L657.5,400.0 L660.0,392.5 L652.5,387.0"/>
<path d="M627.3,316.7 L629.0,322.0 L632.5,327.5 L635.0,335.0 L637.5,342.5 L640.0,352.5 L641.0,360.0 L642.5,367.5 L645.0,373.0 L647.5,377.5 L652.5,387.0"/>
<path d="M643.8,370.0 L647.1,369.2 L674.2,368.8 L701.4,368.1 L728.5,367.0 L735.0,375.0 L736.3,381.0"/>
<path d="M629.5,287.9 L650.6,287.9 L671.7,287.6 L692.7,287.1 L713.8,286.3 L734.8,285.3"/>
<path d="M626.7,222.7 L622.3,231.7 L629.0,240.0 L629.7,246.3 L629.5,287.9 L627.0,297.0 L625.7,303.3 L627.3,316.7"/>
<path d="M615.8,135.7 L617.0,150.0 L617.3,163.3 L620.0,175.0 L622.3,186.7 L624.0,196.7 L625.0,210.0 L626.7,222.7"/>
<path d="M713.4,198.5 L712.0,206.0 L709.0,213.3 L704.0,222.0 L699.0,230.0 L700.0,242.0 L704.0,253.3 L713.0,262.0 L724.0,270.0 L729.0,279.0 L732.3,287.7 L734.0,296.0 L737.3,303.3 L743.0,310.0 L750.7,316.7 L755.0,323.0 L757.3,330.0 L755.0,337.0 L752.0,343.0 L748.0,350.0 L741.0,357.0 L737.0,366.0 L735.0,375.0 L736.3,381.0 L737.0,390.0 L741.0,398.0 L748.0,405.0 L755.0,410.0 L761.0,414.0 L764.0,420.0 L763.0,428.0 L767.0,436.0 L773.0,443.0 L778.0,449.0 L781.0,457.0 L783.0,463.0"/>
<path d="M783.0,463.0 L781.0,470.0 L779.0,478.0 L776.0,486.0 L772.0,493.0 L769.0,501.0 L771.0,508.0 L766.0,516.0 L763.0,524.0 L759.0,532.0 L755.0,540.0 L751.0,548.0 L750.0,560.0 L751.7,576.7 L754.0,587.0 L756.7,596.7 L753.0,604.0 L750.0,610.0 L746.0,619.0 L743.3,626.7 L744.0,633.3"/>
<path d="M744.0,633.3 L766.0,632.0 L788.3,631.0 L790.0,640.0 L795.0,651.7"/>
<path d="M748.2,312.4 L777.2,310.4 L806.1,307.9"/>
<path d="M745.1,201.5 L756.0,205.5 L767.3,210.0 L777.0,212.0 L787.3,213.3 L792.0,219.0 L797.3,226.7 L797.0,232.0 L801.9,237.7"/>
<path d="M813.6,327.9 L816.8,361.3 L820.0,394.7 L819.4,404.5 L821.8,413.3 L817.6,420.1 L814.6,429.3 L813.2,438.6"/>
<path d="M869.5,323.3 L874.1,359.2 L878.6,395.2"/>
<path d="M820.4,327.2 L845.1,324.6 L869.7,321.6 L897.5,318.7"/>
<path d="M962.7,339.1 L961.7,346.0 L961.4,357.4 L960.3,366.1 L954.1,374.2 L947.3,379.5 L943.4,388.6 L937.4,392.4 L936.6,401.0 L928.9,407.8 L922.7,403.1 L918.8,399.5 L911.7,403.3 L904.2,404.4 L893.0,401.7 L885.4,394.3 L878.6,395.2 L879.0,403.5 L873.8,405.6 L867.1,413.4 L861.5,421.1 L856.9,428.6 L846.1,431.2 L835.5,435.1 L822.3,435.0 L813.2,438.6 L812.5,448.5 L805.6,457.5 L795.8,459.7 L790.9,463.4"/>
<path d="M783.7,477.3 L816.0,474.7 L815.7,471.1 L912.6,460.8 L956.7,454.4 L993.8,449.1 L1084.1,430.5"/>
<path d="M956.7,454.4 L956.9,461.1 L950.7,469.2 L939.1,475.2 L926.6,482.7 L918.4,489.4 L910.4,497.5 L904.3,506.8"/>
<path d="M768.6,520.1 L792.0,518.5 L815.3,516.6 L838.6,514.4 L861.9,511.9 L885.2,509.2 L908.4,506.2 L931.6,503.0"/>
<path d="M816.3,516.5 L818.9,519.0 L817.8,585.8 L819.6,627.2 L823.0,646.2"/>
<path d="M875.3,510.4 L882.7,537.4 L892.0,567.8 L898.3,580.1 L897.2,594.1 L899.6,607.7 L902.6,618.5 L906.9,626.0"/>
<path d="M844.7,644.2 L840.8,629.4 L840.5,625.3 L902.6,618.5"/>
<path d="M906.9,626.0 L970.8,620.8 L972.4,626.4 L975.9,624.7 L975.1,615.1 L988.3,614.1"/>
<path d="M931.6,503.0 L927.4,512.0 L938.6,517.3 L948.4,528.5 L963.1,540.2 L976.9,552.0 L984.9,564.6 L995.9,575.6"/>
<path d="M931.6,503.0 L949.0,494.7 L977.3,490.1 L980.2,492.4 L984.4,499.6 L1010.0,495.6 L1040.5,516.5"/>
<path d="M970.1,291.6 L971.5,299.0 L1060.2,280.3 L1065.4,283.4 L1069.1,289.7 L1077.9,294.4 L1096.3,300.1"/>
<path d="M954.6,293.6 L967.1,364.3 L1065.9,344.2 L1069.1,340.0 L1073.5,340.1"/>
<path d="M1077.9,294.4 L1071.9,307.6 L1072.9,318.2 L1085.4,327.5 L1078.1,334.7 L1073.5,340.1 L1072.3,349.0"/>
<path d="M1065.9,344.2 L1075.7,377.9 L1089.6,374.9"/>
<path d="M988.9,360.3 L991.6,374.6 L1013.0,363.3 L1015.8,355.6 L1023.7,356.9 L1028.0,363.9 L1033.9,368.9 L1044.8,372.3 L1042.2,387.1 L1049.1,388.5 L1065.9,393.3"/>
<path d="M1028.0,363.9 L1017.0,372.4 L1007.0,382.9 L1000.4,394.1 L992.1,397.1 L986.9,410.8 L982.6,424.3 L964.0,433.2 L953.5,437.7 L945.7,430.5 L932.9,419.9 L928.9,407.8"/>
<path d="M945.7,430.5 L940.4,439.8 L926.4,450.4 L912.6,460.8"/>
<path d="M1079.4,189.6 L1082.9,203.1 L1088.3,227.5 L1091.5,228.1 L1096.8,249.7 L1097.3,269.7 L1101.3,290.2 L1099.3,296.5 L1101.4,298.8"/>
<path d="M1114.6,180.1 L1116.6,191.0 L1114.1,200.4 L1111.3,212.7 L1108.7,222.1 L1110.4,236.0 L1112.9,246.0"/>
<path d="M1096.8,249.7 L1135.7,239.7 L1138.9,236.1 L1144.0,233.2"/>
<path d="M1097.3,269.7 L1131.1,261.2 L1139.6,259.4 L1142.5,266.1 L1148.4,271.6"/>
<path d="M1131.2,261.7 L1136.4,280.2"/>
<path d="M1120.2,169.8 L1127.3,190.9 L1135.2,214.6 L1144.1,226.5"/>
</g></g>
<g opacity="0.999">
<rect x="425.5" y="55" width="131" height="17.5" fill="#dff0f6"/>
<rect x="559" y="55" width="131" height="17.5" fill="#8cc8d9"/>
<rect x="692" y="55" width="131" height="17.5" fill="#05626d"/>
<text x="354.5" y="29" font-size="29" font-weight="bold" fill="#333" textLength="539" lengthAdjust="spacingAndGlyphs">Snow forecast through Monday morning</text>
<text class="leg" x="420" y="101" textLength="56" lengthAdjust="spacingAndGlyphs">1 inch</text>
<text class="leg" x="553" y="101" textLength="13" lengthAdjust="spacingAndGlyphs">6</text>
<text class="leg" x="679.5" y="101" textLength="25" lengthAdjust="spacingAndGlyphs">12</text>
<text class="leg" x="813" y="101" textLength="103" lengthAdjust="spacingAndGlyphs">18 or more</text>
<circle cx="152" cy="102.5" r="6.5" fill="#fff"/><circle cx="152" cy="102.5" r="5.1" fill="#000"/>
<circle cx="128.9" cy="486.5" r="6.5" fill="#fff"/><circle cx="128.9" cy="486.5" r="5.1" fill="#000"/>
<circle cx="808.2" cy="321.6" r="6.5" fill="#fff"/><circle cx="808.2" cy="321.6" r="5.1" fill="#000"/>
<circle cx="847.3" cy="377.8" r="6.5" fill="#fff"/><circle cx="847.3" cy="377.8" r="5.1" fill="#000"/>
<circle cx="762.9" cy="419.9" r="6.5" fill="#fff"/><circle cx="762.9" cy="419.9" r="5.1" fill="#000"/>
<circle cx="886.9" cy="389" r="6.5" fill="#fff"/><circle cx="886.9" cy="389" r="5.1" fill="#000"/>
<circle cx="605.2" cy="506.2" r="6.5" fill="#fff"/><circle cx="605.2" cy="506.2" r="5.1" fill="#000"/>
<circle cx="618.6" cy="586.5" r="6.5" fill="#fff"/><circle cx="618.6" cy="586.5" r="5.1" fill="#000"/>
<circle cx="653.2" cy="669" r="6.5" fill="#fff"/><circle cx="653.2" cy="669" r="5.1" fill="#000"/>
<circle cx="913" cy="540.4" r="6.5" fill="#fff"/><circle cx="913" cy="540.4" r="5.1" fill="#000"/>
<circle cx="1040.4" cy="750.2" r="6.5" fill="#fff"/><circle cx="1040.4" cy="750.2" r="5.1" fill="#000"/>
<circle cx="1100.2" cy="308.6" r="6.5" fill="#fff"/><circle cx="1100.2" cy="308.6" r="5.1" fill="#000"/>
<circle cx="1078.5" cy="335.8" r="6.5" fill="#fff"/><circle cx="1078.5" cy="335.8" r="5.1" fill="#000"/>
<circle cx="1045.5" cy="370" r="6.5" fill="#fff"/><circle cx="1045.5" cy="370" r="5.1" fill="#000"/>
<text class="lab" x="86" y="129.6" textLength="72.3" lengthAdjust="spacingAndGlyphs">Seattle</text>
<text class="lab" x="39" y="513.7" textLength="121" lengthAdjust="spacingAndGlyphs">Los Angeles</text>
<text class="lab" x="810.1" y="312.2" textLength="78.5" lengthAdjust="spacingAndGlyphs">Chicago</text>
<text class="lab" x="735.9" y="361.2" textLength="121.3" lengthAdjust="spacingAndGlyphs">Indianapolis</text>
<text class="lab" x="709.9" y="405" textLength="84.2" lengthAdjust="spacingAndGlyphs">St. Louis</text>
<text class="lab" x="853.5" y="415" textLength="99.5" lengthAdjust="spacingAndGlyphs">Cincinnati</text>
<text class="lab" x="611.5" y="497.1" textLength="146.8" lengthAdjust="spacingAndGlyphs">Oklahoma City</text>
<text class="lab" x="626" y="577.1" textLength="60.2" lengthAdjust="spacingAndGlyphs">Dallas</text>
<text class="lab" x="579.5" y="659.1" textLength="85" lengthAdjust="spacingAndGlyphs">Houston</text>
<text class="lab" x="894.5" y="529.7" textLength="74.6" lengthAdjust="spacingAndGlyphs">Atlanta</text>
<text class="lab" x="1051" y="743.6" textLength="63.2" lengthAdjust="spacingAndGlyphs">Miami</text>
<text class="lab" x="1112.6" y="329.2" textLength="94.9" lengthAdjust="spacingAndGlyphs">New York</text>
<text class="lab" x="1085.8" y="364.7" textLength="122.1" lengthAdjust="spacingAndGlyphs">Philadelphia</text>
<text class="lab" x="973.3" y="399.3" textLength="168.6" lengthAdjust="spacingAndGlyphs">Washington, D.C.</text>
<text class="foot" x="5" y="836" textLength="263" lengthAdjust="spacingAndGlyphs">Note: As of 1 p.m. Friday</text>
<text class="foot" x="5" y="870.5" textLength="377" lengthAdjust="spacingAndGlyphs">Source: National Weather Service</text>
<text class="foot" x="5" y="904" textLength="212" lengthAdjust="spacingAndGlyphs">Carl Churchill/WSJ</text>
</g>
</svg></body></html>
